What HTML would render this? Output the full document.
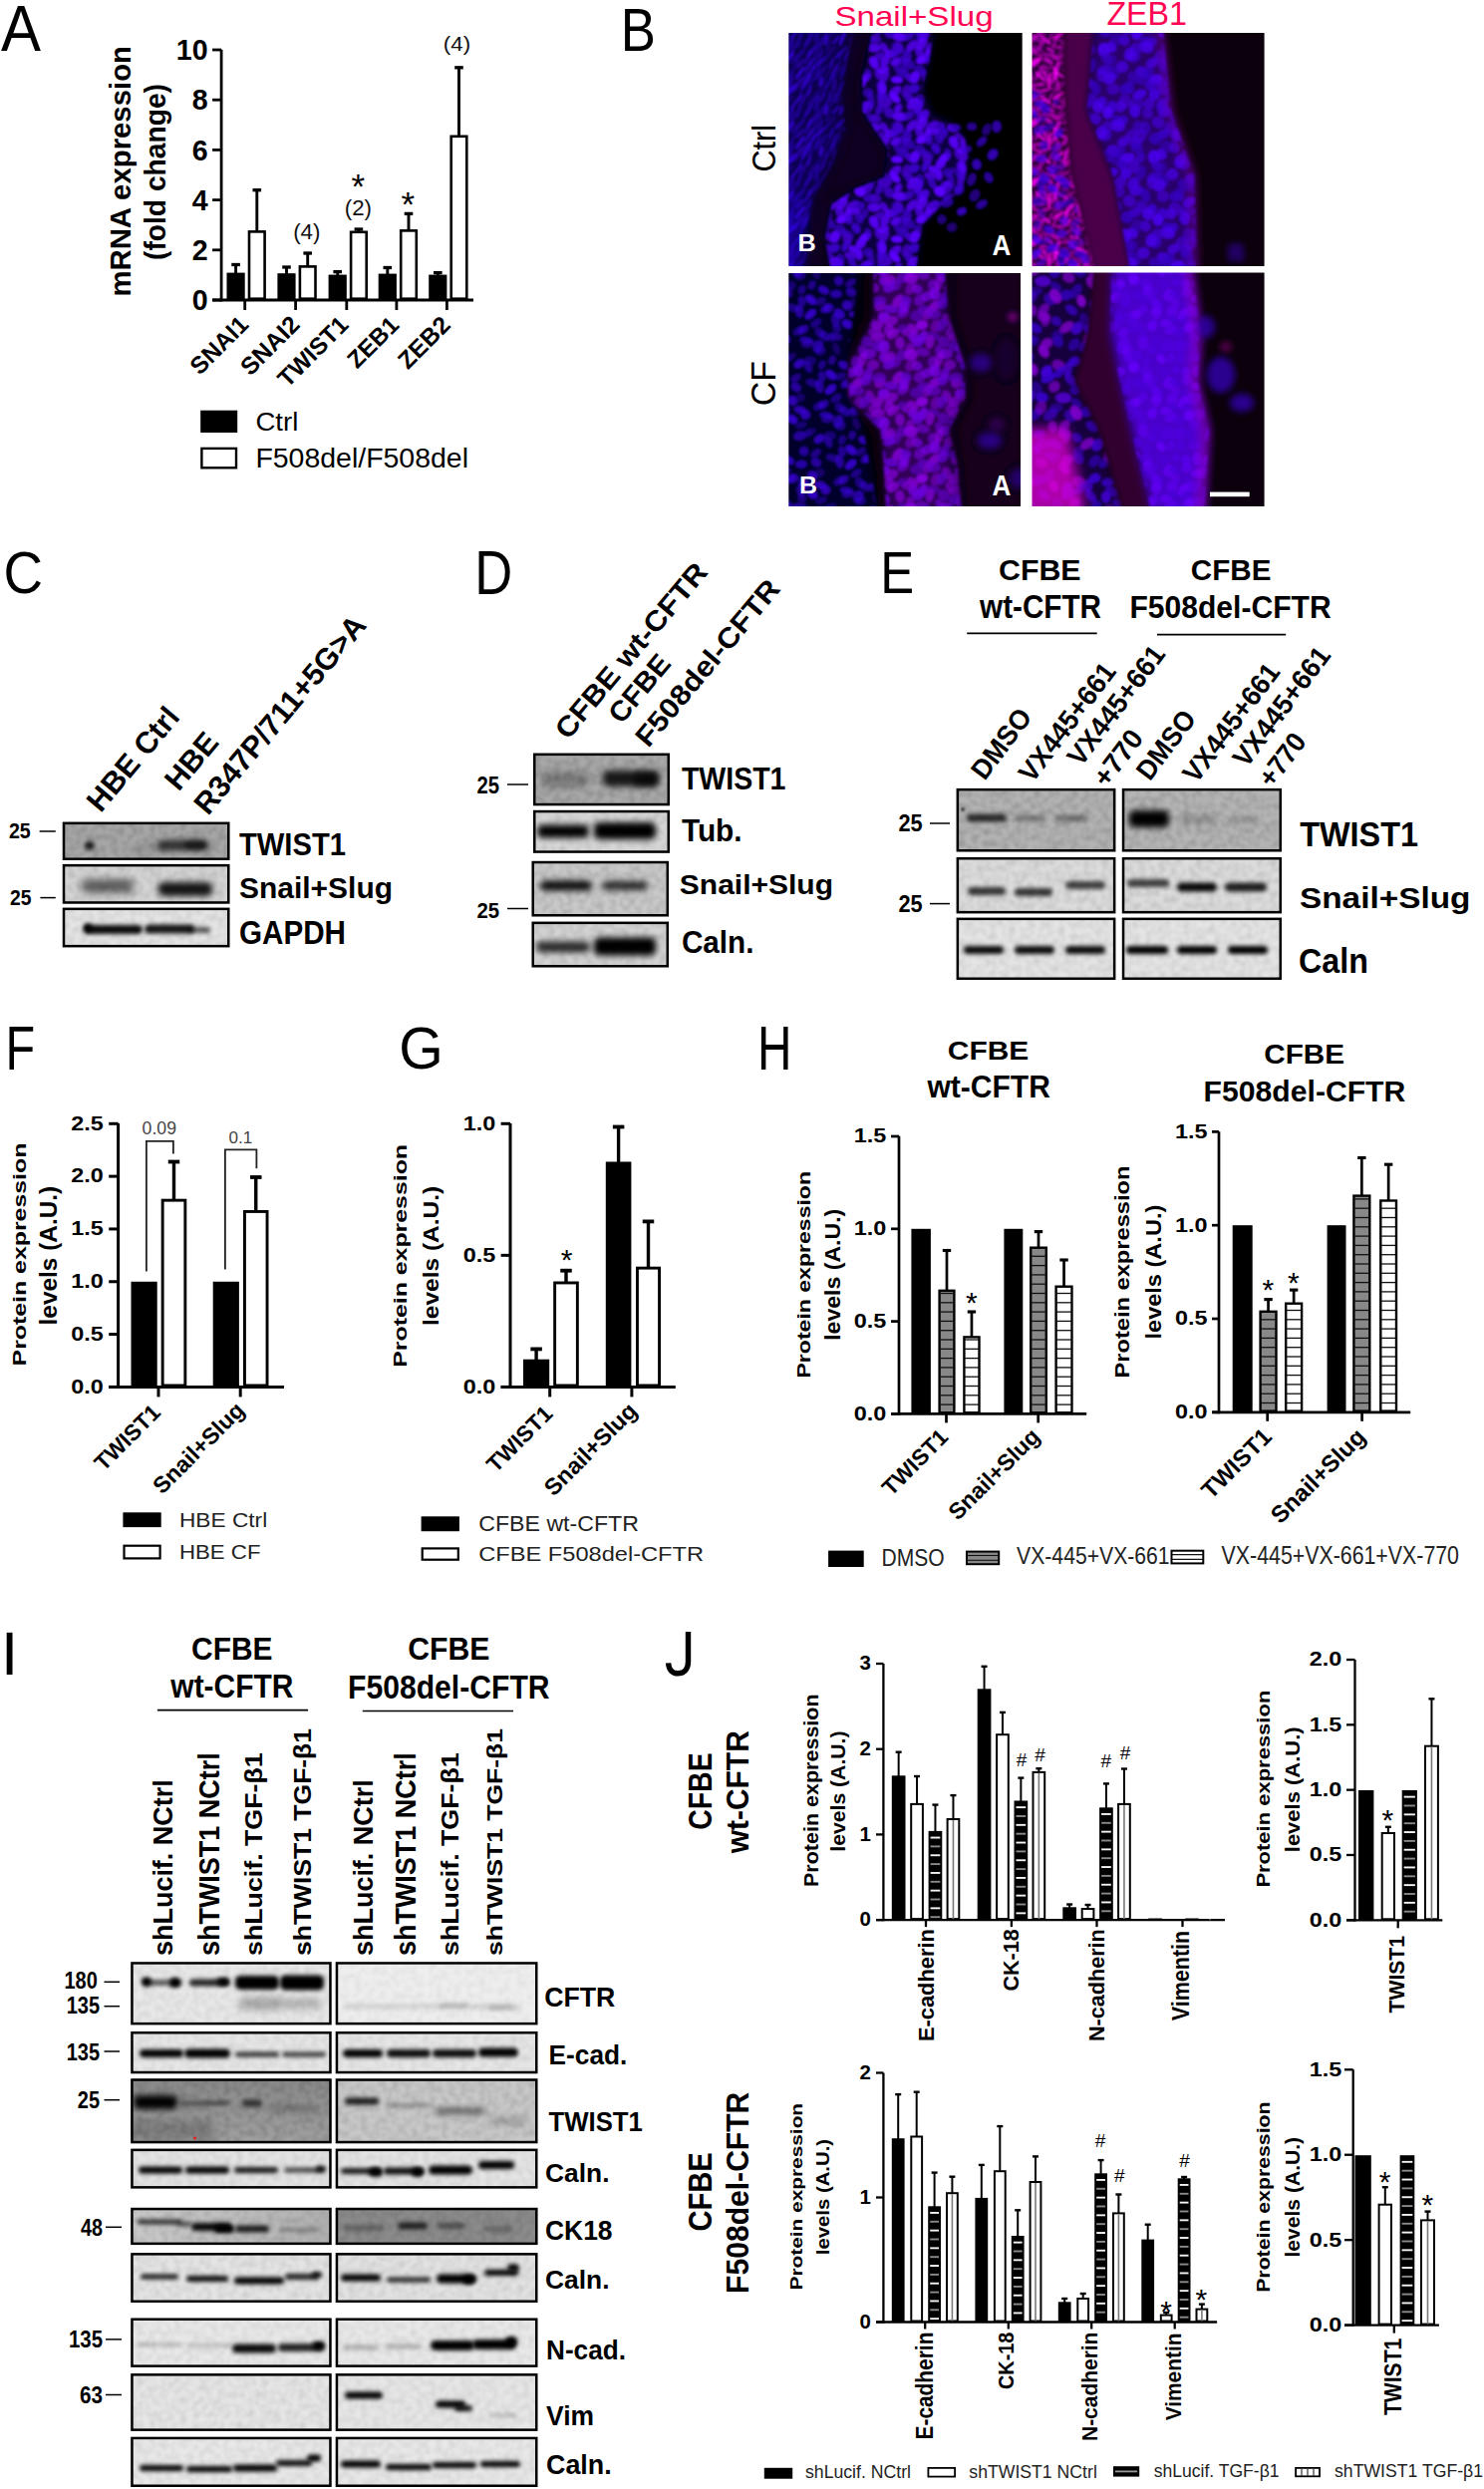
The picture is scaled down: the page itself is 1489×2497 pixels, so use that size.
<!DOCTYPE html>
<html><head><meta charset="utf-8"><style>
html,body{margin:0;padding:0;background:#fff;}
svg{display:block;}
text{font-family:'Liberation Sans', sans-serif;}
</style></head><body>
<svg width="1489" height="2497" viewBox="0 0 1489 2497">
<defs><filter id="soft" x="0" y="0" width="100%" height="100%"><feGaussianBlur stdDeviation="1.0"/></filter><filter id="mb2" x="-100%" y="-100%" width="300%" height="300%"><feGaussianBlur stdDeviation="2"/></filter><filter id="mb3" x="-100%" y="-100%" width="300%" height="300%"><feGaussianBlur stdDeviation="3"/></filter><filter id="mb4" x="-100%" y="-100%" width="300%" height="300%"><feGaussianBlur stdDeviation="4"/></filter><filter id="mb5" x="-100%" y="-100%" width="300%" height="300%"><feGaussianBlur stdDeviation="5"/></filter><filter id="mb6" x="-100%" y="-100%" width="300%" height="300%"><feGaussianBlur stdDeviation="6"/></filter><filter id="mb8" x="-100%" y="-100%" width="300%" height="300%"><feGaussianBlur stdDeviation="8"/></filter><filter id="mb12" x="-100%" y="-100%" width="300%" height="300%"><feGaussianBlur stdDeviation="12"/></filter><clipPath id="clipTL"><rect x="791.3" y="33" width="234.4000000000001" height="234"/></clipPath><clipPath id="clipTR"><rect x="1035.5" y="33" width="233.0999999999999" height="234"/></clipPath><clipPath id="clipBL"><rect x="791.3" y="274" width="232.70000000000005" height="234"/></clipPath><clipPath id="clipBR"><rect x="1035.5" y="273.5" width="233.0999999999999" height="234.5"/></clipPath><pattern id="pStreak" width="70" height="70" patternUnits="userSpaceOnUse"><ellipse cx="-3" cy="2" rx="8.8" ry="1.5" transform="rotate(-62 -3 2)" fill="#4004ff" fill-opacity="0.5"/><ellipse cx="-3" cy="72" rx="8.8" ry="1.5" transform="rotate(-62 -3 72)" fill="#4004ff" fill-opacity="0.5"/><ellipse cx="67" cy="2" rx="8.8" ry="1.5" transform="rotate(-62 67 2)" fill="#4004ff" fill-opacity="0.5"/><ellipse cx="67" cy="72" rx="8.8" ry="1.5" transform="rotate(-62 67 72)" fill="#4004ff" fill-opacity="0.5"/><ellipse cx="7" cy="-2" rx="7.4" ry="2.1" transform="rotate(-66 7 -2)" fill="#2a02c0" fill-opacity="0.6"/><ellipse cx="7" cy="68" rx="7.4" ry="2.1" transform="rotate(-66 7 68)" fill="#2a02c0" fill-opacity="0.6"/><ellipse cx="77" cy="-2" rx="7.4" ry="2.1" transform="rotate(-66 77 -2)" fill="#2a02c0" fill-opacity="0.6"/><ellipse cx="77" cy="68" rx="7.4" ry="2.1" transform="rotate(-66 77 68)" fill="#2a02c0" fill-opacity="0.6"/><ellipse cx="14" cy="2" rx="8.0" ry="1.3" transform="rotate(-69 14 2)" fill="#2a02c0" fill-opacity="0.3"/><ellipse cx="14" cy="72" rx="8.0" ry="1.3" transform="rotate(-69 14 72)" fill="#2a02c0" fill-opacity="0.3"/><ellipse cx="24" cy="3" rx="6.9" ry="1.4" transform="rotate(-65 24 3)" fill="#2a02c0" fill-opacity="0.5"/><ellipse cx="24" cy="73" rx="6.9" ry="1.4" transform="rotate(-65 24 73)" fill="#2a02c0" fill-opacity="0.5"/><ellipse cx="33" cy="3" rx="7.8" ry="1.5" transform="rotate(-55 33 3)" fill="#4004ff" fill-opacity="0.7"/><ellipse cx="33" cy="73" rx="7.8" ry="1.5" transform="rotate(-55 33 73)" fill="#4004ff" fill-opacity="0.7"/><ellipse cx="42" cy="-1" rx="9.6" ry="2.1" transform="rotate(-78 42 -1)" fill="#2001a0" fill-opacity="0.3"/><ellipse cx="42" cy="69" rx="9.6" ry="2.1" transform="rotate(-78 42 69)" fill="#2001a0" fill-opacity="0.3"/><ellipse cx="45" cy="1" rx="8.6" ry="2.1" transform="rotate(-65 45 1)" fill="#3503e0" fill-opacity="0.4"/><ellipse cx="45" cy="71" rx="8.6" ry="2.1" transform="rotate(-65 45 71)" fill="#3503e0" fill-opacity="0.4"/><ellipse cx="55" cy="2" rx="9.2" ry="1.7" transform="rotate(-58 55 2)" fill="#2a02c0" fill-opacity="0.5"/><ellipse cx="55" cy="72" rx="9.2" ry="1.7" transform="rotate(-58 55 72)" fill="#2a02c0" fill-opacity="0.5"/><ellipse cx="-6" cy="-1" rx="8.3" ry="1.6" transform="rotate(-47 -6 -1)" fill="#2001a0" fill-opacity="0.3"/><ellipse cx="-6" cy="69" rx="8.3" ry="1.6" transform="rotate(-47 -6 69)" fill="#2001a0" fill-opacity="0.3"/><ellipse cx="64" cy="-1" rx="8.3" ry="1.6" transform="rotate(-47 64 -1)" fill="#2001a0" fill-opacity="0.3"/><ellipse cx="64" cy="69" rx="8.3" ry="1.6" transform="rotate(-47 64 69)" fill="#2001a0" fill-opacity="0.3"/><ellipse cx="5" cy="5" rx="5.8" ry="2.0" transform="rotate(-67 5 5)" fill="#2a02c0" fill-opacity="0.5"/><ellipse cx="5" cy="75" rx="5.8" ry="2.0" transform="rotate(-67 5 75)" fill="#2a02c0" fill-opacity="0.5"/><ellipse cx="75" cy="5" rx="5.8" ry="2.0" transform="rotate(-67 75 5)" fill="#2a02c0" fill-opacity="0.5"/><ellipse cx="75" cy="75" rx="5.8" ry="2.0" transform="rotate(-67 75 75)" fill="#2a02c0" fill-opacity="0.5"/><ellipse cx="10" cy="9" rx="8.1" ry="1.8" transform="rotate(-56 10 9)" fill="#3503e0" fill-opacity="0.5"/><ellipse cx="23" cy="9" rx="7.7" ry="2.1" transform="rotate(-73 23 9)" fill="#2001a0" fill-opacity="0.7"/><ellipse cx="28" cy="7" rx="6.3" ry="1.7" transform="rotate(-44 28 7)" fill="#2a02c0" fill-opacity="0.4"/><ellipse cx="28" cy="77" rx="6.3" ry="1.7" transform="rotate(-44 28 77)" fill="#2a02c0" fill-opacity="0.4"/><ellipse cx="37" cy="10" rx="9.7" ry="1.7" transform="rotate(-77 37 10)" fill="#3503e0" fill-opacity="0.4"/><ellipse cx="37" cy="80" rx="9.7" ry="1.7" transform="rotate(-77 37 80)" fill="#3503e0" fill-opacity="0.4"/><ellipse cx="40" cy="9" rx="7.8" ry="1.4" transform="rotate(-62 40 9)" fill="#4004ff" fill-opacity="0.6"/><ellipse cx="50" cy="4" rx="7.7" ry="2.0" transform="rotate(-69 50 4)" fill="#2a02c0" fill-opacity="0.6"/><ellipse cx="50" cy="74" rx="7.7" ry="2.0" transform="rotate(-69 50 74)" fill="#2a02c0" fill-opacity="0.6"/><ellipse cx="59" cy="7" rx="5.9" ry="1.3" transform="rotate(-60 59 7)" fill="#2001a0" fill-opacity="0.3"/><ellipse cx="-1" cy="4" rx="9.3" ry="1.7" transform="rotate(-52 -1 4)" fill="#2001a0" fill-opacity="0.4"/><ellipse cx="-1" cy="74" rx="9.3" ry="1.7" transform="rotate(-52 -1 74)" fill="#2001a0" fill-opacity="0.4"/><ellipse cx="69" cy="4" rx="9.3" ry="1.7" transform="rotate(-52 69 4)" fill="#2001a0" fill-opacity="0.4"/><ellipse cx="69" cy="74" rx="9.3" ry="1.7" transform="rotate(-52 69 74)" fill="#2001a0" fill-opacity="0.4"/><ellipse cx="-3" cy="15" rx="6.7" ry="1.3" transform="rotate(-76 -3 15)" fill="#3503e0" fill-opacity="0.5"/><ellipse cx="67" cy="15" rx="6.7" ry="1.3" transform="rotate(-76 67 15)" fill="#3503e0" fill-opacity="0.5"/><ellipse cx="9" cy="13" rx="8.5" ry="1.7" transform="rotate(-77 9 13)" fill="#2001a0" fill-opacity="0.4"/><ellipse cx="79" cy="13" rx="8.5" ry="1.7" transform="rotate(-77 79 13)" fill="#2001a0" fill-opacity="0.4"/><ellipse cx="15" cy="12" rx="5.5" ry="2.1" transform="rotate(-62 15 12)" fill="#3503e0" fill-opacity="0.7"/><ellipse cx="23" cy="17" rx="6.1" ry="1.6" transform="rotate(-81 23 17)" fill="#3503e0" fill-opacity="0.5"/><ellipse cx="31" cy="14" rx="9.2" ry="2.2" transform="rotate(-57 31 14)" fill="#4004ff" fill-opacity="0.4"/><ellipse cx="40" cy="13" rx="7.9" ry="1.5" transform="rotate(-57 40 13)" fill="#2a02c0" fill-opacity="0.6"/><ellipse cx="44" cy="12" rx="5.2" ry="1.3" transform="rotate(-79 44 12)" fill="#2001a0" fill-opacity="0.6"/><ellipse cx="54" cy="12" rx="5.0" ry="2.1" transform="rotate(-80 54 12)" fill="#3503e0" fill-opacity="0.7"/><ellipse cx="-7" cy="12" rx="9.3" ry="2.2" transform="rotate(-54 -7 12)" fill="#2a02c0" fill-opacity="0.4"/><ellipse cx="63" cy="12" rx="9.3" ry="2.2" transform="rotate(-54 63 12)" fill="#2a02c0" fill-opacity="0.4"/><ellipse cx="3" cy="19" rx="8.4" ry="1.6" transform="rotate(-74 3 19)" fill="#2a02c0" fill-opacity="0.7"/><ellipse cx="73" cy="19" rx="8.4" ry="1.6" transform="rotate(-74 73 19)" fill="#2a02c0" fill-opacity="0.7"/><ellipse cx="11" cy="21" rx="5.1" ry="1.8" transform="rotate(-66 11 21)" fill="#2001a0" fill-opacity="0.3"/><ellipse cx="17" cy="20" rx="9.9" ry="2.0" transform="rotate(-68 17 20)" fill="#3503e0" fill-opacity="0.4"/><ellipse cx="24" cy="20" rx="7.7" ry="2.1" transform="rotate(-48 24 20)" fill="#4004ff" fill-opacity="0.6"/><ellipse cx="35" cy="18" rx="5.2" ry="1.3" transform="rotate(-75 35 18)" fill="#3503e0" fill-opacity="0.4"/><ellipse cx="42" cy="21" rx="6.3" ry="1.5" transform="rotate(-77 42 21)" fill="#3503e0" fill-opacity="0.6"/><ellipse cx="51" cy="24" rx="9.4" ry="1.3" transform="rotate(-60 51 24)" fill="#2a02c0" fill-opacity="0.4"/><ellipse cx="58" cy="20" rx="10.0" ry="1.3" transform="rotate(-77 58 20)" fill="#2a02c0" fill-opacity="0.5"/><ellipse cx="-2" cy="20" rx="7.9" ry="1.4" transform="rotate(-79 -2 20)" fill="#2001a0" fill-opacity="0.4"/><ellipse cx="68" cy="20" rx="7.9" ry="1.4" transform="rotate(-79 68 20)" fill="#2001a0" fill-opacity="0.4"/><ellipse cx="-1" cy="28" rx="5.6" ry="2.1" transform="rotate(-78 -1 28)" fill="#2a02c0" fill-opacity="0.6"/><ellipse cx="69" cy="28" rx="5.6" ry="2.1" transform="rotate(-78 69 28)" fill="#2a02c0" fill-opacity="0.6"/><ellipse cx="4" cy="29" rx="5.5" ry="1.3" transform="rotate(-47 4 29)" fill="#2a02c0" fill-opacity="0.3"/><ellipse cx="74" cy="29" rx="5.5" ry="1.3" transform="rotate(-47 74 29)" fill="#2a02c0" fill-opacity="0.3"/><ellipse cx="18" cy="29" rx="5.8" ry="1.7" transform="rotate(-55 18 29)" fill="#3503e0" fill-opacity="0.6"/><ellipse cx="21" cy="31" rx="6.9" ry="2.2" transform="rotate(-46 21 31)" fill="#2001a0" fill-opacity="0.5"/><ellipse cx="33" cy="27" rx="6.0" ry="1.5" transform="rotate(-81 33 27)" fill="#2001a0" fill-opacity="0.6"/><ellipse cx="38" cy="27" rx="7.0" ry="1.3" transform="rotate(-69 38 27)" fill="#4004ff" fill-opacity="0.3"/><ellipse cx="45" cy="29" rx="9.9" ry="1.7" transform="rotate(-54 45 29)" fill="#2001a0" fill-opacity="0.4"/><ellipse cx="55" cy="27" rx="6.2" ry="1.3" transform="rotate(-71 55 27)" fill="#4004ff" fill-opacity="0.3"/><ellipse cx="63" cy="27" rx="6.1" ry="2.2" transform="rotate(-80 63 27)" fill="#3503e0" fill-opacity="0.4"/><ellipse cx="6" cy="37" rx="6.5" ry="1.5" transform="rotate(-60 6 37)" fill="#2a02c0" fill-opacity="0.4"/><ellipse cx="76" cy="37" rx="6.5" ry="1.5" transform="rotate(-60 76 37)" fill="#2a02c0" fill-opacity="0.4"/><ellipse cx="8" cy="33" rx="5.4" ry="1.8" transform="rotate(-79 8 33)" fill="#2a02c0" fill-opacity="0.3"/><ellipse cx="16" cy="37" rx="6.8" ry="1.7" transform="rotate(-48 16 37)" fill="#2a02c0" fill-opacity="0.5"/><ellipse cx="29" cy="32" rx="9.7" ry="1.4" transform="rotate(-51 29 32)" fill="#3503e0" fill-opacity="0.6"/><ellipse cx="34" cy="33" rx="7.6" ry="2.1" transform="rotate(-70 34 33)" fill="#3503e0" fill-opacity="0.3"/><ellipse cx="46" cy="32" rx="6.6" ry="2.1" transform="rotate(-50 46 32)" fill="#3503e0" fill-opacity="0.3"/><ellipse cx="50" cy="33" rx="8.6" ry="1.9" transform="rotate(-72 50 33)" fill="#2a02c0" fill-opacity="0.6"/><ellipse cx="58" cy="35" rx="6.3" ry="1.6" transform="rotate(-60 58 35)" fill="#2a02c0" fill-opacity="0.4"/><ellipse cx="-5" cy="33" rx="5.1" ry="1.8" transform="rotate(-65 -5 33)" fill="#2a02c0" fill-opacity="0.3"/><ellipse cx="65" cy="33" rx="5.1" ry="1.8" transform="rotate(-65 65 33)" fill="#2a02c0" fill-opacity="0.3"/><ellipse cx="-1" cy="40" rx="5.6" ry="1.5" transform="rotate(-49 -1 40)" fill="#4004ff" fill-opacity="0.5"/><ellipse cx="69" cy="40" rx="5.6" ry="1.5" transform="rotate(-49 69 40)" fill="#4004ff" fill-opacity="0.5"/><ellipse cx="5" cy="39" rx="7.4" ry="1.4" transform="rotate(-69 5 39)" fill="#4004ff" fill-opacity="0.7"/><ellipse cx="75" cy="39" rx="7.4" ry="1.4" transform="rotate(-69 75 39)" fill="#4004ff" fill-opacity="0.7"/><ellipse cx="17" cy="40" rx="6.6" ry="1.9" transform="rotate(-44 17 40)" fill="#4004ff" fill-opacity="0.4"/><ellipse cx="24" cy="43" rx="8.3" ry="2.2" transform="rotate(-73 24 43)" fill="#2a02c0" fill-opacity="0.6"/><ellipse cx="32" cy="41" rx="7.6" ry="2.0" transform="rotate(-74 32 41)" fill="#2001a0" fill-opacity="0.6"/><ellipse cx="41" cy="41" rx="8.5" ry="1.9" transform="rotate(-58 41 41)" fill="#2a02c0" fill-opacity="0.7"/><ellipse cx="50" cy="42" rx="5.9" ry="1.5" transform="rotate(-73 50 42)" fill="#2a02c0" fill-opacity="0.5"/><ellipse cx="54" cy="43" rx="6.9" ry="2.0" transform="rotate(-60 54 43)" fill="#2a02c0" fill-opacity="0.5"/><ellipse cx="59" cy="40" rx="5.5" ry="1.9" transform="rotate(-79 59 40)" fill="#3503e0" fill-opacity="0.7"/><ellipse cx="5" cy="52" rx="8.4" ry="1.3" transform="rotate(-48 5 52)" fill="#3503e0" fill-opacity="0.7"/><ellipse cx="75" cy="52" rx="8.4" ry="1.3" transform="rotate(-48 75 52)" fill="#3503e0" fill-opacity="0.7"/><ellipse cx="11" cy="51" rx="7.2" ry="1.4" transform="rotate(-69 11 51)" fill="#3503e0" fill-opacity="0.5"/><ellipse cx="19" cy="47" rx="7.2" ry="1.7" transform="rotate(-46 19 47)" fill="#2001a0" fill-opacity="0.4"/><ellipse cx="26" cy="49" rx="9.8" ry="1.7" transform="rotate(-59 26 49)" fill="#2a02c0" fill-opacity="0.5"/><ellipse cx="36" cy="51" rx="6.0" ry="1.5" transform="rotate(-60 36 51)" fill="#2001a0" fill-opacity="0.4"/><ellipse cx="45" cy="51" rx="7.2" ry="2.1" transform="rotate(-48 45 51)" fill="#3503e0" fill-opacity="0.5"/><ellipse cx="50" cy="51" rx="8.8" ry="1.8" transform="rotate(-67 50 51)" fill="#2001a0" fill-opacity="0.6"/><ellipse cx="-9" cy="46" rx="7.8" ry="1.2" transform="rotate(-70 -9 46)" fill="#3503e0" fill-opacity="0.3"/><ellipse cx="61" cy="46" rx="7.8" ry="1.2" transform="rotate(-70 61 46)" fill="#3503e0" fill-opacity="0.3"/><ellipse cx="-5" cy="51" rx="7.2" ry="1.9" transform="rotate(-52 -5 51)" fill="#2001a0" fill-opacity="0.3"/><ellipse cx="65" cy="51" rx="7.2" ry="1.9" transform="rotate(-52 65 51)" fill="#2001a0" fill-opacity="0.3"/><ellipse cx="-0" cy="56" rx="6.5" ry="1.6" transform="rotate(-51 -0 56)" fill="#4004ff" fill-opacity="0.3"/><ellipse cx="70" cy="56" rx="6.5" ry="1.6" transform="rotate(-51 70 56)" fill="#4004ff" fill-opacity="0.3"/><ellipse cx="11" cy="55" rx="7.8" ry="2.2" transform="rotate(-57 11 55)" fill="#3503e0" fill-opacity="0.7"/><ellipse cx="15" cy="58" rx="7.0" ry="1.9" transform="rotate(-42 15 58)" fill="#2001a0" fill-opacity="0.6"/><ellipse cx="23" cy="57" rx="6.0" ry="1.7" transform="rotate(-55 23 57)" fill="#4004ff" fill-opacity="0.7"/><ellipse cx="30" cy="57" rx="9.9" ry="1.9" transform="rotate(-43 30 57)" fill="#2a02c0" fill-opacity="0.5"/><ellipse cx="41" cy="57" rx="8.2" ry="1.8" transform="rotate(-66 41 57)" fill="#3503e0" fill-opacity="0.5"/><ellipse cx="50" cy="58" rx="9.2" ry="2.0" transform="rotate(-49 50 58)" fill="#2a02c0" fill-opacity="0.4"/><ellipse cx="53" cy="57" rx="9.4" ry="1.7" transform="rotate(-76 53 57)" fill="#2001a0" fill-opacity="0.5"/><ellipse cx="-8" cy="53" rx="7.6" ry="1.9" transform="rotate(-65 -8 53)" fill="#2001a0" fill-opacity="0.3"/><ellipse cx="62" cy="53" rx="7.6" ry="1.9" transform="rotate(-65 62 53)" fill="#2001a0" fill-opacity="0.3"/><ellipse cx="3" cy="-9" rx="8.6" ry="1.4" transform="rotate(-78 3 -9)" fill="#2001a0" fill-opacity="0.5"/><ellipse cx="3" cy="61" rx="8.6" ry="1.4" transform="rotate(-78 3 61)" fill="#2001a0" fill-opacity="0.5"/><ellipse cx="73" cy="-9" rx="8.6" ry="1.4" transform="rotate(-78 73 -9)" fill="#2001a0" fill-opacity="0.5"/><ellipse cx="73" cy="61" rx="8.6" ry="1.4" transform="rotate(-78 73 61)" fill="#2001a0" fill-opacity="0.5"/><ellipse cx="10" cy="-9" rx="9.4" ry="1.5" transform="rotate(-79 10 -9)" fill="#2001a0" fill-opacity="0.5"/><ellipse cx="10" cy="61" rx="9.4" ry="1.5" transform="rotate(-79 10 61)" fill="#2001a0" fill-opacity="0.5"/><ellipse cx="80" cy="-9" rx="9.4" ry="1.5" transform="rotate(-79 80 -9)" fill="#2001a0" fill-opacity="0.5"/><ellipse cx="80" cy="61" rx="9.4" ry="1.5" transform="rotate(-79 80 61)" fill="#2001a0" fill-opacity="0.5"/><ellipse cx="20" cy="60" rx="6.5" ry="1.9" transform="rotate(-42 20 60)" fill="#2001a0" fill-opacity="0.4"/><ellipse cx="29" cy="-8" rx="7.0" ry="1.7" transform="rotate(-72 29 -8)" fill="#2001a0" fill-opacity="0.6"/><ellipse cx="29" cy="62" rx="7.0" ry="1.7" transform="rotate(-72 29 62)" fill="#2001a0" fill-opacity="0.6"/><ellipse cx="33" cy="-6" rx="6.2" ry="1.9" transform="rotate(-48 33 -6)" fill="#4004ff" fill-opacity="0.4"/><ellipse cx="33" cy="64" rx="6.2" ry="1.9" transform="rotate(-48 33 64)" fill="#4004ff" fill-opacity="0.4"/><ellipse cx="42" cy="-5" rx="8.9" ry="1.4" transform="rotate(-57 42 -5)" fill="#3503e0" fill-opacity="0.6"/><ellipse cx="42" cy="65" rx="8.9" ry="1.4" transform="rotate(-57 42 65)" fill="#3503e0" fill-opacity="0.6"/><ellipse cx="51" cy="-6" rx="9.7" ry="1.3" transform="rotate(-44 51 -6)" fill="#4004ff" fill-opacity="0.5"/><ellipse cx="51" cy="64" rx="9.7" ry="1.3" transform="rotate(-44 51 64)" fill="#4004ff" fill-opacity="0.5"/><ellipse cx="56" cy="-9" rx="8.6" ry="1.6" transform="rotate(-52 56 -9)" fill="#3503e0" fill-opacity="0.3"/><ellipse cx="56" cy="61" rx="8.6" ry="1.6" transform="rotate(-52 56 61)" fill="#3503e0" fill-opacity="0.3"/><ellipse cx="-6" cy="-6" rx="5.3" ry="1.4" transform="rotate(-69 -6 -6)" fill="#2a02c0" fill-opacity="0.7"/><ellipse cx="-6" cy="64" rx="5.3" ry="1.4" transform="rotate(-69 -6 64)" fill="#2a02c0" fill-opacity="0.7"/><ellipse cx="64" cy="-6" rx="5.3" ry="1.4" transform="rotate(-69 64 -6)" fill="#2a02c0" fill-opacity="0.7"/><ellipse cx="64" cy="64" rx="5.3" ry="1.4" transform="rotate(-69 64 64)" fill="#2a02c0" fill-opacity="0.7"/></pattern><pattern id="pEpiB" width="80" height="80" patternUnits="userSpaceOnUse"><ellipse cx="4" cy="4" rx="5.1" ry="3.3" transform="rotate(150 4 4)" fill="#3e03d0" fill-opacity="0.7"/><ellipse cx="4" cy="84" rx="5.1" ry="3.3" transform="rotate(150 4 84)" fill="#3e03d0" fill-opacity="0.7"/><ellipse cx="84" cy="4" rx="5.1" ry="3.3" transform="rotate(150 84 4)" fill="#3e03d0" fill-opacity="0.7"/><ellipse cx="84" cy="84" rx="5.1" ry="3.3" transform="rotate(150 84 84)" fill="#3e03d0" fill-opacity="0.7"/><ellipse cx="7" cy="-4" rx="6.7" ry="4.6" transform="rotate(115 7 -4)" fill="#4403c8" fill-opacity="1.0"/><ellipse cx="7" cy="76" rx="6.7" ry="4.6" transform="rotate(115 7 76)" fill="#4403c8" fill-opacity="1.0"/><ellipse cx="87" cy="-4" rx="6.7" ry="4.6" transform="rotate(115 87 -4)" fill="#4403c8" fill-opacity="1.0"/><ellipse cx="87" cy="76" rx="6.7" ry="4.6" transform="rotate(115 87 76)" fill="#4403c8" fill-opacity="1.0"/><ellipse cx="20" cy="-0" rx="5.7" ry="3.3" transform="rotate(5 20 -0)" fill="#5a05ff" fill-opacity="1.0"/><ellipse cx="20" cy="80" rx="5.7" ry="3.3" transform="rotate(5 20 80)" fill="#5a05ff" fill-opacity="1.0"/><ellipse cx="34" cy="-1" rx="7.2" ry="3.4" transform="rotate(32 34 -1)" fill="#5204f0" fill-opacity="0.7"/><ellipse cx="34" cy="79" rx="7.2" ry="3.4" transform="rotate(32 34 79)" fill="#5204f0" fill-opacity="0.7"/><ellipse cx="38" cy="-3" rx="6.3" ry="4.6" transform="rotate(121 38 -3)" fill="#5204f0" fill-opacity="1.0"/><ellipse cx="38" cy="77" rx="6.3" ry="4.6" transform="rotate(121 38 77)" fill="#5204f0" fill-opacity="1.0"/><ellipse cx="50" cy="-1" rx="6.3" ry="4.5" transform="rotate(66 50 -1)" fill="#4403c8" fill-opacity="0.8"/><ellipse cx="50" cy="79" rx="6.3" ry="4.5" transform="rotate(66 50 79)" fill="#4403c8" fill-opacity="0.8"/><ellipse cx="64" cy="4" rx="5.4" ry="4.3" transform="rotate(129 64 4)" fill="#5a05ff" fill-opacity="0.9"/><ellipse cx="64" cy="84" rx="5.4" ry="4.3" transform="rotate(129 64 84)" fill="#5a05ff" fill-opacity="0.9"/><ellipse cx="68" cy="-2" rx="6.2" ry="3.9" transform="rotate(143 68 -2)" fill="#5a05ff" fill-opacity="1.0"/><ellipse cx="68" cy="78" rx="6.2" ry="3.9" transform="rotate(143 68 78)" fill="#5a05ff" fill-opacity="1.0"/><ellipse cx="5" cy="9" rx="7.3" ry="4.2" transform="rotate(88 5 9)" fill="#5204f0" fill-opacity="1.0"/><ellipse cx="85" cy="9" rx="7.3" ry="4.2" transform="rotate(88 85 9)" fill="#5204f0" fill-opacity="1.0"/><ellipse cx="18" cy="12" rx="7.2" ry="4.1" transform="rotate(139 18 12)" fill="#5a05ff" fill-opacity="0.8"/><ellipse cx="29" cy="11" rx="6.3" ry="3.9" transform="rotate(117 29 11)" fill="#4403c8" fill-opacity="0.8"/><ellipse cx="37" cy="9" rx="5.9" ry="4.2" transform="rotate(159 37 9)" fill="#3e03d0" fill-opacity="0.9"/><ellipse cx="49" cy="6" rx="6.9" ry="3.3" transform="rotate(118 49 6)" fill="#3e03d0" fill-opacity="0.9"/><ellipse cx="49" cy="86" rx="6.9" ry="3.3" transform="rotate(118 49 86)" fill="#3e03d0" fill-opacity="0.9"/><ellipse cx="57" cy="12" rx="6.9" ry="3.4" transform="rotate(48 57 12)" fill="#5204f0" fill-opacity="1.0"/><ellipse cx="61" cy="12" rx="6.9" ry="3.3" transform="rotate(65 61 12)" fill="#5204f0" fill-opacity="0.9"/><ellipse cx="71" cy="13" rx="5.1" ry="4.2" transform="rotate(4 71 13)" fill="#3e03d0" fill-opacity="0.7"/><ellipse cx="4" cy="20" rx="6.3" ry="3.2" transform="rotate(106 4 20)" fill="#5204f0" fill-opacity="0.7"/><ellipse cx="84" cy="20" rx="6.3" ry="3.2" transform="rotate(106 84 20)" fill="#5204f0" fill-opacity="0.7"/><ellipse cx="6" cy="17" rx="6.5" ry="4.2" transform="rotate(20 6 17)" fill="#3e03d0" fill-opacity="0.8"/><ellipse cx="86" cy="17" rx="6.5" ry="4.2" transform="rotate(20 86 17)" fill="#3e03d0" fill-opacity="0.8"/><ellipse cx="18" cy="18" rx="6.5" ry="3.3" transform="rotate(48 18 18)" fill="#5a05ff" fill-opacity="1.0"/><ellipse cx="32" cy="18" rx="5.6" ry="4.1" transform="rotate(57 32 18)" fill="#4a03e8" fill-opacity="0.7"/><ellipse cx="43" cy="21" rx="6.3" ry="4.3" transform="rotate(88 43 21)" fill="#3e03d0" fill-opacity="0.7"/><ellipse cx="54" cy="16" rx="6.5" ry="3.8" transform="rotate(3 54 16)" fill="#4403c8" fill-opacity="1.0"/><ellipse cx="62" cy="16" rx="5.3" ry="3.4" transform="rotate(82 62 16)" fill="#5204f0" fill-opacity="0.8"/><ellipse cx="-6" cy="21" rx="7.5" ry="3.5" transform="rotate(80 -6 21)" fill="#3e03d0" fill-opacity="0.7"/><ellipse cx="74" cy="21" rx="7.5" ry="3.5" transform="rotate(80 74 21)" fill="#3e03d0" fill-opacity="0.7"/><ellipse cx="3" cy="29" rx="6.6" ry="3.7" transform="rotate(123 3 29)" fill="#3e03d0" fill-opacity="0.8"/><ellipse cx="83" cy="29" rx="6.6" ry="3.7" transform="rotate(123 83 29)" fill="#3e03d0" fill-opacity="0.8"/><ellipse cx="11" cy="23" rx="6.0" ry="3.4" transform="rotate(130 11 23)" fill="#5204f0" fill-opacity="0.7"/><ellipse cx="21" cy="29" rx="5.3" ry="3.2" transform="rotate(121 21 29)" fill="#5a05ff" fill-opacity="0.8"/><ellipse cx="36" cy="24" rx="7.3" ry="4.5" transform="rotate(131 36 24)" fill="#5a05ff" fill-opacity="0.8"/><ellipse cx="41" cy="27" rx="7.2" ry="4.5" transform="rotate(105 41 27)" fill="#4a03e8" fill-opacity="0.9"/><ellipse cx="55" cy="23" rx="7.4" ry="3.4" transform="rotate(66 55 23)" fill="#3e03d0" fill-opacity="0.8"/><ellipse cx="68" cy="26" rx="5.3" ry="3.5" transform="rotate(140 68 26)" fill="#4a03e8" fill-opacity="0.9"/><ellipse cx="71" cy="28" rx="6.2" ry="4.4" transform="rotate(110 71 28)" fill="#4a03e8" fill-opacity="0.7"/><ellipse cx="-1" cy="39" rx="5.2" ry="4.3" transform="rotate(35 -1 39)" fill="#4403c8" fill-opacity="0.8"/><ellipse cx="79" cy="39" rx="5.2" ry="4.3" transform="rotate(35 79 39)" fill="#4403c8" fill-opacity="0.8"/><ellipse cx="12" cy="33" rx="5.9" ry="4.4" transform="rotate(46 12 33)" fill="#4a03e8" fill-opacity="0.7"/><ellipse cx="23" cy="37" rx="7.4" ry="4.2" transform="rotate(4 23 37)" fill="#5a05ff" fill-opacity="0.9"/><ellipse cx="32" cy="36" rx="5.9" ry="3.8" transform="rotate(144 32 36)" fill="#3e03d0" fill-opacity="0.8"/><ellipse cx="43" cy="37" rx="6.8" ry="3.8" transform="rotate(89 43 37)" fill="#3e03d0" fill-opacity="0.8"/><ellipse cx="47" cy="36" rx="6.4" ry="4.2" transform="rotate(126 47 36)" fill="#4a03e8" fill-opacity="0.9"/><ellipse cx="63" cy="32" rx="5.9" ry="4.6" transform="rotate(26 63 32)" fill="#5a05ff" fill-opacity="1.0"/><ellipse cx="-7" cy="39" rx="6.7" ry="4.3" transform="rotate(7 -7 39)" fill="#3e03d0" fill-opacity="0.8"/><ellipse cx="73" cy="39" rx="6.7" ry="4.3" transform="rotate(7 73 39)" fill="#3e03d0" fill-opacity="0.8"/><ellipse cx="7" cy="48" rx="5.8" ry="3.4" transform="rotate(52 7 48)" fill="#5204f0" fill-opacity="0.8"/><ellipse cx="19" cy="46" rx="5.2" ry="3.9" transform="rotate(129 19 46)" fill="#3e03d0" fill-opacity="0.7"/><ellipse cx="22" cy="48" rx="5.6" ry="4.4" transform="rotate(65 22 48)" fill="#4403c8" fill-opacity="0.9"/><ellipse cx="35" cy="46" rx="7.0" ry="3.7" transform="rotate(133 35 46)" fill="#5a05ff" fill-opacity="0.8"/><ellipse cx="45" cy="44" rx="6.8" ry="4.5" transform="rotate(127 45 44)" fill="#5a05ff" fill-opacity="0.8"/><ellipse cx="55" cy="46" rx="7.3" ry="3.3" transform="rotate(148 55 46)" fill="#5204f0" fill-opacity="0.8"/><ellipse cx="62" cy="47" rx="6.0" ry="4.4" transform="rotate(165 62 47)" fill="#3e03d0" fill-opacity="0.8"/><ellipse cx="-3" cy="48" rx="6.6" ry="4.3" transform="rotate(3 -3 48)" fill="#5204f0" fill-opacity="0.9"/><ellipse cx="77" cy="48" rx="6.6" ry="4.3" transform="rotate(3 77 48)" fill="#5204f0" fill-opacity="0.9"/><ellipse cx="1" cy="57" rx="7.2" ry="3.3" transform="rotate(147 1 57)" fill="#5204f0" fill-opacity="0.7"/><ellipse cx="81" cy="57" rx="7.2" ry="3.3" transform="rotate(147 81 57)" fill="#5204f0" fill-opacity="0.7"/><ellipse cx="14" cy="54" rx="6.2" ry="4.1" transform="rotate(2 14 54)" fill="#5a05ff" fill-opacity="0.8"/><ellipse cx="20" cy="51" rx="6.8" ry="4.6" transform="rotate(137 20 51)" fill="#3e03d0" fill-opacity="0.7"/><ellipse cx="30" cy="56" rx="6.6" ry="4.3" transform="rotate(87 30 56)" fill="#3e03d0" fill-opacity="0.8"/><ellipse cx="43" cy="53" rx="7.5" ry="4.1" transform="rotate(63 43 53)" fill="#5a05ff" fill-opacity="0.7"/><ellipse cx="51" cy="56" rx="6.8" ry="3.3" transform="rotate(90 51 56)" fill="#5a05ff" fill-opacity="0.9"/><ellipse cx="57" cy="52" rx="6.2" ry="3.2" transform="rotate(6 57 52)" fill="#5a05ff" fill-opacity="0.8"/><ellipse cx="67" cy="55" rx="6.2" ry="3.4" transform="rotate(124 67 55)" fill="#3e03d0" fill-opacity="0.7"/><ellipse cx="8" cy="61" rx="6.6" ry="4.3" transform="rotate(118 8 61)" fill="#5a05ff" fill-opacity="0.8"/><ellipse cx="19" cy="62" rx="5.5" ry="4.0" transform="rotate(153 19 62)" fill="#5204f0" fill-opacity="0.9"/><ellipse cx="26" cy="61" rx="5.6" ry="3.8" transform="rotate(42 26 61)" fill="#3e03d0" fill-opacity="0.7"/><ellipse cx="32" cy="64" rx="7.0" ry="4.4" transform="rotate(38 32 64)" fill="#3e03d0" fill-opacity="0.7"/><ellipse cx="45" cy="60" rx="6.1" ry="3.6" transform="rotate(161 45 60)" fill="#5a05ff" fill-opacity="1.0"/><ellipse cx="52" cy="60" rx="5.4" ry="4.4" transform="rotate(84 52 60)" fill="#3e03d0" fill-opacity="0.7"/><ellipse cx="62" cy="59" rx="5.7" ry="4.0" transform="rotate(68 62 59)" fill="#3e03d0" fill-opacity="0.7"/><ellipse cx="-3" cy="63" rx="6.5" ry="4.2" transform="rotate(58 -3 63)" fill="#5a05ff" fill-opacity="0.9"/><ellipse cx="77" cy="63" rx="6.5" ry="4.2" transform="rotate(58 77 63)" fill="#5a05ff" fill-opacity="0.9"/><ellipse cx="3" cy="-5" rx="6.9" ry="4.6" transform="rotate(52 3 -5)" fill="#4403c8" fill-opacity="0.9"/><ellipse cx="3" cy="75" rx="6.9" ry="4.6" transform="rotate(52 3 75)" fill="#4403c8" fill-opacity="0.9"/><ellipse cx="83" cy="-5" rx="6.9" ry="4.6" transform="rotate(52 83 -5)" fill="#4403c8" fill-opacity="0.9"/><ellipse cx="83" cy="75" rx="6.9" ry="4.6" transform="rotate(52 83 75)" fill="#4403c8" fill-opacity="0.9"/><ellipse cx="6" cy="70" rx="6.2" ry="3.6" transform="rotate(162 6 70)" fill="#5a05ff" fill-opacity="0.8"/><ellipse cx="86" cy="70" rx="6.2" ry="3.6" transform="rotate(162 86 70)" fill="#5a05ff" fill-opacity="0.8"/><ellipse cx="24" cy="69" rx="7.4" ry="3.4" transform="rotate(5 24 69)" fill="#3e03d0" fill-opacity="0.7"/><ellipse cx="26" cy="-6" rx="6.8" ry="4.1" transform="rotate(2 26 -6)" fill="#3e03d0" fill-opacity="0.7"/><ellipse cx="26" cy="74" rx="6.8" ry="4.1" transform="rotate(2 26 74)" fill="#3e03d0" fill-opacity="0.7"/><ellipse cx="43" cy="70" rx="5.7" ry="4.1" transform="rotate(27 43 70)" fill="#3e03d0" fill-opacity="0.7"/><ellipse cx="50" cy="-5" rx="7.0" ry="3.7" transform="rotate(25 50 -5)" fill="#3e03d0" fill-opacity="0.7"/><ellipse cx="50" cy="75" rx="7.0" ry="3.7" transform="rotate(25 50 75)" fill="#3e03d0" fill-opacity="0.7"/><ellipse cx="59" cy="69" rx="5.6" ry="4.1" transform="rotate(61 59 69)" fill="#3e03d0" fill-opacity="0.9"/><ellipse cx="71" cy="-6" rx="5.4" ry="3.3" transform="rotate(80 71 -6)" fill="#3e03d0" fill-opacity="0.7"/><ellipse cx="71" cy="74" rx="5.4" ry="3.3" transform="rotate(80 71 74)" fill="#3e03d0" fill-opacity="0.7"/></pattern><pattern id="pEpiB2" width="84" height="84" patternUnits="userSpaceOnUse" patternTransform="rotate(20)"><ellipse cx="-3" cy="0" rx="6.2" ry="5.4" transform="rotate(113 -3 0)" fill="#3c03d0" fill-opacity="0.8"/><ellipse cx="-3" cy="84" rx="6.2" ry="5.4" transform="rotate(113 -3 84)" fill="#3c03d0" fill-opacity="0.8"/><ellipse cx="81" cy="0" rx="6.2" ry="5.4" transform="rotate(113 81 0)" fill="#3c03d0" fill-opacity="0.8"/><ellipse cx="81" cy="84" rx="6.2" ry="5.4" transform="rotate(113 81 84)" fill="#3c03d0" fill-opacity="0.8"/><ellipse cx="16" cy="-0" rx="6.6" ry="4.8" transform="rotate(129 16 -0)" fill="#4a04f0" fill-opacity="0.7"/><ellipse cx="16" cy="84" rx="6.6" ry="4.8" transform="rotate(129 16 84)" fill="#4a04f0" fill-opacity="0.7"/><ellipse cx="28" cy="-3" rx="5.8" ry="5.9" transform="rotate(70 28 -3)" fill="#3c03d0" fill-opacity="0.8"/><ellipse cx="28" cy="81" rx="5.8" ry="5.9" transform="rotate(70 28 81)" fill="#3c03d0" fill-opacity="0.8"/><ellipse cx="31" cy="2" rx="6.7" ry="5.0" transform="rotate(6 31 2)" fill="#3402c0" fill-opacity="0.7"/><ellipse cx="31" cy="86" rx="6.7" ry="5.0" transform="rotate(6 31 86)" fill="#3402c0" fill-opacity="0.7"/><ellipse cx="50" cy="4" rx="6.9" ry="5.9" transform="rotate(71 50 4)" fill="#4a04f0" fill-opacity="0.9"/><ellipse cx="50" cy="88" rx="6.9" ry="5.9" transform="rotate(71 50 88)" fill="#4a04f0" fill-opacity="0.9"/><ellipse cx="56" cy="-1" rx="5.6" ry="5.2" transform="rotate(46 56 -1)" fill="#4a04f0" fill-opacity="0.8"/><ellipse cx="56" cy="83" rx="5.6" ry="5.2" transform="rotate(46 56 83)" fill="#4a04f0" fill-opacity="0.8"/><ellipse cx="-8" cy="-1" rx="7.2" ry="5.4" transform="rotate(96 -8 -1)" fill="#4a04f0" fill-opacity="0.8"/><ellipse cx="-8" cy="83" rx="7.2" ry="5.4" transform="rotate(96 -8 83)" fill="#4a04f0" fill-opacity="0.8"/><ellipse cx="76" cy="-1" rx="7.2" ry="5.4" transform="rotate(96 76 -1)" fill="#4a04f0" fill-opacity="0.8"/><ellipse cx="76" cy="83" rx="7.2" ry="5.4" transform="rotate(96 76 83)" fill="#4a04f0" fill-opacity="0.8"/><ellipse cx="10" cy="12" rx="7.4" ry="5.8" transform="rotate(178 10 12)" fill="#4403e0" fill-opacity="0.8"/><ellipse cx="16" cy="11" rx="6.6" ry="4.7" transform="rotate(118 16 11)" fill="#3402c0" fill-opacity="0.7"/><ellipse cx="25" cy="14" rx="7.5" ry="4.6" transform="rotate(144 25 14)" fill="#4a04f0" fill-opacity="0.9"/><ellipse cx="37" cy="10" rx="6.3" ry="4.7" transform="rotate(109 37 10)" fill="#3c03d0" fill-opacity="0.7"/><ellipse cx="55" cy="11" rx="7.3" ry="4.9" transform="rotate(42 55 11)" fill="#3c03d0" fill-opacity="0.7"/><ellipse cx="61" cy="11" rx="5.6" ry="4.8" transform="rotate(73 61 11)" fill="#3402c0" fill-opacity="0.6"/><ellipse cx="73" cy="14" rx="6.1" ry="5.9" transform="rotate(161 73 14)" fill="#4a04f0" fill-opacity="0.7"/><ellipse cx="4" cy="20" rx="7.2" ry="5.5" transform="rotate(18 4 20)" fill="#3402c0" fill-opacity="0.7"/><ellipse cx="88" cy="20" rx="7.2" ry="5.5" transform="rotate(18 88 20)" fill="#3402c0" fill-opacity="0.7"/><ellipse cx="14" cy="19" rx="6.1" ry="6.0" transform="rotate(94 14 19)" fill="#3402c0" fill-opacity="0.6"/><ellipse cx="23" cy="22" rx="5.5" ry="5.4" transform="rotate(114 23 22)" fill="#3c03d0" fill-opacity="0.8"/><ellipse cx="34" cy="20" rx="7.3" ry="5.4" transform="rotate(50 34 20)" fill="#4a04f0" fill-opacity="0.6"/><ellipse cx="43" cy="23" rx="7.4" ry="4.9" transform="rotate(82 43 23)" fill="#3402c0" fill-opacity="0.7"/><ellipse cx="57" cy="23" rx="7.2" ry="4.9" transform="rotate(142 57 23)" fill="#3c03d0" fill-opacity="0.8"/><ellipse cx="67" cy="22" rx="7.0" ry="5.0" transform="rotate(40 67 22)" fill="#3402c0" fill-opacity="0.7"/><ellipse cx="3" cy="31" rx="6.9" ry="4.7" transform="rotate(58 3 31)" fill="#3402c0" fill-opacity="0.8"/><ellipse cx="87" cy="31" rx="6.9" ry="4.7" transform="rotate(58 87 31)" fill="#3402c0" fill-opacity="0.8"/><ellipse cx="15" cy="34" rx="7.4" ry="4.6" transform="rotate(134 15 34)" fill="#4403e0" fill-opacity="0.9"/><ellipse cx="29" cy="29" rx="5.7" ry="5.3" transform="rotate(34 29 29)" fill="#4403e0" fill-opacity="0.9"/><ellipse cx="40" cy="35" rx="5.7" ry="5.4" transform="rotate(106 40 35)" fill="#4a04f0" fill-opacity="0.7"/><ellipse cx="57" cy="29" rx="6.2" ry="5.1" transform="rotate(76 57 29)" fill="#4a04f0" fill-opacity="0.6"/><ellipse cx="65" cy="29" rx="6.5" ry="5.7" transform="rotate(112 65 29)" fill="#4a04f0" fill-opacity="0.8"/><ellipse cx="-1" cy="34" rx="5.6" ry="5.2" transform="rotate(136 -1 34)" fill="#3402c0" fill-opacity="0.8"/><ellipse cx="83" cy="34" rx="5.6" ry="5.2" transform="rotate(136 83 34)" fill="#3402c0" fill-opacity="0.8"/><ellipse cx="4" cy="45" rx="7.2" ry="6.0" transform="rotate(22 4 45)" fill="#4403e0" fill-opacity="0.6"/><ellipse cx="88" cy="45" rx="7.2" ry="6.0" transform="rotate(22 88 45)" fill="#4403e0" fill-opacity="0.6"/><ellipse cx="16" cy="44" rx="7.3" ry="5.8" transform="rotate(162 16 44)" fill="#3c03d0" fill-opacity="0.6"/><ellipse cx="27" cy="39" rx="6.1" ry="5.5" transform="rotate(94 27 39)" fill="#4a04f0" fill-opacity="0.6"/><ellipse cx="40" cy="38" rx="5.8" ry="6.0" transform="rotate(97 40 38)" fill="#3c03d0" fill-opacity="0.7"/><ellipse cx="45" cy="42" rx="7.1" ry="4.8" transform="rotate(143 45 42)" fill="#4403e0" fill-opacity="0.8"/><ellipse cx="55" cy="43" rx="7.2" ry="4.6" transform="rotate(49 55 43)" fill="#3402c0" fill-opacity="0.8"/><ellipse cx="72" cy="38" rx="6.1" ry="5.7" transform="rotate(154 72 38)" fill="#4403e0" fill-opacity="0.6"/><ellipse cx="1" cy="52" rx="5.6" ry="5.6" transform="rotate(93 1 52)" fill="#4a04f0" fill-opacity="0.7"/><ellipse cx="85" cy="52" rx="5.6" ry="5.6" transform="rotate(93 85 52)" fill="#4a04f0" fill-opacity="0.7"/><ellipse cx="16" cy="51" rx="6.8" ry="5.4" transform="rotate(65 16 51)" fill="#4403e0" fill-opacity="0.9"/><ellipse cx="29" cy="49" rx="5.5" ry="5.6" transform="rotate(143 29 49)" fill="#4403e0" fill-opacity="0.6"/><ellipse cx="42" cy="54" rx="6.6" ry="5.5" transform="rotate(8 42 54)" fill="#4a04f0" fill-opacity="0.6"/><ellipse cx="55" cy="55" rx="6.1" ry="5.9" transform="rotate(75 55 55)" fill="#3c03d0" fill-opacity="0.7"/><ellipse cx="66" cy="54" rx="5.6" ry="5.1" transform="rotate(77 66 54)" fill="#3c03d0" fill-opacity="0.9"/><ellipse cx="-7" cy="56" rx="7.1" ry="4.9" transform="rotate(84 -7 56)" fill="#3c03d0" fill-opacity="0.9"/><ellipse cx="77" cy="56" rx="7.1" ry="4.9" transform="rotate(84 77 56)" fill="#3c03d0" fill-opacity="0.9"/><ellipse cx="3" cy="66" rx="6.6" ry="5.1" transform="rotate(20 3 66)" fill="#3402c0" fill-opacity="0.8"/><ellipse cx="87" cy="66" rx="6.6" ry="5.1" transform="rotate(20 87 66)" fill="#3402c0" fill-opacity="0.8"/><ellipse cx="8" cy="64" rx="5.5" ry="4.7" transform="rotate(139 8 64)" fill="#3c03d0" fill-opacity="0.8"/><ellipse cx="25" cy="65" rx="6.3" ry="5.7" transform="rotate(61 25 65)" fill="#3c03d0" fill-opacity="0.6"/><ellipse cx="32" cy="63" rx="6.9" ry="4.9" transform="rotate(54 32 63)" fill="#3c03d0" fill-opacity="0.6"/><ellipse cx="51" cy="63" rx="6.9" ry="4.7" transform="rotate(135 51 63)" fill="#3c03d0" fill-opacity="0.8"/><ellipse cx="64" cy="60" rx="5.7" ry="6.0" transform="rotate(116 64 60)" fill="#4a04f0" fill-opacity="0.8"/><ellipse cx="75" cy="62" rx="6.2" ry="5.1" transform="rotate(63 75 62)" fill="#4a04f0" fill-opacity="0.9"/><ellipse cx="5" cy="71" rx="7.4" ry="5.8" transform="rotate(174 5 71)" fill="#4a04f0" fill-opacity="0.8"/><ellipse cx="89" cy="71" rx="7.4" ry="5.8" transform="rotate(174 89 71)" fill="#4a04f0" fill-opacity="0.8"/><ellipse cx="21" cy="75" rx="6.5" ry="5.2" transform="rotate(116 21 75)" fill="#4403e0" fill-opacity="0.6"/><ellipse cx="30" cy="73" rx="6.9" ry="5.9" transform="rotate(106 30 73)" fill="#4403e0" fill-opacity="0.6"/><ellipse cx="45" cy="70" rx="6.5" ry="5.9" transform="rotate(153 45 70)" fill="#3402c0" fill-opacity="0.8"/><ellipse cx="58" cy="74" rx="6.7" ry="6.0" transform="rotate(160 58 74)" fill="#3402c0" fill-opacity="0.6"/><ellipse cx="66" cy="72" rx="5.8" ry="5.0" transform="rotate(58 66 72)" fill="#4403e0" fill-opacity="0.7"/><ellipse cx="-4" cy="75" rx="5.9" ry="5.4" transform="rotate(162 -4 75)" fill="#3c03d0" fill-opacity="0.7"/><ellipse cx="80" cy="75" rx="5.9" ry="5.4" transform="rotate(162 80 75)" fill="#3c03d0" fill-opacity="0.7"/></pattern><pattern id="pMag" width="60" height="60" patternUnits="userSpaceOnUse"><ellipse cx="-2" cy="-2" rx="5.6" ry="1.4" transform="rotate(12 -2 -2)" fill="#ff07ff" fill-opacity="0.5"/><ellipse cx="-2" cy="58" rx="5.6" ry="1.4" transform="rotate(12 -2 58)" fill="#ff07ff" fill-opacity="0.5"/><ellipse cx="58" cy="-2" rx="5.6" ry="1.4" transform="rotate(12 58 -2)" fill="#ff07ff" fill-opacity="0.5"/><ellipse cx="58" cy="58" rx="5.6" ry="1.4" transform="rotate(12 58 58)" fill="#ff07ff" fill-opacity="0.5"/><ellipse cx="5" cy="3" rx="4.2" ry="1.7" transform="rotate(65 5 3)" fill="#e002e0" fill-opacity="0.7"/><ellipse cx="5" cy="63" rx="4.2" ry="1.7" transform="rotate(65 5 63)" fill="#e002e0" fill-opacity="0.7"/><ellipse cx="12" cy="2" rx="4.1" ry="1.8" transform="rotate(47 12 2)" fill="#c001c8" fill-opacity="0.4"/><ellipse cx="12" cy="62" rx="4.1" ry="1.8" transform="rotate(47 12 62)" fill="#c001c8" fill-opacity="0.4"/><ellipse cx="19" cy="1" rx="6.9" ry="2.1" transform="rotate(158 19 1)" fill="#ff03f0" fill-opacity="0.7"/><ellipse cx="19" cy="61" rx="6.9" ry="2.1" transform="rotate(158 19 61)" fill="#ff03f0" fill-opacity="0.7"/><ellipse cx="26" cy="-1" rx="5.0" ry="1.4" transform="rotate(50 26 -1)" fill="#c001c8" fill-opacity="0.3"/><ellipse cx="26" cy="59" rx="5.0" ry="1.4" transform="rotate(50 26 59)" fill="#c001c8" fill-opacity="0.3"/><ellipse cx="32" cy="1" rx="5.2" ry="2.0" transform="rotate(35 32 1)" fill="#ff07ff" fill-opacity="0.6"/><ellipse cx="32" cy="61" rx="5.2" ry="2.0" transform="rotate(35 32 61)" fill="#ff07ff" fill-opacity="0.6"/><ellipse cx="40" cy="-2" rx="5.2" ry="2.0" transform="rotate(8 40 -2)" fill="#ff03f0" fill-opacity="0.5"/><ellipse cx="40" cy="58" rx="5.2" ry="2.0" transform="rotate(8 40 58)" fill="#ff03f0" fill-opacity="0.5"/><ellipse cx="50" cy="0" rx="6.6" ry="1.9" transform="rotate(26 50 0)" fill="#e002e0" fill-opacity="0.3"/><ellipse cx="50" cy="60" rx="6.6" ry="1.9" transform="rotate(26 50 60)" fill="#e002e0" fill-opacity="0.3"/><ellipse cx="-4" cy="1" rx="5.8" ry="1.4" transform="rotate(78 -4 1)" fill="#c001c8" fill-opacity="0.6"/><ellipse cx="-4" cy="61" rx="5.8" ry="1.4" transform="rotate(78 -4 61)" fill="#c001c8" fill-opacity="0.6"/><ellipse cx="56" cy="1" rx="5.8" ry="1.4" transform="rotate(78 56 1)" fill="#c001c8" fill-opacity="0.6"/><ellipse cx="56" cy="61" rx="5.8" ry="1.4" transform="rotate(78 56 61)" fill="#c001c8" fill-opacity="0.6"/><ellipse cx="2" cy="5" rx="7.4" ry="1.9" transform="rotate(50 2 5)" fill="#e002e0" fill-opacity="0.4"/><ellipse cx="2" cy="65" rx="7.4" ry="1.9" transform="rotate(50 2 65)" fill="#e002e0" fill-opacity="0.4"/><ellipse cx="62" cy="5" rx="7.4" ry="1.9" transform="rotate(50 62 5)" fill="#e002e0" fill-opacity="0.4"/><ellipse cx="62" cy="65" rx="7.4" ry="1.9" transform="rotate(50 62 65)" fill="#e002e0" fill-opacity="0.4"/><ellipse cx="13" cy="5" rx="4.1" ry="1.6" transform="rotate(15 13 5)" fill="#c001c8" fill-opacity="0.6"/><ellipse cx="13" cy="65" rx="4.1" ry="1.6" transform="rotate(15 13 65)" fill="#c001c8" fill-opacity="0.6"/><ellipse cx="19" cy="3" rx="5.2" ry="2.2" transform="rotate(140 19 3)" fill="#ff07ff" fill-opacity="0.7"/><ellipse cx="19" cy="63" rx="5.2" ry="2.2" transform="rotate(140 19 63)" fill="#ff07ff" fill-opacity="0.7"/><ellipse cx="26" cy="7" rx="4.3" ry="1.8" transform="rotate(161 26 7)" fill="#c001c8" fill-opacity="0.4"/><ellipse cx="29" cy="8" rx="5.3" ry="1.2" transform="rotate(8 29 8)" fill="#e002e0" fill-opacity="0.5"/><ellipse cx="38" cy="9" rx="6.3" ry="1.6" transform="rotate(37 38 9)" fill="#e002e0" fill-opacity="0.4"/><ellipse cx="41" cy="7" rx="6.4" ry="2.2" transform="rotate(109 41 7)" fill="#ff07ff" fill-opacity="0.6"/><ellipse cx="41" cy="67" rx="6.4" ry="2.2" transform="rotate(109 41 67)" fill="#ff07ff" fill-opacity="0.6"/><ellipse cx="49" cy="3" rx="7.3" ry="1.5" transform="rotate(179 49 3)" fill="#e002e0" fill-opacity="0.5"/><ellipse cx="49" cy="63" rx="7.3" ry="1.5" transform="rotate(179 49 63)" fill="#e002e0" fill-opacity="0.5"/><ellipse cx="-5" cy="6" rx="4.1" ry="1.6" transform="rotate(45 -5 6)" fill="#ff07ff" fill-opacity="0.7"/><ellipse cx="55" cy="6" rx="4.1" ry="1.6" transform="rotate(45 55 6)" fill="#ff07ff" fill-opacity="0.7"/><ellipse cx="-0" cy="9" rx="5.0" ry="1.4" transform="rotate(37 -0 9)" fill="#e002e0" fill-opacity="0.5"/><ellipse cx="60" cy="9" rx="5.0" ry="1.4" transform="rotate(37 60 9)" fill="#e002e0" fill-opacity="0.5"/><ellipse cx="5" cy="11" rx="7.6" ry="1.5" transform="rotate(21 5 11)" fill="#ff07ff" fill-opacity="0.7"/><ellipse cx="65" cy="11" rx="7.6" ry="1.5" transform="rotate(21 65 11)" fill="#ff07ff" fill-opacity="0.7"/><ellipse cx="14" cy="14" rx="6.9" ry="1.2" transform="rotate(70 14 14)" fill="#ff07ff" fill-opacity="0.4"/><ellipse cx="22" cy="14" rx="7.7" ry="1.5" transform="rotate(118 22 14)" fill="#c001c8" fill-opacity="0.7"/><ellipse cx="27" cy="13" rx="6.7" ry="1.5" transform="rotate(166 27 13)" fill="#ff07ff" fill-opacity="0.3"/><ellipse cx="36" cy="14" rx="6.7" ry="1.2" transform="rotate(162 36 14)" fill="#e002e0" fill-opacity="0.6"/><ellipse cx="39" cy="14" rx="7.5" ry="1.9" transform="rotate(84 39 14)" fill="#ff07ff" fill-opacity="0.6"/><ellipse cx="49" cy="10" rx="4.0" ry="2.1" transform="rotate(2 49 10)" fill="#c001c8" fill-opacity="0.4"/><ellipse cx="-5" cy="14" rx="7.5" ry="1.8" transform="rotate(158 -5 14)" fill="#e002e0" fill-opacity="0.4"/><ellipse cx="55" cy="14" rx="7.5" ry="1.8" transform="rotate(158 55 14)" fill="#e002e0" fill-opacity="0.4"/><ellipse cx="4" cy="20" rx="6.2" ry="2.0" transform="rotate(165 4 20)" fill="#ff07ff" fill-opacity="0.3"/><ellipse cx="64" cy="20" rx="6.2" ry="2.0" transform="rotate(165 64 20)" fill="#ff07ff" fill-opacity="0.3"/><ellipse cx="7" cy="19" rx="6.0" ry="2.1" transform="rotate(109 7 19)" fill="#e002e0" fill-opacity="0.3"/><ellipse cx="14" cy="20" rx="7.6" ry="1.5" transform="rotate(62 14 20)" fill="#ff03f0" fill-opacity="0.3"/><ellipse cx="24" cy="17" rx="7.1" ry="1.5" transform="rotate(42 24 17)" fill="#ff07ff" fill-opacity="0.7"/><ellipse cx="29" cy="16" rx="7.7" ry="2.0" transform="rotate(66 29 16)" fill="#ff07ff" fill-opacity="0.5"/><ellipse cx="38" cy="18" rx="6.5" ry="2.1" transform="rotate(115 38 18)" fill="#ff07ff" fill-opacity="0.5"/><ellipse cx="45" cy="16" rx="7.5" ry="1.4" transform="rotate(27 45 16)" fill="#ff07ff" fill-opacity="0.7"/><ellipse cx="49" cy="21" rx="4.0" ry="1.4" transform="rotate(117 49 21)" fill="#ff03f0" fill-opacity="0.5"/><ellipse cx="-3" cy="19" rx="5.9" ry="1.3" transform="rotate(44 -3 19)" fill="#c001c8" fill-opacity="0.5"/><ellipse cx="57" cy="19" rx="5.9" ry="1.3" transform="rotate(44 57 19)" fill="#c001c8" fill-opacity="0.5"/><ellipse cx="2" cy="27" rx="6.5" ry="1.9" transform="rotate(110 2 27)" fill="#c001c8" fill-opacity="0.5"/><ellipse cx="62" cy="27" rx="6.5" ry="1.9" transform="rotate(110 62 27)" fill="#c001c8" fill-opacity="0.5"/><ellipse cx="9" cy="26" rx="6.3" ry="2.1" transform="rotate(91 9 26)" fill="#ff07ff" fill-opacity="0.6"/><ellipse cx="13" cy="22" rx="7.1" ry="1.6" transform="rotate(119 13 22)" fill="#e002e0" fill-opacity="0.5"/><ellipse cx="21" cy="25" rx="6.5" ry="1.5" transform="rotate(169 21 25)" fill="#e002e0" fill-opacity="0.6"/><ellipse cx="26" cy="25" rx="4.4" ry="1.6" transform="rotate(169 26 25)" fill="#e002e0" fill-opacity="0.4"/><ellipse cx="33" cy="22" rx="7.5" ry="1.8" transform="rotate(94 33 22)" fill="#ff03f0" fill-opacity="0.7"/><ellipse cx="42" cy="26" rx="4.6" ry="1.8" transform="rotate(89 42 26)" fill="#ff03f0" fill-opacity="0.6"/><ellipse cx="49" cy="22" rx="6.6" ry="1.9" transform="rotate(134 49 22)" fill="#c001c8" fill-opacity="0.7"/><ellipse cx="-6" cy="26" rx="4.9" ry="1.7" transform="rotate(40 -6 26)" fill="#c001c8" fill-opacity="0.4"/><ellipse cx="54" cy="26" rx="4.9" ry="1.7" transform="rotate(40 54 26)" fill="#c001c8" fill-opacity="0.4"/><ellipse cx="2" cy="31" rx="8.0" ry="2.1" transform="rotate(72 2 31)" fill="#ff07ff" fill-opacity="0.7"/><ellipse cx="62" cy="31" rx="8.0" ry="2.1" transform="rotate(72 62 31)" fill="#ff07ff" fill-opacity="0.7"/><ellipse cx="9" cy="30" rx="6.4" ry="1.5" transform="rotate(162 9 30)" fill="#ff07ff" fill-opacity="0.6"/><ellipse cx="17" cy="29" rx="7.8" ry="1.8" transform="rotate(28 17 29)" fill="#ff03f0" fill-opacity="0.5"/><ellipse cx="26" cy="31" rx="5.4" ry="2.0" transform="rotate(164 26 31)" fill="#c001c8" fill-opacity="0.5"/><ellipse cx="31" cy="30" rx="6.4" ry="1.3" transform="rotate(166 31 30)" fill="#ff03f0" fill-opacity="0.4"/><ellipse cx="39" cy="28" rx="7.2" ry="1.9" transform="rotate(98 39 28)" fill="#c001c8" fill-opacity="0.3"/><ellipse cx="42" cy="31" rx="4.8" ry="2.1" transform="rotate(15 42 31)" fill="#c001c8" fill-opacity="0.3"/><ellipse cx="-7" cy="29" rx="7.6" ry="1.9" transform="rotate(132 -7 29)" fill="#ff07ff" fill-opacity="0.7"/><ellipse cx="53" cy="29" rx="7.6" ry="1.9" transform="rotate(132 53 29)" fill="#ff07ff" fill-opacity="0.7"/><ellipse cx="-1" cy="31" rx="6.2" ry="1.9" transform="rotate(130 -1 31)" fill="#e002e0" fill-opacity="0.5"/><ellipse cx="59" cy="31" rx="6.2" ry="1.9" transform="rotate(130 59 31)" fill="#e002e0" fill-opacity="0.5"/><ellipse cx="-2" cy="38" rx="5.9" ry="1.3" transform="rotate(30 -2 38)" fill="#c001c8" fill-opacity="0.5"/><ellipse cx="58" cy="38" rx="5.9" ry="1.3" transform="rotate(30 58 38)" fill="#c001c8" fill-opacity="0.5"/><ellipse cx="7" cy="35" rx="5.6" ry="1.4" transform="rotate(11 7 35)" fill="#ff03f0" fill-opacity="0.4"/><ellipse cx="14" cy="35" rx="7.2" ry="1.3" transform="rotate(21 14 35)" fill="#ff03f0" fill-opacity="0.4"/><ellipse cx="20" cy="36" rx="6.9" ry="1.4" transform="rotate(149 20 36)" fill="#ff07ff" fill-opacity="0.5"/><ellipse cx="25" cy="36" rx="4.8" ry="1.7" transform="rotate(163 25 36)" fill="#c001c8" fill-opacity="0.4"/><ellipse cx="34" cy="38" rx="6.4" ry="1.2" transform="rotate(114 34 38)" fill="#c001c8" fill-opacity="0.6"/><ellipse cx="42" cy="36" rx="7.1" ry="1.7" transform="rotate(150 42 36)" fill="#ff03f0" fill-opacity="0.7"/><ellipse cx="49" cy="38" rx="6.6" ry="1.9" transform="rotate(109 49 38)" fill="#ff07ff" fill-opacity="0.7"/><ellipse cx="-8" cy="34" rx="6.9" ry="1.7" transform="rotate(98 -8 34)" fill="#e002e0" fill-opacity="0.3"/><ellipse cx="52" cy="34" rx="6.9" ry="1.7" transform="rotate(98 52 34)" fill="#e002e0" fill-opacity="0.3"/><ellipse cx="4" cy="41" rx="6.4" ry="1.3" transform="rotate(56 4 41)" fill="#ff03f0" fill-opacity="0.3"/><ellipse cx="64" cy="41" rx="6.4" ry="1.3" transform="rotate(56 64 41)" fill="#ff03f0" fill-opacity="0.3"/><ellipse cx="8" cy="41" rx="7.8" ry="2.1" transform="rotate(175 8 41)" fill="#ff03f0" fill-opacity="0.5"/><ellipse cx="68" cy="41" rx="7.8" ry="2.1" transform="rotate(175 68 41)" fill="#ff03f0" fill-opacity="0.5"/><ellipse cx="15" cy="41" rx="7.6" ry="1.9" transform="rotate(147 15 41)" fill="#c001c8" fill-opacity="0.7"/><ellipse cx="24" cy="41" rx="4.7" ry="1.7" transform="rotate(12 24 41)" fill="#c001c8" fill-opacity="0.6"/><ellipse cx="29" cy="40" rx="6.8" ry="1.5" transform="rotate(39 29 40)" fill="#ff07ff" fill-opacity="0.7"/><ellipse cx="39" cy="41" rx="7.0" ry="1.6" transform="rotate(113 39 41)" fill="#ff07ff" fill-opacity="0.4"/><ellipse cx="44" cy="41" rx="6.0" ry="1.2" transform="rotate(47 44 41)" fill="#c001c8" fill-opacity="0.6"/><ellipse cx="51" cy="43" rx="5.3" ry="2.1" transform="rotate(141 51 43)" fill="#ff03f0" fill-opacity="0.6"/><ellipse cx="-1" cy="41" rx="4.9" ry="1.8" transform="rotate(138 -1 41)" fill="#c001c8" fill-opacity="0.3"/><ellipse cx="59" cy="41" rx="4.9" ry="1.8" transform="rotate(138 59 41)" fill="#c001c8" fill-opacity="0.3"/><ellipse cx="0" cy="46" rx="4.4" ry="1.7" transform="rotate(17 0 46)" fill="#c001c8" fill-opacity="0.4"/><ellipse cx="60" cy="46" rx="4.4" ry="1.7" transform="rotate(17 60 46)" fill="#c001c8" fill-opacity="0.4"/><ellipse cx="7" cy="49" rx="7.6" ry="1.3" transform="rotate(152 7 49)" fill="#e002e0" fill-opacity="0.7"/><ellipse cx="67" cy="49" rx="7.6" ry="1.3" transform="rotate(152 67 49)" fill="#e002e0" fill-opacity="0.7"/><ellipse cx="15" cy="49" rx="7.2" ry="1.9" transform="rotate(47 15 49)" fill="#c001c8" fill-opacity="0.6"/><ellipse cx="21" cy="49" rx="7.4" ry="2.2" transform="rotate(29 21 49)" fill="#e002e0" fill-opacity="0.3"/><ellipse cx="24" cy="46" rx="7.8" ry="2.1" transform="rotate(121 24 46)" fill="#c001c8" fill-opacity="0.6"/><ellipse cx="34" cy="50" rx="4.4" ry="1.4" transform="rotate(25 34 50)" fill="#ff07ff" fill-opacity="0.6"/><ellipse cx="40" cy="47" rx="5.7" ry="1.6" transform="rotate(7 40 47)" fill="#ff03f0" fill-opacity="0.4"/><ellipse cx="46" cy="47" rx="5.5" ry="2.1" transform="rotate(169 46 47)" fill="#c001c8" fill-opacity="0.5"/><ellipse cx="54" cy="46" rx="4.9" ry="2.2" transform="rotate(33 54 46)" fill="#e002e0" fill-opacity="0.3"/><ellipse cx="1" cy="-7" rx="6.8" ry="1.5" transform="rotate(97 1 -7)" fill="#ff03f0" fill-opacity="0.7"/><ellipse cx="1" cy="53" rx="6.8" ry="1.5" transform="rotate(97 1 53)" fill="#ff03f0" fill-opacity="0.7"/><ellipse cx="61" cy="-7" rx="6.8" ry="1.5" transform="rotate(97 61 -7)" fill="#ff03f0" fill-opacity="0.7"/><ellipse cx="61" cy="53" rx="6.8" ry="1.5" transform="rotate(97 61 53)" fill="#ff03f0" fill-opacity="0.7"/><ellipse cx="12" cy="-4" rx="4.7" ry="2.2" transform="rotate(111 12 -4)" fill="#c001c8" fill-opacity="0.5"/><ellipse cx="12" cy="56" rx="4.7" ry="2.2" transform="rotate(111 12 56)" fill="#c001c8" fill-opacity="0.5"/><ellipse cx="16" cy="52" rx="4.1" ry="2.0" transform="rotate(132 16 52)" fill="#ff07ff" fill-opacity="0.4"/><ellipse cx="22" cy="55" rx="4.2" ry="1.3" transform="rotate(29 22 55)" fill="#ff03f0" fill-opacity="0.4"/><ellipse cx="31" cy="-5" rx="6.4" ry="1.9" transform="rotate(4 31 -5)" fill="#ff07ff" fill-opacity="0.4"/><ellipse cx="31" cy="55" rx="6.4" ry="1.9" transform="rotate(4 31 55)" fill="#ff07ff" fill-opacity="0.4"/><ellipse cx="37" cy="-5" rx="4.5" ry="1.8" transform="rotate(42 37 -5)" fill="#c001c8" fill-opacity="0.5"/><ellipse cx="37" cy="55" rx="4.5" ry="1.8" transform="rotate(42 37 55)" fill="#c001c8" fill-opacity="0.5"/><ellipse cx="43" cy="-5" rx="7.7" ry="2.0" transform="rotate(119 43 -5)" fill="#c001c8" fill-opacity="0.4"/><ellipse cx="43" cy="55" rx="7.7" ry="2.0" transform="rotate(119 43 55)" fill="#c001c8" fill-opacity="0.4"/><ellipse cx="49" cy="-6" rx="6.2" ry="1.6" transform="rotate(155 49 -6)" fill="#e002e0" fill-opacity="0.5"/><ellipse cx="49" cy="54" rx="6.2" ry="1.6" transform="rotate(155 49 54)" fill="#e002e0" fill-opacity="0.5"/><ellipse cx="-1" cy="52" rx="6.5" ry="1.4" transform="rotate(29 -1 52)" fill="#e002e0" fill-opacity="0.6"/><ellipse cx="59" cy="52" rx="6.5" ry="1.4" transform="rotate(29 59 52)" fill="#e002e0" fill-opacity="0.6"/></pattern><pattern id="pNucB" width="78" height="78" patternUnits="userSpaceOnUse" patternTransform="rotate(-15)"><ellipse cx="1" cy="2" rx="6.5" ry="4.7" transform="rotate(133 1 2)" fill="#3002c0" fill-opacity="0.8"/><ellipse cx="1" cy="80" rx="6.5" ry="4.7" transform="rotate(133 1 80)" fill="#3002c0" fill-opacity="0.8"/><ellipse cx="79" cy="2" rx="6.5" ry="4.7" transform="rotate(133 79 2)" fill="#3002c0" fill-opacity="0.8"/><ellipse cx="79" cy="80" rx="6.5" ry="4.7" transform="rotate(133 79 80)" fill="#3002c0" fill-opacity="0.8"/><ellipse cx="16" cy="-3" rx="4.6" ry="3.5" transform="rotate(67 16 -3)" fill="#2801a8" fill-opacity="0.6"/><ellipse cx="16" cy="75" rx="4.6" ry="3.5" transform="rotate(67 16 75)" fill="#2801a8" fill-opacity="0.6"/><ellipse cx="21" cy="-3" rx="6.3" ry="3.9" transform="rotate(33 21 -3)" fill="#4003e8" fill-opacity="0.5"/><ellipse cx="21" cy="75" rx="6.3" ry="3.9" transform="rotate(33 21 75)" fill="#4003e8" fill-opacity="0.5"/><ellipse cx="42" cy="-4" rx="6.0" ry="3.4" transform="rotate(0 42 -4)" fill="#3002c0" fill-opacity="0.5"/><ellipse cx="42" cy="74" rx="6.0" ry="3.4" transform="rotate(0 42 74)" fill="#3002c0" fill-opacity="0.5"/><ellipse cx="49" cy="5" rx="6.7" ry="3.7" transform="rotate(173 49 5)" fill="#2801a8" fill-opacity="0.5"/><ellipse cx="49" cy="83" rx="6.7" ry="3.7" transform="rotate(173 49 83)" fill="#2801a8" fill-opacity="0.5"/><ellipse cx="-8" cy="-3" rx="6.9" ry="3.8" transform="rotate(4 -8 -3)" fill="#4003e8" fill-opacity="0.5"/><ellipse cx="-8" cy="75" rx="6.9" ry="3.8" transform="rotate(4 -8 75)" fill="#4003e8" fill-opacity="0.5"/><ellipse cx="70" cy="-3" rx="6.9" ry="3.8" transform="rotate(4 70 -3)" fill="#4003e8" fill-opacity="0.5"/><ellipse cx="70" cy="75" rx="6.9" ry="3.8" transform="rotate(4 70 75)" fill="#4003e8" fill-opacity="0.5"/><ellipse cx="2" cy="7" rx="5.3" ry="4.2" transform="rotate(1 2 7)" fill="#3803d8" fill-opacity="0.5"/><ellipse cx="80" cy="7" rx="5.3" ry="4.2" transform="rotate(1 80 7)" fill="#3803d8" fill-opacity="0.5"/><ellipse cx="18" cy="9" rx="6.2" ry="3.5" transform="rotate(85 18 9)" fill="#2801a8" fill-opacity="0.5"/><ellipse cx="38" cy="6" rx="6.4" ry="4.6" transform="rotate(3 38 6)" fill="#4003e8" fill-opacity="0.6"/><ellipse cx="38" cy="84" rx="6.4" ry="4.6" transform="rotate(3 38 84)" fill="#4003e8" fill-opacity="0.6"/><ellipse cx="46" cy="6" rx="4.6" ry="3.5" transform="rotate(172 46 6)" fill="#2801a8" fill-opacity="0.5"/><ellipse cx="56" cy="14" rx="5.7" ry="4.0" transform="rotate(161 56 14)" fill="#3803d8" fill-opacity="0.8"/><ellipse cx="67" cy="14" rx="6.5" ry="4.6" transform="rotate(7 67 14)" fill="#3002c0" fill-opacity="0.5"/><ellipse cx="0" cy="21" rx="4.9" ry="3.6" transform="rotate(126 0 21)" fill="#3002c0" fill-opacity="0.6"/><ellipse cx="78" cy="21" rx="4.9" ry="3.6" transform="rotate(126 78 21)" fill="#3002c0" fill-opacity="0.6"/><ellipse cx="11" cy="19" rx="4.7" ry="3.4" transform="rotate(124 11 19)" fill="#4003e8" fill-opacity="0.5"/><ellipse cx="21" cy="27" rx="5.8" ry="3.8" transform="rotate(43 21 27)" fill="#3803d8" fill-opacity="0.8"/><ellipse cx="38" cy="22" rx="4.6" ry="4.7" transform="rotate(6 38 22)" fill="#4003e8" fill-opacity="0.6"/><ellipse cx="49" cy="27" rx="5.9" ry="3.4" transform="rotate(161 49 27)" fill="#4003e8" fill-opacity="0.5"/><ellipse cx="64" cy="19" rx="6.6" ry="3.7" transform="rotate(82 64 19)" fill="#2801a8" fill-opacity="0.8"/><ellipse cx="6" cy="33" rx="6.3" ry="4.0" transform="rotate(52 6 33)" fill="#4003e8" fill-opacity="0.8"/><ellipse cx="84" cy="33" rx="6.3" ry="4.0" transform="rotate(52 84 33)" fill="#4003e8" fill-opacity="0.8"/><ellipse cx="15" cy="37" rx="5.8" ry="3.5" transform="rotate(169 15 37)" fill="#3803d8" fill-opacity="0.5"/><ellipse cx="32" cy="34" rx="5.9" ry="4.0" transform="rotate(11 32 34)" fill="#3803d8" fill-opacity="0.7"/><ellipse cx="47" cy="36" rx="5.4" ry="4.3" transform="rotate(51 47 36)" fill="#4003e8" fill-opacity="0.6"/><ellipse cx="64" cy="36" rx="6.9" ry="3.7" transform="rotate(32 64 36)" fill="#3002c0" fill-opacity="0.6"/><ellipse cx="-3" cy="32" rx="5.2" ry="3.7" transform="rotate(90 -3 32)" fill="#3803d8" fill-opacity="0.6"/><ellipse cx="75" cy="32" rx="5.2" ry="3.7" transform="rotate(90 75 32)" fill="#3803d8" fill-opacity="0.6"/><ellipse cx="2" cy="47" rx="6.6" ry="3.8" transform="rotate(152 2 47)" fill="#4003e8" fill-opacity="0.8"/><ellipse cx="80" cy="47" rx="6.6" ry="3.8" transform="rotate(152 80 47)" fill="#4003e8" fill-opacity="0.8"/><ellipse cx="18" cy="45" rx="5.8" ry="3.5" transform="rotate(151 18 45)" fill="#4003e8" fill-opacity="0.6"/><ellipse cx="21" cy="46" rx="5.5" ry="4.2" transform="rotate(169 21 46)" fill="#4003e8" fill-opacity="0.6"/><ellipse cx="40" cy="48" rx="5.2" ry="4.8" transform="rotate(35 40 48)" fill="#4003e8" fill-opacity="0.7"/><ellipse cx="48" cy="47" rx="5.0" ry="4.3" transform="rotate(178 48 47)" fill="#2801a8" fill-opacity="0.5"/><ellipse cx="70" cy="41" rx="6.9" ry="4.0" transform="rotate(99 70 41)" fill="#4003e8" fill-opacity="0.6"/><ellipse cx="5" cy="57" rx="6.0" ry="3.6" transform="rotate(163 5 57)" fill="#3002c0" fill-opacity="0.6"/><ellipse cx="83" cy="57" rx="6.0" ry="3.6" transform="rotate(163 83 57)" fill="#3002c0" fill-opacity="0.6"/><ellipse cx="25" cy="59" rx="6.7" ry="4.3" transform="rotate(99 25 59)" fill="#3002c0" fill-opacity="0.7"/><ellipse cx="30" cy="54" rx="5.8" ry="4.7" transform="rotate(53 30 54)" fill="#3803d8" fill-opacity="0.8"/><ellipse cx="45" cy="59" rx="6.1" ry="3.8" transform="rotate(26 45 59)" fill="#4003e8" fill-opacity="0.7"/><ellipse cx="64" cy="60" rx="6.0" ry="3.8" transform="rotate(161 64 60)" fill="#3002c0" fill-opacity="0.6"/><ellipse cx="69" cy="60" rx="5.8" ry="3.7" transform="rotate(158 69 60)" fill="#4003e8" fill-opacity="0.6"/><ellipse cx="6" cy="67" rx="5.7" ry="4.3" transform="rotate(69 6 67)" fill="#2801a8" fill-opacity="0.7"/><ellipse cx="84" cy="67" rx="5.7" ry="4.3" transform="rotate(69 84 67)" fill="#2801a8" fill-opacity="0.7"/><ellipse cx="10" cy="-6" rx="5.7" ry="3.9" transform="rotate(57 10 -6)" fill="#3803d8" fill-opacity="0.6"/><ellipse cx="10" cy="72" rx="5.7" ry="3.9" transform="rotate(57 10 72)" fill="#3803d8" fill-opacity="0.6"/><ellipse cx="24" cy="67" rx="4.8" ry="4.2" transform="rotate(80 24 67)" fill="#3803d8" fill-opacity="0.5"/><ellipse cx="35" cy="66" rx="5.7" ry="4.1" transform="rotate(44 35 66)" fill="#4003e8" fill-opacity="0.8"/><ellipse cx="49" cy="65" rx="4.9" ry="4.8" transform="rotate(53 49 65)" fill="#4003e8" fill-opacity="0.7"/><ellipse cx="69" cy="-7" rx="6.7" ry="3.2" transform="rotate(23 69 -7)" fill="#3803d8" fill-opacity="0.7"/><ellipse cx="69" cy="71" rx="6.7" ry="3.2" transform="rotate(23 69 71)" fill="#3803d8" fill-opacity="0.7"/></pattern><pattern id="pEpiP" width="77" height="77" patternUnits="userSpaceOnUse"><ellipse cx="3" cy="3" rx="6.5" ry="4.4" transform="rotate(0 3 3)" fill="#5003d0" fill-opacity="0.7"/><ellipse cx="3" cy="80" rx="6.5" ry="4.4" transform="rotate(0 3 80)" fill="#5003d0" fill-opacity="0.7"/><ellipse cx="80" cy="3" rx="6.5" ry="4.4" transform="rotate(0 80 3)" fill="#5003d0" fill-opacity="0.7"/><ellipse cx="80" cy="80" rx="6.5" ry="4.4" transform="rotate(0 80 80)" fill="#5003d0" fill-opacity="0.7"/><ellipse cx="14" cy="-1" rx="7.0" ry="4.4" transform="rotate(144 14 -1)" fill="#7003d0" fill-opacity="0.9"/><ellipse cx="14" cy="76" rx="7.0" ry="4.4" transform="rotate(144 14 76)" fill="#7003d0" fill-opacity="0.9"/><ellipse cx="22" cy="-4" rx="6.6" ry="5.0" transform="rotate(131 22 -4)" fill="#5003d0" fill-opacity="0.8"/><ellipse cx="22" cy="73" rx="6.6" ry="5.0" transform="rotate(131 22 73)" fill="#5003d0" fill-opacity="0.8"/><ellipse cx="36" cy="-1" rx="5.7" ry="5.2" transform="rotate(145 36 -1)" fill="#7003d0" fill-opacity="0.8"/><ellipse cx="36" cy="76" rx="5.7" ry="5.2" transform="rotate(145 36 76)" fill="#7003d0" fill-opacity="0.8"/><ellipse cx="47" cy="2" rx="7.1" ry="4.1" transform="rotate(8 47 2)" fill="#5a04e0" fill-opacity="0.8"/><ellipse cx="47" cy="79" rx="7.1" ry="4.1" transform="rotate(8 47 79)" fill="#5a04e0" fill-opacity="0.8"/><ellipse cx="59" cy="-0" rx="7.2" ry="4.3" transform="rotate(104 59 -0)" fill="#5003d0" fill-opacity="0.9"/><ellipse cx="59" cy="77" rx="7.2" ry="4.3" transform="rotate(104 59 77)" fill="#5003d0" fill-opacity="0.9"/><ellipse cx="61" cy="-1" rx="6.7" ry="4.5" transform="rotate(106 61 -1)" fill="#6a05e8" fill-opacity="0.7"/><ellipse cx="61" cy="76" rx="6.7" ry="4.5" transform="rotate(106 61 76)" fill="#6a05e8" fill-opacity="0.7"/><ellipse cx="7" cy="7" rx="6.7" ry="4.4" transform="rotate(129 7 7)" fill="#7003d0" fill-opacity="0.7"/><ellipse cx="7" cy="84" rx="6.7" ry="4.4" transform="rotate(129 7 84)" fill="#7003d0" fill-opacity="0.7"/><ellipse cx="84" cy="7" rx="6.7" ry="4.4" transform="rotate(129 84 7)" fill="#7003d0" fill-opacity="0.7"/><ellipse cx="84" cy="84" rx="6.7" ry="4.4" transform="rotate(129 84 84)" fill="#7003d0" fill-opacity="0.7"/><ellipse cx="13" cy="7" rx="7.2" ry="5.0" transform="rotate(2 13 7)" fill="#5a04e0" fill-opacity="0.6"/><ellipse cx="13" cy="84" rx="7.2" ry="5.0" transform="rotate(2 13 84)" fill="#5a04e0" fill-opacity="0.6"/><ellipse cx="26" cy="13" rx="6.7" ry="4.5" transform="rotate(68 26 13)" fill="#7003d0" fill-opacity="0.7"/><ellipse cx="40" cy="10" rx="5.9" ry="4.9" transform="rotate(180 40 10)" fill="#6a05e8" fill-opacity="0.9"/><ellipse cx="47" cy="14" rx="7.3" ry="5.0" transform="rotate(160 47 14)" fill="#7003d0" fill-opacity="0.8"/><ellipse cx="59" cy="6" rx="6.4" ry="4.5" transform="rotate(147 59 6)" fill="#6a05e8" fill-opacity="0.6"/><ellipse cx="59" cy="83" rx="6.4" ry="4.5" transform="rotate(147 59 83)" fill="#6a05e8" fill-opacity="0.6"/><ellipse cx="-4" cy="9" rx="6.9" ry="5.4" transform="rotate(3 -4 9)" fill="#5003d0" fill-opacity="0.6"/><ellipse cx="73" cy="9" rx="6.9" ry="5.4" transform="rotate(3 73 9)" fill="#5003d0" fill-opacity="0.6"/><ellipse cx="1" cy="18" rx="6.0" ry="4.7" transform="rotate(167 1 18)" fill="#8005e8" fill-opacity="0.9"/><ellipse cx="78" cy="18" rx="6.0" ry="4.7" transform="rotate(167 78 18)" fill="#8005e8" fill-opacity="0.9"/><ellipse cx="15" cy="19" rx="6.5" ry="4.9" transform="rotate(118 15 19)" fill="#7003d0" fill-opacity="0.6"/><ellipse cx="21" cy="18" rx="7.1" ry="4.5" transform="rotate(119 21 18)" fill="#5003d0" fill-opacity="0.7"/><ellipse cx="34" cy="18" rx="6.3" ry="4.7" transform="rotate(143 34 18)" fill="#8005e8" fill-opacity="0.7"/><ellipse cx="45" cy="23" rx="5.9" ry="4.9" transform="rotate(103 45 23)" fill="#8005e8" fill-opacity="0.7"/><ellipse cx="59" cy="22" rx="5.6" ry="4.3" transform="rotate(171 59 22)" fill="#5003d0" fill-opacity="0.6"/><ellipse cx="69" cy="22" rx="6.5" ry="4.1" transform="rotate(42 69 22)" fill="#8005e8" fill-opacity="0.7"/><ellipse cx="2" cy="30" rx="6.7" ry="4.2" transform="rotate(113 2 30)" fill="#6a05e8" fill-opacity="0.8"/><ellipse cx="79" cy="30" rx="6.7" ry="4.2" transform="rotate(113 79 30)" fill="#6a05e8" fill-opacity="0.8"/><ellipse cx="12" cy="29" rx="6.9" ry="4.1" transform="rotate(6 12 29)" fill="#5003d0" fill-opacity="0.6"/><ellipse cx="31" cy="25" rx="6.7" ry="5.4" transform="rotate(163 31 25)" fill="#7003d0" fill-opacity="0.7"/><ellipse cx="34" cy="30" rx="7.1" ry="4.3" transform="rotate(168 34 30)" fill="#7003d0" fill-opacity="0.8"/><ellipse cx="49" cy="27" rx="6.9" ry="4.1" transform="rotate(144 49 27)" fill="#8005e8" fill-opacity="0.7"/><ellipse cx="65" cy="25" rx="7.2" ry="4.4" transform="rotate(174 65 25)" fill="#7003d0" fill-opacity="0.7"/><ellipse cx="-7" cy="31" rx="6.0" ry="4.9" transform="rotate(43 -7 31)" fill="#6a05e8" fill-opacity="0.8"/><ellipse cx="70" cy="31" rx="6.0" ry="4.9" transform="rotate(43 70 31)" fill="#6a05e8" fill-opacity="0.8"/><ellipse cx="-2" cy="34" rx="7.4" ry="5.1" transform="rotate(135 -2 34)" fill="#5a04e0" fill-opacity="0.8"/><ellipse cx="75" cy="34" rx="7.4" ry="5.1" transform="rotate(135 75 34)" fill="#5a04e0" fill-opacity="0.8"/><ellipse cx="9" cy="35" rx="7.0" ry="4.2" transform="rotate(98 9 35)" fill="#7003d0" fill-opacity="0.8"/><ellipse cx="23" cy="35" rx="6.2" ry="5.5" transform="rotate(33 23 35)" fill="#5a04e0" fill-opacity="0.6"/><ellipse cx="35" cy="39" rx="7.2" ry="5.2" transform="rotate(170 35 39)" fill="#5003d0" fill-opacity="0.8"/><ellipse cx="40" cy="40" rx="7.0" ry="5.5" transform="rotate(101 40 40)" fill="#6a05e8" fill-opacity="0.8"/><ellipse cx="56" cy="36" rx="6.2" ry="4.6" transform="rotate(79 56 36)" fill="#7003d0" fill-opacity="0.8"/><ellipse cx="66" cy="42" rx="5.8" ry="4.4" transform="rotate(98 66 42)" fill="#8005e8" fill-opacity="0.6"/><ellipse cx="2" cy="45" rx="6.9" ry="4.2" transform="rotate(13 2 45)" fill="#6a05e8" fill-opacity="0.6"/><ellipse cx="79" cy="45" rx="6.9" ry="4.2" transform="rotate(13 79 45)" fill="#6a05e8" fill-opacity="0.6"/><ellipse cx="19" cy="45" rx="6.9" ry="4.2" transform="rotate(66 19 45)" fill="#6a05e8" fill-opacity="0.6"/><ellipse cx="25" cy="47" rx="7.0" ry="5.0" transform="rotate(171 25 47)" fill="#6a05e8" fill-opacity="0.7"/><ellipse cx="41" cy="51" rx="5.8" ry="5.0" transform="rotate(22 41 51)" fill="#6a05e8" fill-opacity="0.8"/><ellipse cx="46" cy="50" rx="5.6" ry="5.3" transform="rotate(179 46 50)" fill="#7003d0" fill-opacity="0.8"/><ellipse cx="58" cy="48" rx="5.9" ry="5.3" transform="rotate(140 58 48)" fill="#5a04e0" fill-opacity="0.6"/><ellipse cx="67" cy="48" rx="7.0" ry="5.5" transform="rotate(174 67 48)" fill="#8005e8" fill-opacity="0.8"/><ellipse cx="-4" cy="59" rx="5.6" ry="4.6" transform="rotate(21 -4 59)" fill="#6a05e8" fill-opacity="0.7"/><ellipse cx="73" cy="59" rx="5.6" ry="4.6" transform="rotate(21 73 59)" fill="#6a05e8" fill-opacity="0.7"/><ellipse cx="13" cy="56" rx="6.9" ry="5.5" transform="rotate(62 13 56)" fill="#6a05e8" fill-opacity="0.6"/><ellipse cx="18" cy="53" rx="7.2" ry="4.1" transform="rotate(106 18 53)" fill="#8005e8" fill-opacity="0.6"/><ellipse cx="29" cy="58" rx="6.0" ry="5.0" transform="rotate(177 29 58)" fill="#7003d0" fill-opacity="0.7"/><ellipse cx="45" cy="58" rx="6.0" ry="4.2" transform="rotate(160 45 58)" fill="#5a04e0" fill-opacity="0.8"/><ellipse cx="51" cy="55" rx="5.7" ry="5.4" transform="rotate(0 51 55)" fill="#5a04e0" fill-opacity="0.6"/><ellipse cx="67" cy="58" rx="7.2" ry="4.8" transform="rotate(125 67 58)" fill="#7003d0" fill-opacity="0.6"/><ellipse cx="7" cy="66" rx="7.0" ry="4.7" transform="rotate(164 7 66)" fill="#6a05e8" fill-opacity="0.7"/><ellipse cx="84" cy="66" rx="7.0" ry="4.7" transform="rotate(164 84 66)" fill="#6a05e8" fill-opacity="0.7"/><ellipse cx="14" cy="64" rx="6.2" ry="5.3" transform="rotate(65 14 64)" fill="#6a05e8" fill-opacity="0.8"/><ellipse cx="24" cy="67" rx="6.7" ry="4.3" transform="rotate(116 24 67)" fill="#5a04e0" fill-opacity="0.7"/><ellipse cx="35" cy="-6" rx="7.2" ry="4.8" transform="rotate(172 35 -6)" fill="#5003d0" fill-opacity="0.7"/><ellipse cx="35" cy="71" rx="7.2" ry="4.8" transform="rotate(172 35 71)" fill="#5003d0" fill-opacity="0.7"/><ellipse cx="54" cy="-6" rx="7.3" ry="4.5" transform="rotate(128 54 -6)" fill="#7003d0" fill-opacity="0.9"/><ellipse cx="54" cy="71" rx="7.3" ry="4.5" transform="rotate(128 54 71)" fill="#7003d0" fill-opacity="0.9"/><ellipse cx="62" cy="70" rx="5.6" ry="4.2" transform="rotate(20 62 70)" fill="#5003d0" fill-opacity="0.8"/><ellipse cx="-1" cy="-7" rx="6.5" ry="5.2" transform="rotate(138 -1 -7)" fill="#6a05e8" fill-opacity="0.6"/><ellipse cx="-1" cy="70" rx="6.5" ry="5.2" transform="rotate(138 -1 70)" fill="#6a05e8" fill-opacity="0.6"/><ellipse cx="76" cy="-7" rx="6.5" ry="5.2" transform="rotate(138 76 -7)" fill="#6a05e8" fill-opacity="0.6"/><ellipse cx="76" cy="70" rx="6.5" ry="5.2" transform="rotate(138 76 70)" fill="#6a05e8" fill-opacity="0.6"/></pattern><pattern id="pNucBR" width="84" height="84" patternUnits="userSpaceOnUse" patternTransform="rotate(35)"><ellipse cx="-2" cy="-4" rx="7.1" ry="4.1" transform="rotate(96 -2 -4)" fill="#3002b8" fill-opacity="0.8"/><ellipse cx="-2" cy="80" rx="7.1" ry="4.1" transform="rotate(96 -2 80)" fill="#3002b8" fill-opacity="0.8"/><ellipse cx="82" cy="-4" rx="7.1" ry="4.1" transform="rotate(96 82 -4)" fill="#3002b8" fill-opacity="0.8"/><ellipse cx="82" cy="80" rx="7.1" ry="4.1" transform="rotate(96 82 80)" fill="#3002b8" fill-opacity="0.8"/><ellipse cx="19" cy="-3" rx="5.7" ry="4.6" transform="rotate(43 19 -3)" fill="#8003d0" fill-opacity="0.7"/><ellipse cx="19" cy="81" rx="5.7" ry="4.6" transform="rotate(43 19 81)" fill="#8003d0" fill-opacity="0.7"/><ellipse cx="32" cy="-4" rx="6.1" ry="4.9" transform="rotate(171 32 -4)" fill="#8003d0" fill-opacity="0.8"/><ellipse cx="32" cy="80" rx="6.1" ry="4.9" transform="rotate(171 32 80)" fill="#8003d0" fill-opacity="0.8"/><ellipse cx="36" cy="-3" rx="6.9" ry="4.2" transform="rotate(75 36 -3)" fill="#8003d0" fill-opacity="0.6"/><ellipse cx="36" cy="81" rx="6.9" ry="4.2" transform="rotate(75 36 81)" fill="#8003d0" fill-opacity="0.6"/><ellipse cx="54" cy="3" rx="6.0" ry="4.9" transform="rotate(115 54 3)" fill="#3002b8" fill-opacity="0.6"/><ellipse cx="54" cy="87" rx="6.0" ry="4.9" transform="rotate(115 54 87)" fill="#3002b8" fill-opacity="0.6"/><ellipse cx="73" cy="1" rx="7.0" ry="4.7" transform="rotate(96 73 1)" fill="#3002b8" fill-opacity="0.7"/><ellipse cx="73" cy="85" rx="7.0" ry="4.7" transform="rotate(96 73 85)" fill="#3002b8" fill-opacity="0.7"/><ellipse cx="12" cy="11" rx="6.1" ry="4.3" transform="rotate(140 12 11)" fill="#3a03d0" fill-opacity="0.8"/><ellipse cx="21" cy="16" rx="7.3" ry="4.4" transform="rotate(176 21 16)" fill="#3a03d0" fill-opacity="0.7"/><ellipse cx="31" cy="10" rx="7.8" ry="4.6" transform="rotate(173 31 10)" fill="#3a03d0" fill-opacity="0.8"/><ellipse cx="50" cy="16" rx="6.3" ry="5.0" transform="rotate(107 50 16)" fill="#8003d0" fill-opacity="0.8"/><ellipse cx="58" cy="8" rx="6.2" ry="5.0" transform="rotate(12 58 8)" fill="#3002b8" fill-opacity="0.8"/><ellipse cx="-1" cy="15" rx="6.2" ry="4.6" transform="rotate(120 -1 15)" fill="#3a03d0" fill-opacity="0.9"/><ellipse cx="83" cy="15" rx="6.2" ry="4.6" transform="rotate(120 83 15)" fill="#3a03d0" fill-opacity="0.9"/><ellipse cx="-2" cy="25" rx="6.7" ry="4.3" transform="rotate(52 -2 25)" fill="#4403e0" fill-opacity="0.7"/><ellipse cx="82" cy="25" rx="6.7" ry="4.3" transform="rotate(52 82 25)" fill="#4403e0" fill-opacity="0.7"/><ellipse cx="19" cy="24" rx="5.9" ry="4.6" transform="rotate(50 19 24)" fill="#4403e0" fill-opacity="0.8"/><ellipse cx="33" cy="22" rx="6.5" ry="4.5" transform="rotate(159 33 22)" fill="#4403e0" fill-opacity="0.6"/><ellipse cx="38" cy="21" rx="6.1" ry="4.7" transform="rotate(106 38 21)" fill="#3002b8" fill-opacity="0.6"/><ellipse cx="52" cy="24" rx="7.0" ry="4.5" transform="rotate(23 52 24)" fill="#8003d0" fill-opacity="0.9"/><ellipse cx="72" cy="27" rx="6.6" ry="5.3" transform="rotate(171 72 27)" fill="#8003d0" fill-opacity="0.7"/><ellipse cx="6" cy="32" rx="7.1" ry="4.1" transform="rotate(12 6 32)" fill="#4403e0" fill-opacity="0.7"/><ellipse cx="90" cy="32" rx="7.1" ry="4.1" transform="rotate(12 90 32)" fill="#4403e0" fill-opacity="0.7"/><ellipse cx="16" cy="37" rx="5.8" ry="4.9" transform="rotate(97 16 37)" fill="#3002b8" fill-opacity="0.8"/><ellipse cx="30" cy="33" rx="6.4" ry="5.0" transform="rotate(172 30 33)" fill="#8003d0" fill-opacity="0.7"/><ellipse cx="44" cy="40" rx="8.0" ry="4.7" transform="rotate(87 44 40)" fill="#3a03d0" fill-opacity="0.6"/><ellipse cx="66" cy="39" rx="6.7" ry="5.0" transform="rotate(93 66 39)" fill="#4403e0" fill-opacity="0.9"/><ellipse cx="-7" cy="32" rx="6.9" ry="4.0" transform="rotate(95 -7 32)" fill="#3a03d0" fill-opacity="0.8"/><ellipse cx="77" cy="32" rx="6.9" ry="4.0" transform="rotate(95 77 32)" fill="#3a03d0" fill-opacity="0.8"/><ellipse cx="-3" cy="47" rx="5.9" ry="5.2" transform="rotate(96 -3 47)" fill="#8003d0" fill-opacity="0.7"/><ellipse cx="81" cy="47" rx="5.9" ry="5.2" transform="rotate(96 81 47)" fill="#8003d0" fill-opacity="0.7"/><ellipse cx="11" cy="51" rx="8.0" ry="5.3" transform="rotate(145 11 51)" fill="#5a03e0" fill-opacity="0.8"/><ellipse cx="25" cy="48" rx="6.4" ry="4.0" transform="rotate(5 25 48)" fill="#3002b8" fill-opacity="0.7"/><ellipse cx="38" cy="49" rx="6.4" ry="5.2" transform="rotate(130 38 49)" fill="#3002b8" fill-opacity="0.9"/><ellipse cx="54" cy="45" rx="6.1" ry="4.3" transform="rotate(37 54 45)" fill="#8003d0" fill-opacity="0.9"/><ellipse cx="71" cy="43" rx="7.8" ry="4.5" transform="rotate(116 71 43)" fill="#3a03d0" fill-opacity="0.9"/><ellipse cx="11" cy="63" rx="6.7" ry="4.3" transform="rotate(142 11 63)" fill="#3002b8" fill-opacity="0.6"/><ellipse cx="27" cy="62" rx="6.7" ry="5.1" transform="rotate(15 27 62)" fill="#4403e0" fill-opacity="0.6"/><ellipse cx="30" cy="56" rx="7.8" ry="5.2" transform="rotate(26 30 56)" fill="#8003d0" fill-opacity="0.9"/><ellipse cx="51" cy="58" rx="6.9" ry="4.2" transform="rotate(3 51 58)" fill="#3a03d0" fill-opacity="0.7"/><ellipse cx="68" cy="59" rx="7.7" ry="5.2" transform="rotate(38 68 59)" fill="#3002b8" fill-opacity="0.6"/><ellipse cx="-7" cy="63" rx="6.3" ry="4.8" transform="rotate(150 -7 63)" fill="#3a03d0" fill-opacity="0.9"/><ellipse cx="77" cy="63" rx="6.3" ry="4.8" transform="rotate(150 77 63)" fill="#3a03d0" fill-opacity="0.9"/><ellipse cx="-2" cy="72" rx="7.0" ry="5.4" transform="rotate(76 -2 72)" fill="#8003d0" fill-opacity="0.6"/><ellipse cx="82" cy="72" rx="7.0" ry="5.4" transform="rotate(76 82 72)" fill="#8003d0" fill-opacity="0.6"/><ellipse cx="10" cy="72" rx="7.7" ry="5.2" transform="rotate(110 10 72)" fill="#4403e0" fill-opacity="0.6"/><ellipse cx="28" cy="74" rx="6.9" ry="4.5" transform="rotate(93 28 74)" fill="#8003d0" fill-opacity="0.7"/><ellipse cx="45" cy="76" rx="5.6" ry="4.3" transform="rotate(8 45 76)" fill="#3a03d0" fill-opacity="0.7"/><ellipse cx="57" cy="75" rx="7.8" ry="4.7" transform="rotate(110 57 75)" fill="#8003d0" fill-opacity="0.8"/><ellipse cx="66" cy="70" rx="6.8" ry="5.2" transform="rotate(91 66 70)" fill="#4403e0" fill-opacity="0.8"/></pattern><pattern id="pEpiV" width="88" height="88" patternUnits="userSpaceOnUse"><ellipse cx="-3" cy="4" rx="5.3" ry="5.1" transform="rotate(15 -3 4)" fill="#5004e0" fill-opacity="0.7"/><ellipse cx="-3" cy="92" rx="5.3" ry="5.1" transform="rotate(15 -3 92)" fill="#5004e0" fill-opacity="0.7"/><ellipse cx="85" cy="4" rx="5.3" ry="5.1" transform="rotate(15 85 4)" fill="#5004e0" fill-opacity="0.7"/><ellipse cx="85" cy="92" rx="5.3" ry="5.1" transform="rotate(15 85 92)" fill="#5004e0" fill-opacity="0.7"/><ellipse cx="11" cy="-1" rx="5.1" ry="4.7" transform="rotate(70 11 -1)" fill="#5004e0" fill-opacity="0.7"/><ellipse cx="11" cy="87" rx="5.1" ry="4.7" transform="rotate(70 11 87)" fill="#5004e0" fill-opacity="0.7"/><ellipse cx="21" cy="-0" rx="6.5" ry="5.1" transform="rotate(94 21 -0)" fill="#4a03d8" fill-opacity="0.7"/><ellipse cx="21" cy="88" rx="6.5" ry="5.1" transform="rotate(94 21 88)" fill="#4a03d8" fill-opacity="0.7"/><ellipse cx="32" cy="-3" rx="5.5" ry="5.5" transform="rotate(11 32 -3)" fill="#4a03d8" fill-opacity="0.4"/><ellipse cx="32" cy="85" rx="5.5" ry="5.5" transform="rotate(11 32 85)" fill="#4a03d8" fill-opacity="0.4"/><ellipse cx="40" cy="-2" rx="5.2" ry="5.4" transform="rotate(93 40 -2)" fill="#5004e0" fill-opacity="0.6"/><ellipse cx="40" cy="86" rx="5.2" ry="5.4" transform="rotate(93 40 86)" fill="#5004e0" fill-opacity="0.6"/><ellipse cx="51" cy="-4" rx="6.9" ry="4.7" transform="rotate(35 51 -4)" fill="#4a03d8" fill-opacity="0.7"/><ellipse cx="51" cy="84" rx="6.9" ry="4.7" transform="rotate(35 51 84)" fill="#4a03d8" fill-opacity="0.7"/><ellipse cx="70" cy="-2" rx="5.7" ry="5.3" transform="rotate(24 70 -2)" fill="#5a05f0" fill-opacity="0.6"/><ellipse cx="70" cy="86" rx="5.7" ry="5.3" transform="rotate(24 70 86)" fill="#5a05f0" fill-opacity="0.6"/><ellipse cx="75" cy="-1" rx="6.3" ry="4.7" transform="rotate(112 75 -1)" fill="#6805ff" fill-opacity="0.5"/><ellipse cx="75" cy="87" rx="6.3" ry="4.7" transform="rotate(112 75 87)" fill="#6805ff" fill-opacity="0.5"/><ellipse cx="6" cy="10" rx="5.1" ry="5.4" transform="rotate(91 6 10)" fill="#5004e0" fill-opacity="0.5"/><ellipse cx="94" cy="10" rx="5.1" ry="5.4" transform="rotate(91 94 10)" fill="#5004e0" fill-opacity="0.5"/><ellipse cx="21" cy="8" rx="5.4" ry="4.1" transform="rotate(46 21 8)" fill="#6805ff" fill-opacity="0.7"/><ellipse cx="31" cy="7" rx="5.8" ry="4.2" transform="rotate(119 31 7)" fill="#5a05f0" fill-opacity="0.5"/><ellipse cx="41" cy="8" rx="5.0" ry="5.1" transform="rotate(62 41 8)" fill="#5004e0" fill-opacity="0.6"/><ellipse cx="54" cy="7" rx="6.1" ry="4.6" transform="rotate(14 54 7)" fill="#5a05f0" fill-opacity="0.5"/><ellipse cx="54" cy="95" rx="6.1" ry="4.6" transform="rotate(14 54 95)" fill="#5a05f0" fill-opacity="0.5"/><ellipse cx="56" cy="6" rx="5.2" ry="4.8" transform="rotate(65 56 6)" fill="#4a03d8" fill-opacity="0.6"/><ellipse cx="56" cy="94" rx="5.2" ry="4.8" transform="rotate(65 56 94)" fill="#4a03d8" fill-opacity="0.6"/><ellipse cx="76" cy="6" rx="5.0" ry="4.2" transform="rotate(70 76 6)" fill="#5a05f0" fill-opacity="0.7"/><ellipse cx="76" cy="94" rx="5.0" ry="4.2" transform="rotate(70 76 94)" fill="#5a05f0" fill-opacity="0.7"/><ellipse cx="81" cy="14" rx="5.0" ry="5.3" transform="rotate(38 81 14)" fill="#5a05f0" fill-opacity="0.7"/><ellipse cx="4" cy="22" rx="6.6" ry="4.3" transform="rotate(61 4 22)" fill="#4a03d8" fill-opacity="0.6"/><ellipse cx="92" cy="22" rx="6.6" ry="4.3" transform="rotate(61 92 22)" fill="#4a03d8" fill-opacity="0.6"/><ellipse cx="7" cy="20" rx="6.0" ry="4.7" transform="rotate(28 7 20)" fill="#5a05f0" fill-opacity="0.4"/><ellipse cx="95" cy="20" rx="6.0" ry="4.7" transform="rotate(28 95 20)" fill="#5a05f0" fill-opacity="0.4"/><ellipse cx="24" cy="21" rx="6.4" ry="4.8" transform="rotate(16 24 21)" fill="#4a03d8" fill-opacity="0.6"/><ellipse cx="36" cy="19" rx="5.1" ry="4.1" transform="rotate(20 36 19)" fill="#5004e0" fill-opacity="0.7"/><ellipse cx="46" cy="21" rx="5.0" ry="4.5" transform="rotate(78 46 21)" fill="#5a05f0" fill-opacity="0.7"/><ellipse cx="57" cy="20" rx="6.6" ry="4.9" transform="rotate(90 57 20)" fill="#6805ff" fill-opacity="0.6"/><ellipse cx="68" cy="21" rx="5.0" ry="4.9" transform="rotate(164 68 21)" fill="#6805ff" fill-opacity="0.7"/><ellipse cx="-6" cy="17" rx="5.6" ry="4.8" transform="rotate(176 -6 17)" fill="#6805ff" fill-opacity="0.7"/><ellipse cx="82" cy="17" rx="5.6" ry="4.8" transform="rotate(176 82 17)" fill="#6805ff" fill-opacity="0.7"/><ellipse cx="8" cy="28" rx="5.6" ry="5.2" transform="rotate(64 8 28)" fill="#6805ff" fill-opacity="0.6"/><ellipse cx="13" cy="29" rx="5.8" ry="4.9" transform="rotate(165 13 29)" fill="#5004e0" fill-opacity="0.5"/><ellipse cx="29" cy="32" rx="6.4" ry="5.4" transform="rotate(131 29 32)" fill="#6805ff" fill-opacity="0.6"/><ellipse cx="35" cy="32" rx="6.0" ry="4.1" transform="rotate(29 35 32)" fill="#4a03d8" fill-opacity="0.7"/><ellipse cx="47" cy="29" rx="5.2" ry="5.2" transform="rotate(49 47 29)" fill="#6805ff" fill-opacity="0.5"/><ellipse cx="64" cy="27" rx="7.0" ry="4.9" transform="rotate(44 64 27)" fill="#5004e0" fill-opacity="0.7"/><ellipse cx="74" cy="32" rx="5.5" ry="5.2" transform="rotate(107 74 32)" fill="#5004e0" fill-opacity="0.5"/><ellipse cx="-3" cy="32" rx="5.8" ry="5.0" transform="rotate(140 -3 32)" fill="#4a03d8" fill-opacity="0.7"/><ellipse cx="85" cy="32" rx="5.8" ry="5.0" transform="rotate(140 85 32)" fill="#4a03d8" fill-opacity="0.7"/><ellipse cx="3" cy="36" rx="6.2" ry="5.0" transform="rotate(16 3 36)" fill="#4a03d8" fill-opacity="0.6"/><ellipse cx="91" cy="36" rx="6.2" ry="5.0" transform="rotate(16 91 36)" fill="#4a03d8" fill-opacity="0.6"/><ellipse cx="13" cy="37" rx="6.1" ry="4.2" transform="rotate(64 13 37)" fill="#5a05f0" fill-opacity="0.5"/><ellipse cx="17" cy="43" rx="6.7" ry="5.0" transform="rotate(66 17 43)" fill="#5a05f0" fill-opacity="0.7"/><ellipse cx="35" cy="40" rx="5.6" ry="4.4" transform="rotate(64 35 40)" fill="#6805ff" fill-opacity="0.4"/><ellipse cx="48" cy="43" rx="6.2" ry="4.7" transform="rotate(28 48 43)" fill="#4a03d8" fill-opacity="0.5"/><ellipse cx="57" cy="35" rx="6.1" ry="4.1" transform="rotate(167 57 35)" fill="#6805ff" fill-opacity="0.7"/><ellipse cx="62" cy="35" rx="6.1" ry="5.1" transform="rotate(149 62 35)" fill="#6805ff" fill-opacity="0.5"/><ellipse cx="74" cy="39" rx="5.2" ry="5.1" transform="rotate(15 74 39)" fill="#5004e0" fill-opacity="0.7"/><ellipse cx="2" cy="47" rx="5.8" ry="4.3" transform="rotate(137 2 47)" fill="#5a05f0" fill-opacity="0.6"/><ellipse cx="90" cy="47" rx="5.8" ry="4.3" transform="rotate(137 90 47)" fill="#5a05f0" fill-opacity="0.6"/><ellipse cx="16" cy="50" rx="5.6" ry="5.2" transform="rotate(79 16 50)" fill="#6805ff" fill-opacity="0.6"/><ellipse cx="32" cy="49" rx="5.7" ry="5.3" transform="rotate(95 32 49)" fill="#6805ff" fill-opacity="0.5"/><ellipse cx="43" cy="52" rx="6.7" ry="4.4" transform="rotate(114 43 52)" fill="#6805ff" fill-opacity="0.7"/><ellipse cx="50" cy="48" rx="5.3" ry="4.7" transform="rotate(86 50 48)" fill="#6805ff" fill-opacity="0.5"/><ellipse cx="56" cy="48" rx="6.9" ry="4.5" transform="rotate(126 56 48)" fill="#5004e0" fill-opacity="0.7"/><ellipse cx="67" cy="52" rx="5.9" ry="5.4" transform="rotate(138 67 52)" fill="#4a03d8" fill-opacity="0.6"/><ellipse cx="-5" cy="52" rx="5.7" ry="4.8" transform="rotate(178 -5 52)" fill="#6805ff" fill-opacity="0.7"/><ellipse cx="83" cy="52" rx="5.7" ry="4.8" transform="rotate(178 83 52)" fill="#6805ff" fill-opacity="0.7"/><ellipse cx="-1" cy="63" rx="6.3" ry="4.7" transform="rotate(31 -1 63)" fill="#5004e0" fill-opacity="0.6"/><ellipse cx="87" cy="63" rx="6.3" ry="4.7" transform="rotate(31 87 63)" fill="#5004e0" fill-opacity="0.6"/><ellipse cx="12" cy="62" rx="6.5" ry="4.6" transform="rotate(134 12 62)" fill="#5a05f0" fill-opacity="0.7"/><ellipse cx="26" cy="60" rx="6.3" ry="4.1" transform="rotate(173 26 60)" fill="#6805ff" fill-opacity="0.6"/><ellipse cx="33" cy="56" rx="5.3" ry="4.4" transform="rotate(4 33 56)" fill="#4a03d8" fill-opacity="0.7"/><ellipse cx="45" cy="57" rx="6.7" ry="4.4" transform="rotate(155 45 57)" fill="#4a03d8" fill-opacity="0.6"/><ellipse cx="51" cy="62" rx="5.9" ry="4.2" transform="rotate(175 51 62)" fill="#5a05f0" fill-opacity="0.5"/><ellipse cx="67" cy="58" rx="5.9" ry="4.6" transform="rotate(98 67 58)" fill="#5004e0" fill-opacity="0.7"/><ellipse cx="77" cy="55" rx="6.1" ry="5.0" transform="rotate(56 77 55)" fill="#5004e0" fill-opacity="0.6"/><ellipse cx="3" cy="72" rx="5.4" ry="4.2" transform="rotate(7 3 72)" fill="#5004e0" fill-opacity="0.5"/><ellipse cx="91" cy="72" rx="5.4" ry="4.2" transform="rotate(7 91 72)" fill="#5004e0" fill-opacity="0.5"/><ellipse cx="12" cy="64" rx="5.0" ry="4.2" transform="rotate(54 12 64)" fill="#6805ff" fill-opacity="0.4"/><ellipse cx="31" cy="67" rx="6.7" ry="4.6" transform="rotate(164 31 67)" fill="#5a05f0" fill-opacity="0.7"/><ellipse cx="40" cy="69" rx="5.4" ry="5.4" transform="rotate(136 40 69)" fill="#4a03d8" fill-opacity="0.7"/><ellipse cx="49" cy="65" rx="5.3" ry="5.1" transform="rotate(171 49 65)" fill="#6805ff" fill-opacity="0.7"/><ellipse cx="60" cy="64" rx="5.8" ry="5.0" transform="rotate(178 60 64)" fill="#6805ff" fill-opacity="0.4"/><ellipse cx="71" cy="70" rx="5.5" ry="4.6" transform="rotate(125 71 70)" fill="#6805ff" fill-opacity="0.5"/><ellipse cx="80" cy="64" rx="6.6" ry="5.1" transform="rotate(125 80 64)" fill="#5004e0" fill-opacity="0.5"/><ellipse cx="3" cy="80" rx="6.7" ry="5.2" transform="rotate(89 3 80)" fill="#6805ff" fill-opacity="0.5"/><ellipse cx="91" cy="80" rx="6.7" ry="5.2" transform="rotate(89 91 80)" fill="#6805ff" fill-opacity="0.5"/><ellipse cx="15" cy="78" rx="6.8" ry="5.2" transform="rotate(99 15 78)" fill="#4a03d8" fill-opacity="0.7"/><ellipse cx="26" cy="-6" rx="6.2" ry="4.9" transform="rotate(84 26 -6)" fill="#5004e0" fill-opacity="0.6"/><ellipse cx="26" cy="82" rx="6.2" ry="4.9" transform="rotate(84 26 82)" fill="#5004e0" fill-opacity="0.6"/><ellipse cx="31" cy="-6" rx="6.1" ry="5.4" transform="rotate(77 31 -6)" fill="#5004e0" fill-opacity="0.5"/><ellipse cx="31" cy="82" rx="6.1" ry="5.4" transform="rotate(77 31 82)" fill="#5004e0" fill-opacity="0.5"/><ellipse cx="40" cy="81" rx="5.1" ry="4.5" transform="rotate(103 40 81)" fill="#5004e0" fill-opacity="0.7"/><ellipse cx="54" cy="74" rx="5.6" ry="4.5" transform="rotate(56 54 74)" fill="#5a05f0" fill-opacity="0.5"/><ellipse cx="70" cy="80" rx="5.9" ry="4.9" transform="rotate(88 70 80)" fill="#5004e0" fill-opacity="0.4"/><ellipse cx="72" cy="80" rx="6.4" ry="4.5" transform="rotate(127 72 80)" fill="#5a05f0" fill-opacity="0.6"/></pattern><pattern id="pLoose2" width="60" height="60" patternUnits="userSpaceOnUse"><ellipse cx="1" cy="-1" rx="5.7" ry="3.8" transform="rotate(146 1 -1)" fill="#3002b0" fill-opacity="0.7"/><ellipse cx="1" cy="59" rx="5.7" ry="3.8" transform="rotate(146 1 59)" fill="#3002b0" fill-opacity="0.7"/><ellipse cx="61" cy="-1" rx="5.7" ry="3.8" transform="rotate(146 61 -1)" fill="#3002b0" fill-opacity="0.7"/><ellipse cx="61" cy="59" rx="5.7" ry="3.8" transform="rotate(146 61 59)" fill="#3002b0" fill-opacity="0.7"/><ellipse cx="11" cy="0" rx="5.2" ry="3.9" transform="rotate(172 11 0)" fill="#3002b0" fill-opacity="0.5"/><ellipse cx="11" cy="60" rx="5.2" ry="3.9" transform="rotate(172 11 60)" fill="#3002b0" fill-opacity="0.5"/><ellipse cx="34" cy="1" rx="5.3" ry="3.9" transform="rotate(121 34 1)" fill="#3002b0" fill-opacity="0.6"/><ellipse cx="34" cy="61" rx="5.3" ry="3.9" transform="rotate(121 34 61)" fill="#3002b0" fill-opacity="0.6"/><ellipse cx="43" cy="-1" rx="5.4" ry="4.8" transform="rotate(43 43 -1)" fill="#3002b0" fill-opacity="0.7"/><ellipse cx="43" cy="59" rx="5.4" ry="4.8" transform="rotate(43 43 59)" fill="#3002b0" fill-opacity="0.7"/><ellipse cx="3" cy="8" rx="4.8" ry="4.9" transform="rotate(55 3 8)" fill="#3002b0" fill-opacity="0.8"/><ellipse cx="63" cy="8" rx="4.8" ry="4.9" transform="rotate(55 63 8)" fill="#3002b0" fill-opacity="0.8"/><ellipse cx="20" cy="13" rx="5.4" ry="4.2" transform="rotate(118 20 13)" fill="#3002b0" fill-opacity="0.8"/><ellipse cx="34" cy="10" rx="5.3" ry="3.6" transform="rotate(89 34 10)" fill="#4003d0" fill-opacity="0.7"/><ellipse cx="53" cy="15" rx="4.8" ry="4.4" transform="rotate(67 53 15)" fill="#4003d0" fill-opacity="0.6"/><ellipse cx="5" cy="26" rx="5.4" ry="5.0" transform="rotate(34 5 26)" fill="#3002b0" fill-opacity="0.7"/><ellipse cx="65" cy="26" rx="5.4" ry="5.0" transform="rotate(34 65 26)" fill="#3002b0" fill-opacity="0.7"/><ellipse cx="14" cy="22" rx="5.0" ry="4.4" transform="rotate(32 14 22)" fill="#3a03c0" fill-opacity="0.6"/><ellipse cx="28" cy="25" rx="6.4" ry="3.8" transform="rotate(32 28 25)" fill="#3002b0" fill-opacity="0.6"/><ellipse cx="42" cy="24" rx="4.6" ry="4.8" transform="rotate(44 42 24)" fill="#3002b0" fill-opacity="0.7"/><ellipse cx="8" cy="35" rx="6.2" ry="4.5" transform="rotate(43 8 35)" fill="#4003d0" fill-opacity="0.8"/><ellipse cx="20" cy="36" rx="5.5" ry="3.7" transform="rotate(121 20 36)" fill="#3002b0" fill-opacity="0.5"/><ellipse cx="38" cy="35" rx="5.3" ry="4.6" transform="rotate(101 38 35)" fill="#3a03c0" fill-opacity="0.8"/><ellipse cx="52" cy="32" rx="4.5" ry="4.3" transform="rotate(9 52 32)" fill="#3a03c0" fill-opacity="0.6"/><ellipse cx="1" cy="51" rx="6.1" ry="3.7" transform="rotate(155 1 51)" fill="#4003d0" fill-opacity="0.8"/><ellipse cx="61" cy="51" rx="6.1" ry="3.7" transform="rotate(155 61 51)" fill="#4003d0" fill-opacity="0.8"/><ellipse cx="13" cy="46" rx="6.1" ry="4.2" transform="rotate(59 13 46)" fill="#4003d0" fill-opacity="0.8"/><ellipse cx="26" cy="46" rx="5.7" ry="4.5" transform="rotate(116 26 46)" fill="#4003d0" fill-opacity="0.7"/><ellipse cx="46" cy="44" rx="4.7" ry="3.9" transform="rotate(153 46 44)" fill="#3a03c0" fill-opacity="0.8"/></pattern><pattern id="pLoose" width="90" height="90" patternUnits="userSpaceOnUse"><ellipse cx="-1" cy="-2" rx="3.8" ry="4.3" transform="rotate(1 -1 -2)" fill="#3002a8" fill-opacity="0.8"/><ellipse cx="-1" cy="88" rx="3.8" ry="4.3" transform="rotate(1 -1 88)" fill="#3002a8" fill-opacity="0.8"/><ellipse cx="89" cy="-2" rx="3.8" ry="4.3" transform="rotate(1 89 -2)" fill="#3002a8" fill-opacity="0.8"/><ellipse cx="89" cy="88" rx="3.8" ry="4.3" transform="rotate(1 89 88)" fill="#3002a8" fill-opacity="0.8"/><ellipse cx="9" cy="1" rx="4.7" ry="3.1" transform="rotate(68 9 1)" fill="#3002a8" fill-opacity="0.8"/><ellipse cx="9" cy="91" rx="4.7" ry="3.1" transform="rotate(68 9 91)" fill="#3002a8" fill-opacity="0.8"/><ellipse cx="29" cy="-4" rx="3.6" ry="3.2" transform="rotate(157 29 -4)" fill="#3a03c0" fill-opacity="0.7"/><ellipse cx="29" cy="86" rx="3.6" ry="3.2" transform="rotate(157 29 86)" fill="#3a03c0" fill-opacity="0.7"/><ellipse cx="43" cy="3" rx="3.7" ry="3.4" transform="rotate(121 43 3)" fill="#3002a8" fill-opacity="0.8"/><ellipse cx="43" cy="93" rx="3.7" ry="3.4" transform="rotate(121 43 93)" fill="#3002a8" fill-opacity="0.8"/><ellipse cx="64" cy="5" rx="4.3" ry="3.5" transform="rotate(8 64 5)" fill="#3a03c0" fill-opacity="0.8"/><ellipse cx="64" cy="95" rx="4.3" ry="3.5" transform="rotate(8 64 95)" fill="#3a03c0" fill-opacity="0.8"/><ellipse cx="68" cy="-2" rx="4.5" ry="3.0" transform="rotate(76 68 -2)" fill="#3a03c0" fill-opacity="0.8"/><ellipse cx="68" cy="88" rx="4.5" ry="3.0" transform="rotate(76 68 88)" fill="#3a03c0" fill-opacity="0.8"/><ellipse cx="0" cy="16" rx="3.9" ry="4.3" transform="rotate(59 0 16)" fill="#3a03c0" fill-opacity="0.5"/><ellipse cx="90" cy="16" rx="3.9" ry="4.3" transform="rotate(59 90 16)" fill="#3a03c0" fill-opacity="0.5"/><ellipse cx="29" cy="13" rx="4.6" ry="3.8" transform="rotate(36 29 13)" fill="#3a03c0" fill-opacity="0.6"/><ellipse cx="40" cy="8" rx="4.7" ry="3.3" transform="rotate(110 40 8)" fill="#3a03c0" fill-opacity="0.4"/><ellipse cx="53" cy="14" rx="3.8" ry="3.4" transform="rotate(179 53 14)" fill="#3a03c0" fill-opacity="0.4"/><ellipse cx="71" cy="19" rx="4.0" ry="3.9" transform="rotate(8 71 19)" fill="#3002a8" fill-opacity="0.7"/><ellipse cx="83" cy="14" rx="4.9" ry="4.3" transform="rotate(20 83 14)" fill="#3002a8" fill-opacity="0.6"/><ellipse cx="-1" cy="32" rx="4.6" ry="3.0" transform="rotate(144 -1 32)" fill="#3002a8" fill-opacity="0.4"/><ellipse cx="89" cy="32" rx="4.6" ry="3.0" transform="rotate(144 89 32)" fill="#3002a8" fill-opacity="0.4"/><ellipse cx="9" cy="22" rx="4.0" ry="4.2" transform="rotate(55 9 22)" fill="#3002a8" fill-opacity="0.4"/><ellipse cx="34" cy="20" rx="5.1" ry="4.2" transform="rotate(90 34 20)" fill="#3a03c0" fill-opacity="0.6"/><ellipse cx="38" cy="28" rx="3.7" ry="4.1" transform="rotate(92 38 28)" fill="#3002a8" fill-opacity="0.5"/><ellipse cx="57" cy="28" rx="5.3" ry="3.0" transform="rotate(169 57 28)" fill="#3a03c0" fill-opacity="0.5"/><ellipse cx="70" cy="21" rx="3.8" ry="3.1" transform="rotate(81 70 21)" fill="#3002a8" fill-opacity="0.5"/><ellipse cx="0" cy="42" rx="4.1" ry="3.7" transform="rotate(50 0 42)" fill="#3a03c0" fill-opacity="0.7"/><ellipse cx="90" cy="42" rx="4.1" ry="3.7" transform="rotate(50 90 42)" fill="#3a03c0" fill-opacity="0.7"/><ellipse cx="19" cy="34" rx="4.3" ry="3.2" transform="rotate(101 19 34)" fill="#3002a8" fill-opacity="0.6"/><ellipse cx="42" cy="41" rx="4.0" ry="3.9" transform="rotate(110 42 41)" fill="#3002a8" fill-opacity="0.4"/><ellipse cx="46" cy="39" rx="3.8" ry="3.9" transform="rotate(15 46 39)" fill="#3a03c0" fill-opacity="0.7"/><ellipse cx="63" cy="38" rx="4.7" ry="3.8" transform="rotate(15 63 38)" fill="#3002a8" fill-opacity="0.6"/><ellipse cx="79" cy="33" rx="4.8" ry="3.9" transform="rotate(105 79 33)" fill="#3002a8" fill-opacity="0.6"/><ellipse cx="0" cy="52" rx="5.3" ry="3.1" transform="rotate(116 0 52)" fill="#3002a8" fill-opacity="0.4"/><ellipse cx="90" cy="52" rx="5.3" ry="3.1" transform="rotate(116 90 52)" fill="#3002a8" fill-opacity="0.4"/><ellipse cx="11" cy="47" rx="3.7" ry="3.7" transform="rotate(11 11 47)" fill="#3a03c0" fill-opacity="0.7"/><ellipse cx="23" cy="48" rx="4.4" ry="3.6" transform="rotate(173 23 48)" fill="#3002a8" fill-opacity="0.8"/><ellipse cx="38" cy="53" rx="4.7" ry="4.0" transform="rotate(73 38 53)" fill="#3a03c0" fill-opacity="0.4"/><ellipse cx="53" cy="55" rx="3.7" ry="3.0" transform="rotate(112 53 55)" fill="#3002a8" fill-opacity="0.4"/><ellipse cx="79" cy="49" rx="5.1" ry="3.0" transform="rotate(172 79 49)" fill="#3a03c0" fill-opacity="0.8"/><ellipse cx="15" cy="69" rx="3.7" ry="3.5" transform="rotate(42 15 69)" fill="#3a03c0" fill-opacity="0.5"/><ellipse cx="18" cy="59" rx="3.7" ry="4.4" transform="rotate(176 18 59)" fill="#3002a8" fill-opacity="0.4"/><ellipse cx="30" cy="66" rx="3.9" ry="4.3" transform="rotate(15 30 66)" fill="#3a03c0" fill-opacity="0.5"/><ellipse cx="53" cy="60" rx="4.4" ry="4.4" transform="rotate(4 53 60)" fill="#3a03c0" fill-opacity="0.6"/><ellipse cx="66" cy="69" rx="4.5" ry="3.5" transform="rotate(157 66 69)" fill="#3a03c0" fill-opacity="0.7"/><ellipse cx="77" cy="58" rx="3.9" ry="3.5" transform="rotate(177 77 58)" fill="#3002a8" fill-opacity="0.8"/><ellipse cx="6" cy="83" rx="5.4" ry="3.1" transform="rotate(57 6 83)" fill="#3a03c0" fill-opacity="0.6"/><ellipse cx="96" cy="83" rx="5.4" ry="3.1" transform="rotate(57 96 83)" fill="#3a03c0" fill-opacity="0.6"/><ellipse cx="12" cy="78" rx="5.3" ry="4.3" transform="rotate(77 12 78)" fill="#3a03c0" fill-opacity="0.5"/><ellipse cx="29" cy="79" rx="4.6" ry="3.7" transform="rotate(34 29 79)" fill="#3002a8" fill-opacity="0.4"/><ellipse cx="39" cy="75" rx="3.6" ry="3.3" transform="rotate(66 39 75)" fill="#3a03c0" fill-opacity="0.8"/><ellipse cx="54" cy="83" rx="5.4" ry="3.9" transform="rotate(169 54 83)" fill="#3002a8" fill-opacity="0.5"/><ellipse cx="76" cy="75" rx="3.5" ry="3.8" transform="rotate(85 76 75)" fill="#3002a8" fill-opacity="0.7"/></pattern><linearGradient id="gDarkR" x1="0" y1="0" x2="1" y2="0"><stop offset="0" stop-color="#000" stop-opacity="0"/><stop offset="1" stop-color="#000" stop-opacity="0.25"/></linearGradient><linearGradient id="gDarkT" x1="0" y1="0" x2="0" y2="1"><stop offset="0" stop-color="#000" stop-opacity="0.25"/><stop offset="1" stop-color="#000" stop-opacity="0"/></linearGradient><filter id="bl1" x="-50%" y="-100%" width="200%" height="300%"><feGaussianBlur stdDeviation="1"/></filter><filter id="bl2" x="-50%" y="-100%" width="200%" height="300%"><feGaussianBlur stdDeviation="2"/></filter><filter id="bl3" x="-50%" y="-100%" width="200%" height="300%"><feGaussianBlur stdDeviation="3"/></filter><filter id="bl4" x="-50%" y="-100%" width="200%" height="300%"><feGaussianBlur stdDeviation="4"/></filter><filter id="bl6" x="-50%" y="-100%" width="200%" height="300%"><feGaussianBlur stdDeviation="6"/></filter><filter id="grain" x="0" y="0" width="100%" height="100%">
<feTurbulence type="fractalNoise" baseFrequency="0.16" numOctaves="3" seed="7" result="n"/>
<feColorMatrix in="n" type="matrix" values="0 0 0 0 0  0 0 0 0 0  0 0 0 0 0  0 0 0 1.3 -0.45"/>
<feGaussianBlur stdDeviation="0.9"/>
</filter><clipPath id="bc1"><rect x="62.75" y="824.6" width="167.75" height="38.39999999999998"/></clipPath><clipPath id="bc2"><rect x="62.75" y="866.9" width="167.75" height="39.80000000000007"/></clipPath><clipPath id="bc3"><rect x="62.75" y="910.6" width="167.75" height="39.799999999999955"/></clipPath><clipPath id="bc4"><rect x="535" y="755.6" width="137" height="52.69999999999993"/></clipPath><clipPath id="bc5"><rect x="535" y="812.8" width="137" height="43.0"/></clipPath><clipPath id="bc6"><rect x="533.5" y="863.8" width="137.5" height="55.700000000000045"/></clipPath><clipPath id="bc7"><rect x="533.5" y="924.6" width="137.5" height="45.89999999999998"/></clipPath><clipPath id="bc8"><rect x="959.6" y="790.9" width="159.80000000000007" height="63.60000000000002"/></clipPath><clipPath id="bc9"><rect x="1125.8" y="790.9" width="160.20000000000005" height="63.60000000000002"/></clipPath><clipPath id="bc10"><rect x="959.6" y="860" width="159.80000000000007" height="56.39999999999998"/></clipPath><clipPath id="bc11"><rect x="1125.8" y="860" width="160.20000000000005" height="56.39999999999998"/></clipPath><clipPath id="bc12"><rect x="959.6" y="920.6" width="159.80000000000007" height="62.39999999999998"/></clipPath><clipPath id="bc13"><rect x="1125.8" y="920.6" width="160.20000000000005" height="62.39999999999998"/></clipPath><clipPath id="bc14"><rect x="131.2" y="1968.2" width="201.5" height="63.200000000000045"/></clipPath><clipPath id="bc15"><rect x="336.7" y="1968.2" width="202.8" height="63.200000000000045"/></clipPath><clipPath id="bc16"><rect x="131.2" y="2038" width="201.5" height="42.30000000000018"/></clipPath><clipPath id="bc17"><rect x="336.7" y="2038" width="202.8" height="42.30000000000018"/></clipPath><clipPath id="bc18"><rect x="131.2" y="2085.3" width="201.5" height="65.0"/></clipPath><clipPath id="bc19"><rect x="336.7" y="2085.3" width="202.8" height="65.0"/></clipPath><clipPath id="bc20"><rect x="131.2" y="2155.6" width="201.5" height="40.0"/></clipPath><clipPath id="bc21"><rect x="336.7" y="2155.6" width="202.8" height="40.0"/></clipPath><clipPath id="bc22"><rect x="131.2" y="2214.8" width="201.5" height="37.29999999999973"/></clipPath><clipPath id="bc23"><rect x="336.7" y="2214.8" width="202.8" height="37.29999999999973"/></clipPath><clipPath id="bc24"><rect x="131.2" y="2260.1" width="201.5" height="49.90000000000009"/></clipPath><clipPath id="bc25"><rect x="336.7" y="2260.1" width="202.8" height="49.90000000000009"/></clipPath><clipPath id="bc26"><rect x="131.2" y="2325.5" width="201.5" height="49.40000000000009"/></clipPath><clipPath id="bc27"><rect x="336.7" y="2325.5" width="202.8" height="49.40000000000009"/></clipPath><clipPath id="bc28"><rect x="131.2" y="2381.1" width="201.5" height="57.80000000000018"/></clipPath><clipPath id="bc29"><rect x="336.7" y="2381.1" width="202.8" height="57.80000000000018"/></clipPath><clipPath id="bc30"><rect x="131.2" y="2444.7" width="201.5" height="50.30000000000018"/></clipPath><clipPath id="bc31"><rect x="336.7" y="2444.7" width="202.8" height="50.30000000000018"/></clipPath></defs>
<rect width="1489" height="2497" fill="#fff"/>
<text x="1.00" y="51.00" font-size="64.00" textLength="39.97" lengthAdjust="spacingAndGlyphs">A</text>
<line x1="222.10" y1="49.80" x2="222.10" y2="302.40" stroke="#000" stroke-width="2.8" stroke-linecap="butt"/>
<line x1="213.00" y1="301.00" x2="475.00" y2="301.00" stroke="#000" stroke-width="2.8"/>
<line x1="213.10" y1="50.00" x2="222.10" y2="50.00" stroke="#000" stroke-width="2.8"/>
<line x1="213.10" y1="100.20" x2="222.10" y2="100.20" stroke="#000" stroke-width="2.8"/>
<line x1="213.10" y1="150.40" x2="222.10" y2="150.40" stroke="#000" stroke-width="2.8"/>
<line x1="213.10" y1="200.60" x2="222.10" y2="200.60" stroke="#000" stroke-width="2.8"/>
<line x1="213.10" y1="250.80" x2="222.10" y2="250.80" stroke="#000" stroke-width="2.8"/>
<line x1="213.10" y1="301.00" x2="222.10" y2="301.00" stroke="#000" stroke-width="2.8"/>
<line x1="245.70" y1="301.00" x2="245.70" y2="311.00" stroke="#000" stroke-width="2.8"/>
<line x1="296.60" y1="301.00" x2="296.60" y2="311.00" stroke="#000" stroke-width="2.8"/>
<line x1="347.80" y1="301.00" x2="347.80" y2="311.00" stroke="#000" stroke-width="2.8"/>
<line x1="397.90" y1="301.00" x2="397.90" y2="311.00" stroke="#000" stroke-width="2.8"/>
<line x1="448.40" y1="301.00" x2="448.40" y2="311.00" stroke="#000" stroke-width="2.8"/>
<line x1="236.60" y1="274.60" x2="236.60" y2="265.50" stroke="#000" stroke-width="2.9"/>
<line x1="232.30" y1="265.50" x2="240.90" y2="265.50" stroke="#000" stroke-width="3.3"/>
<rect x="227.50" y="273.60" width="18.20" height="27.40" fill="#000"/>
<line x1="257.80" y1="232.10" x2="257.80" y2="190.70" stroke="#000" stroke-width="2.9"/>
<line x1="253.50" y1="190.70" x2="262.10" y2="190.70" stroke="#000" stroke-width="3.3"/>
<rect x="250.00" y="232.40" width="15.60" height="67.30" fill="#fff" stroke="#000" stroke-width="2.6"/>
<line x1="287.50" y1="275.20" x2="287.50" y2="268.00" stroke="#000" stroke-width="2.9"/>
<line x1="283.20" y1="268.00" x2="291.80" y2="268.00" stroke="#000" stroke-width="3.3"/>
<rect x="278.40" y="274.20" width="18.20" height="26.80" fill="#000"/>
<line x1="308.70" y1="267.10" x2="308.70" y2="254.00" stroke="#000" stroke-width="2.9"/>
<line x1="304.40" y1="254.00" x2="313.00" y2="254.00" stroke="#000" stroke-width="3.3"/>
<rect x="300.90" y="267.40" width="15.60" height="32.30" fill="#fff" stroke="#000" stroke-width="2.6"/>
<line x1="338.70" y1="276.60" x2="338.70" y2="272.60" stroke="#000" stroke-width="2.9"/>
<line x1="334.40" y1="272.60" x2="343.00" y2="272.60" stroke="#000" stroke-width="3.3"/>
<rect x="329.60" y="275.60" width="18.20" height="25.40" fill="#000"/>
<line x1="359.90" y1="232.50" x2="359.90" y2="230.00" stroke="#000" stroke-width="2.9"/>
<line x1="355.60" y1="230.00" x2="364.20" y2="230.00" stroke="#000" stroke-width="3.3"/>
<rect x="352.10" y="232.80" width="15.60" height="66.90" fill="#fff" stroke="#000" stroke-width="2.6"/>
<line x1="388.80" y1="275.60" x2="388.80" y2="268.50" stroke="#000" stroke-width="2.9"/>
<line x1="384.50" y1="268.50" x2="393.10" y2="268.50" stroke="#000" stroke-width="3.3"/>
<rect x="379.70" y="274.60" width="18.20" height="26.40" fill="#000"/>
<line x1="410.00" y1="231.10" x2="410.00" y2="214.40" stroke="#000" stroke-width="2.9"/>
<line x1="405.70" y1="214.40" x2="414.30" y2="214.40" stroke="#000" stroke-width="3.3"/>
<rect x="402.20" y="231.40" width="15.60" height="68.30" fill="#fff" stroke="#000" stroke-width="2.6"/>
<line x1="439.30" y1="276.60" x2="439.30" y2="273.60" stroke="#000" stroke-width="2.9"/>
<line x1="435.00" y1="273.60" x2="443.60" y2="273.60" stroke="#000" stroke-width="3.3"/>
<rect x="430.20" y="275.60" width="18.20" height="25.40" fill="#000"/>
<line x1="460.50" y1="136.50" x2="460.50" y2="67.80" stroke="#000" stroke-width="2.9"/>
<line x1="456.20" y1="67.80" x2="464.80" y2="67.80" stroke="#000" stroke-width="3.3"/>
<rect x="452.70" y="136.80" width="15.60" height="162.90" fill="#fff" stroke="#000" stroke-width="2.6"/>
<text x="176.78" y="60.10" font-size="28.60" font-weight="bold">10</text>
<text x="192.73" y="110.30" font-size="28.60" font-weight="bold">8</text>
<text x="192.73" y="160.50" font-size="28.60" font-weight="bold">6</text>
<text x="192.73" y="210.70" font-size="28.60" font-weight="bold">4</text>
<text x="192.73" y="260.90" font-size="28.60" font-weight="bold">2</text>
<text x="192.73" y="311.10" font-size="28.60" font-weight="bold">0</text>
<text x="0.00" y="0.00" font-size="28.63" font-weight="bold" textLength="251.58" lengthAdjust="spacingAndGlyphs" transform="translate(130.76,297.60) rotate(-90)">mRNA expression</text>
<text x="0.00" y="0.00" font-size="29.12" font-weight="bold" textLength="177.00" lengthAdjust="spacingAndGlyphs" transform="translate(165.81,261.00) rotate(-90)">(fold change)</text>
<text x="444.80" y="50.83" font-size="20.59" fill="#111" textLength="27.29" lengthAdjust="spacingAndGlyphs">(4)</text>
<text x="294.20" y="239.78" font-size="21.77" fill="#111" textLength="27.29" lengthAdjust="spacingAndGlyphs">(4)</text>
<text x="345.80" y="215.51" font-size="21.66" fill="#111" textLength="27.19" lengthAdjust="spacingAndGlyphs">(2)</text>
<text x="352.48" y="199.07" font-size="35.00">*</text>
<text x="402.57" y="216.88" font-size="35.00">*</text>
<text x="0.00" y="0.00" font-size="24.15" font-weight="bold" transform="translate(200.54,377.19) rotate(-45)">SNAI1</text>
<text x="0.00" y="0.00" font-size="24.46" font-weight="bold" transform="translate(251.31,377.99) rotate(-45)">SNAI2</text>
<text x="0.00" y="0.00" font-size="24.09" font-weight="bold" transform="translate(288.49,389.74) rotate(-45)">TWIST1</text>
<text x="0.00" y="0.00" font-size="24.03" font-weight="bold" transform="translate(358.35,370.85) rotate(-45)">ZEB1</text>
<text x="0.00" y="0.00" font-size="24.37" font-weight="bold" transform="translate(409.30,371.47) rotate(-45)">ZEB2</text>
<rect x="201.20" y="411.70" width="37.00" height="22.30" fill="#000"/>
<rect x="202.40" y="449.90" width="34.60" height="19.40" fill="#fff" stroke="#000" stroke-width="2.4"/>
<text x="256.40" y="431.53" font-size="26.53" textLength="42.91" lengthAdjust="spacingAndGlyphs">Ctrl</text>
<text x="256.40" y="468.92" font-size="27.89" textLength="213.62" lengthAdjust="spacingAndGlyphs">F508del/F508del</text>
<text x="622.80" y="51.00" font-size="61.09" textLength="35.17" lengthAdjust="spacingAndGlyphs">B</text>
<text x="837.50" y="26.08" font-size="28.53" fill="#ff0452" textLength="159.07" lengthAdjust="spacingAndGlyphs">Snail+Slug</text>
<text x="1110.40" y="24.70" font-size="33.60" fill="#ff0452" textLength="80.63" lengthAdjust="spacingAndGlyphs">ZEB1</text>
<text x="0.00" y="0.00" font-size="33.74" textLength="47.51" lengthAdjust="spacingAndGlyphs" transform="translate(778.46,172.50) rotate(-90)">Ctrl</text>
<text x="0.00" y="0.00" font-size="34.63" textLength="45.02" lengthAdjust="spacingAndGlyphs" transform="translate(778.25,407.20) rotate(-90)">CF</text>
<g clip-path="url(#clipTL)"><g filter="url(#soft)">
<rect x="789.30" y="31.00" width="238.40" height="238.00" fill="#030006"/>
<path d="M780.0,25.0 L858.0,25.0 L850.0,60.0 L845.0,100.0 L848.0,130.0 L835.0,165.0 L815.0,200.0 L808.0,235.0 L810.0,275.0 L780.0,275.0 Z" fill="#0e0050" filter="url(#mb5)"/>
<path d="M780.0,25.0 L858.0,25.0 L850.0,60.0 L845.0,100.0 L848.0,130.0 L835.0,165.0 L815.0,200.0 L808.0,235.0 L810.0,275.0 L780.0,275.0 Z" fill="url(#pStreak)"/>
<path d="M780.0,195.0 L812.0,200.0 L806.0,275.0 L780.0,275.0 Z" fill="#2804e0" filter="url(#mb8)" opacity="0.35"/>
<path d="M852.0,25.0 L880.0,25.0 L868.0,80.0 L870.0,115.0 L893.0,150.0 L888.0,180.0 L840.0,200.0 L828.0,240.0 L832.0,275.0 L808.0,275.0 L815.0,200.0 L835.0,165.0 L848.0,130.0 L845.0,100.0 Z" fill="#0a0030" filter="url(#mb5)" opacity="0.6"/>
<path d="M877.0,25.0 L937.0,25.0 L932.0,60.0 L925.0,90.0 L935.0,115.0 L955.0,125.0 L968.0,140.0 L972.0,165.0 L965.0,190.0 L945.0,205.0 L925.0,225.0 L919.0,267.0 L919.0,275.0 L835.0,275.0 L828.0,240.0 L835.0,205.0 L858.0,190.0 L888.0,178.0 L892.0,150.0 L878.0,130.0 L866.0,111.0 L866.0,78.0 L872.0,50.0 Z" fill="#0e0040" filter="url(#mb3)"/>
<path d="M877.0,25.0 L937.0,25.0 L932.0,60.0 L925.0,90.0 L935.0,115.0 L955.0,125.0 L968.0,140.0 L972.0,165.0 L965.0,190.0 L945.0,205.0 L925.0,225.0 L919.0,267.0 L919.0,275.0 L835.0,275.0 L828.0,240.0 L835.0,205.0 L858.0,190.0 L888.0,178.0 L892.0,150.0 L878.0,130.0 L866.0,111.0 L866.0,78.0 L872.0,50.0 Z" fill="url(#pEpiB)"/>
<ellipse cx="946" cy="131" rx="4.6" ry="3.9" transform="rotate(67 946 131)" fill="#3a03c8" fill-opacity="0.76"/><ellipse cx="958" cy="128" rx="5.6" ry="3.3" transform="rotate(2 958 128)" fill="#3a03c8" fill-opacity="0.84"/><ellipse cx="975" cy="127" rx="4.6" ry="3.5" transform="rotate(179 975 127)" fill="#3a03c8" fill-opacity="0.71"/><ellipse cx="990" cy="130" rx="6.1" ry="3.8" transform="rotate(115 990 130)" fill="#3a03c8" fill-opacity="0.60"/><ellipse cx="1000" cy="127" rx="5.6" ry="4.3" transform="rotate(94 1000 127)" fill="#3a03c8" fill-opacity="0.81"/><ellipse cx="985" cy="142" rx="5.7" ry="3.3" transform="rotate(136 985 142)" fill="#3a03c8" fill-opacity="0.76"/><ellipse cx="970" cy="150" rx="4.8" ry="3.2" transform="rotate(156 970 150)" fill="#3a03c8" fill-opacity="0.72"/><ellipse cx="996" cy="155" rx="5.8" ry="4.3" transform="rotate(129 996 155)" fill="#3a03c8" fill-opacity="0.87"/><ellipse cx="980" cy="165" rx="5.0" ry="4.2" transform="rotate(80 980 165)" fill="#3a03c8" fill-opacity="0.88"/><ellipse cx="960" cy="172" rx="6.2" ry="3.3" transform="rotate(24 960 172)" fill="#3a03c8" fill-opacity="0.63"/><ellipse cx="975" cy="180" rx="6.4" ry="3.8" transform="rotate(113 975 180)" fill="#3a03c8" fill-opacity="0.66"/><ellipse cx="992" cy="178" rx="5.3" ry="3.7" transform="rotate(63 992 178)" fill="#3a03c8" fill-opacity="0.75"/><ellipse cx="962" cy="190" rx="5.5" ry="4.4" transform="rotate(123 962 190)" fill="#3a03c8" fill-opacity="0.88"/><ellipse cx="978" cy="196" rx="6.1" ry="4.5" transform="rotate(121 978 196)" fill="#3a03c8" fill-opacity="0.61"/><ellipse cx="950" cy="203" rx="6.2" ry="4.5" transform="rotate(163 950 203)" fill="#3a03c8" fill-opacity="0.75"/><ellipse cx="985" cy="205" rx="5.8" ry="3.5" transform="rotate(150 985 205)" fill="#3a03c8" fill-opacity="0.75"/><ellipse cx="965" cy="212" rx="4.7" ry="3.3" transform="rotate(154 965 212)" fill="#3a03c8" fill-opacity="0.90"/><ellipse cx="945" cy="220" rx="4.2" ry="4.2" transform="rotate(74 945 220)" fill="#3a03c8" fill-opacity="0.60"/><ellipse cx="955" cy="228" rx="4.7" ry="4.2" transform="rotate(157 955 228)" fill="#3a03c8" fill-opacity="0.57"/>
</g></g>
<g clip-path="url(#clipTR)"><g filter="url(#soft)">
<rect x="1033.50" y="31.00" width="237.10" height="238.00" fill="#0c000c"/>
<path d="M1025.0,25.0 L1067.0,25.0 L1068.0,100.0 L1075.0,175.0 L1098.0,266.0 L1098.0,275.0 L1025.0,275.0 Z" fill="#300040" filter="url(#mb4)"/>
<path d="M1025.0,25.0 L1067.0,25.0 L1068.0,100.0 L1075.0,175.0 L1098.0,266.0 L1098.0,275.0 L1025.0,275.0 Z" fill="url(#pMag)"/>
<path d="M1036.0,90.0 L1062.0,100.0 L1072.0,175.0 L1095.0,265.0 L1040.0,275.0 L1036.0,275.0 Z" fill="url(#pNucB)"/>
<path d="M1067.0,25.0 L1098.0,25.0 L1091.0,111.0 L1107.0,150.0 L1117.0,176.0 L1135.0,266.0 L1135.0,275.0 L1098.0,275.0 L1075.0,175.0 L1068.0,100.0 Z" fill="#48014a" filter="url(#mb3)"/>
<path d="M1098.0,25.0 L1166.0,25.0 L1175.0,111.0 L1198.0,176.0 L1201.0,266.0 L1201.0,275.0 L1135.0,275.0 L1117.0,176.0 L1091.0,111.0 Z" fill="#2a006a" filter="url(#mb3)"/>
<path d="M1098.0,25.0 L1166.0,25.0 L1175.0,111.0 L1198.0,176.0 L1201.0,266.0 L1201.0,275.0 L1135.0,275.0 L1117.0,176.0 L1091.0,111.0 Z" fill="url(#pEpiB2)"/>
<path d="M1160.0,25.0 L1168.0,25.0 L1178.0,111.0 L1200.0,176.0 L1203.0,275.0 L1195.0,275.0 L1192.0,176.0 L1170.0,111.0 Z" fill="#a002a0" filter="url(#mb5)" opacity="0.35"/>
<path d="M1232.0,245.0 L1247.0,244.0 L1249.0,262.0 L1232.0,262.0 Z" fill="#3002a0" filter="url(#mb3)" opacity="0.6"/>
</g></g>
<g clip-path="url(#clipBL)"><g filter="url(#soft)">
<rect x="789.30" y="272.00" width="236.70" height="238.00" fill="#06000a"/>
<path d="M780.0,266.0 L863.0,266.0 L851.0,351.0 L850.0,383.0 L866.0,432.0 L880.6,515.0 L780.0,515.0 Z" fill="#06002c" filter="url(#mb5)"/>
<path d="M780.0,266.0 L863.0,266.0 L851.0,351.0 L850.0,383.0 L866.0,432.0 L880.6,515.0 L780.0,515.0 Z" fill="url(#pNucB)"/>
<path d="M877.0,266.0 L947.0,266.0 L951.7,318.5 L968.0,367.0 L968.0,399.0 L951.7,431.7 L960.0,464.0 L964.7,515.0 L890.0,515.0 L887.0,464.0 L884.0,431.7 L852.0,399.0 L851.5,367.0 L877.0,318.5 Z" fill="#1c0048" filter="url(#mb3)"/>
<path d="M877.0,266.0 L947.0,266.0 L951.7,318.5 L968.0,367.0 L968.0,399.0 L951.7,431.7 L960.0,464.0 L964.7,515.0 L890.0,515.0 L887.0,464.0 L884.0,431.7 L852.0,399.0 L851.5,367.0 L877.0,318.5 Z" fill="url(#pEpiP)"/>
<path d="M877.0,266.0 L947.0,266.0 L951.7,318.5 L968.0,367.0 L968.0,399.0 L951.7,431.7 L960.0,464.0 L964.7,515.0 L890.0,515.0 L887.0,464.0 L884.0,431.7 L852.0,399.0 L851.5,367.0 L877.0,318.5 Z" fill="#d002c0" filter="url(#mb6)" opacity="0.12"/>
<path d="M955.0,266.0 L1030.0,266.0 L1030.0,515.0 L966.0,515.0 L962.0,464.0 L955.0,431.7 L972.0,399.0 L972.0,367.0 L955.0,318.5 Z" fill="#120020" filter="url(#mb8)" opacity="0.8"/>
<ellipse cx="984" cy="364" rx="11" ry="9" fill="#3a03c0" filter="url(#mb3)" opacity="0.6"/>
<ellipse cx="993" cy="442" rx="12" ry="8" fill="#3a03c8" filter="url(#mb3)" opacity="0.6"/>
<ellipse cx="1000" cy="426" rx="8" ry="7" fill="#40016a" filter="url(#mb3)" opacity="0.6"/>
<ellipse cx="1010" cy="360" rx="10" ry="20" fill="#14003a" filter="url(#mb3)" opacity="0.6"/>
<ellipse cx="1016" cy="318" rx="4" ry="4" fill="#ff05ff" filter="url(#mb3)" opacity="0.6"/>
<ellipse cx="1022" cy="480" rx="9" ry="10" fill="#3002a0" filter="url(#mb3)" opacity="0.6"/>
</g></g>
<g clip-path="url(#clipBR)"><g filter="url(#soft)">
<rect x="1033.50" y="271.50" width="237.10" height="238.50" fill="#0c000d"/>
<path d="M1025.0,266.0 L1098.0,266.0 L1091.5,334.7 L1078.5,383.0 L1102.8,431.7 L1127.0,515.0 L1025.0,515.0 Z" fill="#12003c" filter="url(#mb5)"/>
<path d="M1025.0,266.0 L1098.0,266.0 L1091.5,334.7 L1078.5,383.0 L1102.8,431.7 L1127.0,515.0 L1025.0,515.0 Z" fill="url(#pNucBR)"/>
<path d="M1025.0,430.0 L1070.0,430.0 L1080.0,470.0 L1090.0,515.0 L1025.0,515.0 Z" fill="#e003d0" filter="url(#mb6)" opacity="0.75"/>
<path d="M1098.0,266.0 L1115.7,266.0 L1114.0,334.7 L1124.0,383.0 L1135.0,431.7 L1156.0,515.0 L1127.0,515.0 L1102.8,431.7 L1078.5,383.0 L1091.5,334.7 Z" fill="#32002f" filter="url(#mb3)"/>
<path d="M1115.7,266.0 L1195.0,266.0 L1204.7,334.7 L1201.4,383.0 L1212.8,431.7 L1208.0,515.0 L1156.0,515.0 L1135.0,431.7 L1124.0,383.0 L1114.0,334.7 Z" fill="#4a03c8" filter="url(#mb4)"/>
<path d="M1115.7,266.0 L1195.0,266.0 L1204.7,334.7 L1201.4,383.0 L1212.8,431.7 L1208.0,515.0 L1156.0,515.0 L1135.0,431.7 L1124.0,383.0 L1114.0,334.7 Z" fill="url(#pEpiV)"/>
<path d="M1188.0,266.0 L1197.0,266.0 L1206.0,334.7 L1203.0,383.0 L1214.0,431.7 L1210.0,515.0 L1200.0,515.0 L1204.0,431.7 L1193.0,383.0 L1196.0,334.7 Z" fill="#c003b8" filter="url(#mb5)" opacity="0.4"/>
<ellipse cx="1210" cy="328" rx="9" ry="11" fill="#3002b0" filter="url(#mb3)" opacity="0.8"/>
<ellipse cx="1225" cy="376" rx="14" ry="18" fill="#3002b0" filter="url(#mb3)" opacity="0.8"/>
<ellipse cx="1246" cy="404" rx="12" ry="9" fill="#3002b0" filter="url(#mb3)" opacity="0.8"/>
<ellipse cx="1230" cy="348" rx="6" ry="5" fill="#6a0160" filter="url(#mb3)" opacity="0.8"/>
</g></g>
<text x="800.40" y="252.30" font-size="24.44" font-weight="bold" fill="#fff" textLength="18.29" lengthAdjust="spacingAndGlyphs">B</text>
<text x="995.50" y="256.20" font-size="29.38" font-weight="bold" fill="#fff" textLength="18.79" lengthAdjust="spacingAndGlyphs">A</text>
<text x="802.00" y="495.00" font-size="24.73" font-weight="bold" fill="#fff" textLength="17.99" lengthAdjust="spacingAndGlyphs">B</text>
<text x="995.50" y="497.00" font-size="29.09" font-weight="bold" fill="#fff" textLength="18.79" lengthAdjust="spacingAndGlyphs">A</text>
<rect x="1214.00" y="493.60" width="39.70" height="4.60" fill="#fff"/>
<text x="3.40" y="595.00" font-size="59.51" textLength="39.58" lengthAdjust="spacingAndGlyphs">C</text>
<text x="0.00" y="0.00" font-size="30.50" font-weight="bold" textLength="125.40" lengthAdjust="spacingAndGlyphs" transform="translate(101.06,816.18) rotate(-50)">HBE Ctrl</text>
<text x="0.00" y="0.00" font-size="30.50" font-weight="bold" textLength="64.40" lengthAdjust="spacingAndGlyphs" transform="translate(179.35,794.79) rotate(-50)">HBE</text>
<text x="0.00" y="0.00" font-size="30.50" font-weight="bold" textLength="249.28" lengthAdjust="spacingAndGlyphs" transform="translate(208.66,818.96) rotate(-50)">R347P/711+5G&gt;A</text>
<g clip-path="url(#bc1)">
<rect x="62.75" y="824.60" width="167.75" height="38.40" fill="#a8a8a8"/>
<rect x="62.75" y="824.6" width="167.75" height="38.39999999999998" filter="url(#grain)" opacity="0.25"/>
<rect x="84.8" y="844.3" width="10.0" height="8.0" rx="4.0" fill="#000" fill-opacity="0.85" filter="url(#bl2)"/>
<rect x="158.0" y="843.0" width="52.0" height="10.0" rx="5.0" fill="#000" fill-opacity="0.75" filter="url(#bl3)"/>
<rect x="186.0" y="843.5" width="20.0" height="9.0" rx="4.5" fill="#000" fill-opacity="0.5" filter="url(#bl2)"/>
<rect x="135.0" y="847.0" width="30.0" height="6.0" rx="3.0" fill="#000" fill-opacity="0.15" filter="url(#bl3)"/>
</g>
<rect x="64.00" y="825.85" width="165.25" height="35.90" fill="none" stroke="#000" stroke-width="2.5"/>
<g clip-path="url(#bc2)">
<rect x="62.75" y="866.90" width="167.75" height="39.80" fill="#d4d4d4"/>
<rect x="62.75" y="866.9" width="167.75" height="39.80000000000007" filter="url(#grain)" opacity="0.17"/>
<rect x="82.0" y="882.5" width="52.0" height="13.0" rx="5.0" fill="#000" fill-opacity="0.6" filter="url(#bl4)"/>
<rect x="159.0" y="885.0" width="54.0" height="14.0" rx="5.0" fill="#000" fill-opacity="0.9" filter="url(#bl3)"/>
</g>
<rect x="64.00" y="868.15" width="165.25" height="37.30" fill="none" stroke="#000" stroke-width="2.5"/>
<g clip-path="url(#bc3)">
<rect x="62.75" y="910.60" width="167.75" height="39.80" fill="#e4e4e4"/>
<rect x="62.75" y="910.6" width="167.75" height="39.799999999999955" filter="url(#grain)" opacity="0.14"/>
<rect x="85.0" y="928.0" width="58.0" height="9.0" rx="4.5" fill="#000" fill-opacity="0.95" filter="url(#bl2)"/>
<rect x="83.5" y="926.5" width="9.0" height="9.0" rx="4.5" fill="#000" fill-opacity="1.0" filter="url(#bl2)"/>
<rect x="145.0" y="927.5" width="50.0" height="9.0" rx="4.5" fill="#000" fill-opacity="0.9" filter="url(#bl2)"/>
<rect x="189.0" y="930.0" width="22.0" height="6.0" rx="3.0" fill="#000" fill-opacity="0.6" filter="url(#bl2)"/>
</g>
<rect x="64.00" y="911.85" width="165.25" height="37.30" fill="none" stroke="#000" stroke-width="2.5"/>
<text x="8.90" y="841.27" font-size="22.76" font-weight="bold" textLength="21.80" lengthAdjust="spacingAndGlyphs">25</text>
<line x1="39.60" y1="834.00" x2="55.80" y2="834.00" stroke="#000" stroke-width="1.5"/>
<text x="10.00" y="907.57" font-size="22.76" font-weight="bold" textLength="21.50" lengthAdjust="spacingAndGlyphs">25</text>
<line x1="40.40" y1="900.60" x2="55.80" y2="900.60" stroke="#000" stroke-width="1.5"/>
<text x="240.00" y="858.08" font-size="31.94" font-weight="bold" textLength="106.97" lengthAdjust="spacingAndGlyphs">TWIST1</text>
<text x="240.00" y="900.56" font-size="30.29" font-weight="bold" textLength="154.01" lengthAdjust="spacingAndGlyphs">Snail+Slug</text>
<text x="240.00" y="946.67" font-size="32.51" font-weight="bold" textLength="106.97" lengthAdjust="spacingAndGlyphs">GAPDH</text>
<text x="476.30" y="596.30" font-size="62.55" textLength="37.98" lengthAdjust="spacingAndGlyphs">D</text>
<text x="0.00" y="0.00" font-size="28.40" font-weight="bold" textLength="220.10" lengthAdjust="spacingAndGlyphs" transform="translate(569.93,743.19) rotate(-50)">CFBE wt-CFTR</text>
<text x="0.00" y="0.00" font-size="28.40" font-weight="bold" textLength="79.63" lengthAdjust="spacingAndGlyphs" transform="translate(623.47,727.42) rotate(-50)">CFBE</text>
<text x="0.00" y="0.00" font-size="28.40" font-weight="bold" textLength="208.13" lengthAdjust="spacingAndGlyphs" transform="translate(650.40,750.90) rotate(-50)">F508del-CFTR</text>
<g clip-path="url(#bc4)">
<rect x="535.00" y="755.60" width="137.00" height="52.70" fill="#aaaaaa"/>
<rect x="535" y="755.6" width="137" height="52.69999999999993" filter="url(#grain)" opacity="0.25"/>
<rect x="543.0" y="775.0" width="48.0" height="14.0" rx="5.0" fill="#000" fill-opacity="0.3" filter="url(#bl4)"/>
<rect x="605.0" y="773.0" width="56.0" height="16.0" rx="5.0" fill="#000" fill-opacity="0.85" filter="url(#bl3)"/>
<rect x="636.0" y="775.0" width="24.0" height="14.0" rx="5.0" fill="#000" fill-opacity="0.6" filter="url(#bl3)"/>
</g>
<rect x="536.25" y="756.85" width="134.50" height="50.20" fill="none" stroke="#000" stroke-width="2.5"/>
<g clip-path="url(#bc5)">
<rect x="535.00" y="812.80" width="137.00" height="43.00" fill="#d8d8d8"/>
<rect x="535" y="812.8" width="137" height="43.0" filter="url(#grain)" opacity="0.17"/>
<rect x="539.0" y="827.5" width="52.0" height="13.0" rx="5.0" fill="#000" fill-opacity="1.0" filter="url(#bl3)"/>
<rect x="596.0" y="825.0" width="62.0" height="17.0" rx="5.0" fill="#000" fill-opacity="1.0" filter="url(#bl3)"/>
</g>
<rect x="536.25" y="814.05" width="134.50" height="40.50" fill="none" stroke="#000" stroke-width="2.5"/>
<g clip-path="url(#bc6)">
<rect x="533.50" y="863.80" width="137.50" height="55.70" fill="#cacaca"/>
<rect x="533.5" y="863.8" width="137.5" height="55.700000000000045" filter="url(#grain)" opacity="0.22"/>
<rect x="542.0" y="883.5" width="52.0" height="10.0" rx="5.0" fill="#000" fill-opacity="0.95" filter="url(#bl3)"/>
<rect x="604.0" y="884.0" width="46.0" height="9.0" rx="4.5" fill="#000" fill-opacity="0.8" filter="url(#bl3)"/>
</g>
<rect x="534.75" y="865.05" width="135.00" height="53.20" fill="none" stroke="#000" stroke-width="2.5"/>
<g clip-path="url(#bc7)">
<rect x="533.50" y="924.60" width="137.50" height="45.90" fill="#d4d4d4"/>
<rect x="533.5" y="924.6" width="137.5" height="45.89999999999998" filter="url(#grain)" opacity="0.19"/>
<rect x="538.0" y="944.5" width="54.0" height="11.0" rx="5.0" fill="#000" fill-opacity="0.8" filter="url(#bl3)"/>
<rect x="596.0" y="940.5" width="62.0" height="18.0" rx="5.0" fill="#000" fill-opacity="1.0" filter="url(#bl3)"/>
</g>
<rect x="534.75" y="925.85" width="135.00" height="43.40" fill="none" stroke="#000" stroke-width="2.5"/>
<text x="478.40" y="796.27" font-size="23.32" font-weight="bold" textLength="22.60" lengthAdjust="spacingAndGlyphs">25</text>
<line x1="509.00" y1="787.00" x2="530.00" y2="787.00" stroke="#000" stroke-width="1.5"/>
<text x="478.40" y="920.78" font-size="22.19" font-weight="bold" textLength="22.60" lengthAdjust="spacingAndGlyphs">25</text>
<line x1="509.00" y1="911.50" x2="530.00" y2="911.50" stroke="#000" stroke-width="1.5"/>
<text x="683.90" y="791.69" font-size="31.38" font-weight="bold" textLength="104.57" lengthAdjust="spacingAndGlyphs">TWIST1</text>
<text x="683.90" y="844.49" font-size="31.43" font-weight="bold" textLength="60.74" lengthAdjust="spacingAndGlyphs">Tub.</text>
<text x="681.80" y="896.99" font-size="28.27" font-weight="bold" textLength="154.21" lengthAdjust="spacingAndGlyphs">Snail+Slug</text>
<text x="683.90" y="956.29" font-size="30.75" font-weight="bold" textLength="72.60" lengthAdjust="spacingAndGlyphs">Caln.</text>
<text x="883.30" y="595.10" font-size="58.62" textLength="33.87" lengthAdjust="spacingAndGlyphs">E</text>
<text x="1002.00" y="582.10" font-size="29.96" font-weight="bold" textLength="82.59" lengthAdjust="spacingAndGlyphs">CFBE</text>
<text x="983.05" y="620.17" font-size="32.93" font-weight="bold" textLength="121.95" lengthAdjust="spacingAndGlyphs">wt-CFTR</text>
<line x1="970.20" y1="635.40" x2="1100.70" y2="635.40" stroke="#000" stroke-width="1.6"/>
<text x="1194.80" y="582.10" font-size="29.96" font-weight="bold" textLength="80.59" lengthAdjust="spacingAndGlyphs">CFBE</text>
<text x="1133.40" y="620.18" font-size="31.70" font-weight="bold" textLength="202.23" lengthAdjust="spacingAndGlyphs">F508del-CFTR</text>
<line x1="1161.00" y1="636.60" x2="1290.20" y2="636.60" stroke="#000" stroke-width="1.6"/>
<text x="0.00" y="0.00" font-size="28.00" font-weight="bold" textLength="80.64" lengthAdjust="spacingAndGlyphs" transform="translate(987.95,783.89) rotate(-53)">DMSO</text>
<text x="0.00" y="0.00" font-size="28.00" font-weight="bold" textLength="141.25" lengthAdjust="spacingAndGlyphs" transform="translate(1035.87,786.50) rotate(-53)">VX445+661</text>
<text x="0.00" y="0.00" font-size="28.00" font-weight="bold" textLength="142.73" lengthAdjust="spacingAndGlyphs" transform="translate(1084.56,770.30) rotate(-53)">VX445+661</text>
<text x="0.00" y="0.00" font-size="28.00" font-weight="bold" textLength="63.07" lengthAdjust="spacingAndGlyphs" transform="translate(1110.53,791.16) rotate(-53)">+770</text>
<text x="0.00" y="0.00" font-size="28.00" font-weight="bold" textLength="78.96" lengthAdjust="spacingAndGlyphs" transform="translate(1153.68,784.48) rotate(-53)">DMSO</text>
<text x="0.00" y="0.00" font-size="28.00" font-weight="bold" textLength="141.25" lengthAdjust="spacingAndGlyphs" transform="translate(1200.37,787.10) rotate(-53)">VX445+661</text>
<text x="0.00" y="0.00" font-size="28.00" font-weight="bold" textLength="142.73" lengthAdjust="spacingAndGlyphs" transform="translate(1250.41,771.60) rotate(-53)">VX445+661</text>
<text x="0.00" y="0.00" font-size="28.00" font-weight="bold" textLength="59.29" lengthAdjust="spacingAndGlyphs" transform="translate(1276.22,791.60) rotate(-53)">+770</text>
<g clip-path="url(#bc8)">
<rect x="959.60" y="790.90" width="159.80" height="63.60" fill="#b4b4b4"/>
<rect x="959.6" y="790.9" width="159.80000000000007" height="63.60000000000002" filter="url(#grain)" opacity="0.25"/>
<rect x="970.0" y="816.5" width="40.0" height="8.0" rx="4.0" fill="#000" fill-opacity="0.75" filter="url(#bl2)"/>
<rect x="964.0" y="810.0" width="4.0" height="4.0" rx="2.0" fill="#000" fill-opacity="0.7" filter="url(#bl1)"/>
<rect x="1018.0" y="818.0" width="30.0" height="6.0" rx="3.0" fill="#000" fill-opacity="0.35" filter="url(#bl2)"/>
<rect x="1059.0" y="817.5" width="32.0" height="7.0" rx="3.5" fill="#000" fill-opacity="0.35" filter="url(#bl2)"/>
</g>
<rect x="960.85" y="792.15" width="157.30" height="61.10" fill="none" stroke="#000" stroke-width="2.5"/>
<g clip-path="url(#bc9)">
<rect x="1125.80" y="790.90" width="160.20" height="63.60" fill="#b6b6b6"/>
<rect x="1125.8" y="790.9" width="160.20000000000005" height="63.60000000000002" filter="url(#grain)" opacity="0.25"/>
<rect x="1133.0" y="813.0" width="40.0" height="17.0" rx="5.0" fill="#000" fill-opacity="1.0" filter="url(#bl3)"/>
<rect x="1185.0" y="818.5" width="36.0" height="7.0" rx="3.5" fill="#000" fill-opacity="0.25" filter="url(#bl3)"/>
<rect x="1232.0" y="820.0" width="30.0" height="6.0" rx="3.0" fill="#000" fill-opacity="0.2" filter="url(#bl3)"/>
</g>
<rect x="1127.05" y="792.15" width="157.70" height="61.10" fill="none" stroke="#000" stroke-width="2.5"/>
<g clip-path="url(#bc10)">
<rect x="959.60" y="860.00" width="159.80" height="56.40" fill="#dcdcdc"/>
<rect x="959.6" y="860" width="159.80000000000007" height="56.39999999999998" filter="url(#grain)" opacity="0.17"/>
<rect x="971.0" y="890.0" width="38.0" height="8.0" rx="4.0" fill="#000" fill-opacity="0.75" filter="url(#bl2)"/>
<rect x="1018.0" y="891.0" width="38.0" height="8.0" rx="4.0" fill="#000" fill-opacity="0.75" filter="url(#bl2)"/>
<rect x="1069.0" y="884.0" width="40.0" height="8.0" rx="4.0" fill="#000" fill-opacity="0.7" filter="url(#bl2)"/>
</g>
<rect x="960.85" y="861.25" width="157.30" height="53.90" fill="none" stroke="#000" stroke-width="2.5"/>
<g clip-path="url(#bc11)">
<rect x="1125.80" y="860.00" width="160.20" height="56.40" fill="#dcdcdc"/>
<rect x="1125.8" y="860" width="160.20000000000005" height="56.39999999999998" filter="url(#grain)" opacity="0.17"/>
<rect x="1131.0" y="882.0" width="42.0" height="8.0" rx="4.0" fill="#000" fill-opacity="0.7" filter="url(#bl2)"/>
<rect x="1181.0" y="885.5" width="40.0" height="9.0" rx="4.5" fill="#000" fill-opacity="0.95" filter="url(#bl2)"/>
<rect x="1229.0" y="885.5" width="42.0" height="9.0" rx="4.5" fill="#000" fill-opacity="0.85" filter="url(#bl2)"/>
</g>
<rect x="1127.05" y="861.25" width="157.70" height="53.90" fill="none" stroke="#000" stroke-width="2.5"/>
<g clip-path="url(#bc12)">
<rect x="959.60" y="920.60" width="159.80" height="62.40" fill="#e4e4e4"/>
<rect x="959.6" y="920.6" width="159.80000000000007" height="62.39999999999998" filter="url(#grain)" opacity="0.14"/>
<rect x="967.0" y="949.0" width="40.0" height="8.0" rx="4.0" fill="#000" fill-opacity="0.95" filter="url(#bl2)"/>
<rect x="1018.0" y="949.0" width="40.0" height="8.0" rx="4.0" fill="#000" fill-opacity="0.95" filter="url(#bl2)"/>
<rect x="1069.0" y="949.0" width="40.0" height="8.0" rx="4.0" fill="#000" fill-opacity="0.95" filter="url(#bl2)"/>
</g>
<rect x="960.85" y="921.85" width="157.30" height="59.90" fill="none" stroke="#000" stroke-width="2.5"/>
<g clip-path="url(#bc13)">
<rect x="1125.80" y="920.60" width="160.20" height="62.40" fill="#e4e4e4"/>
<rect x="1125.8" y="920.6" width="160.20000000000005" height="62.39999999999998" filter="url(#grain)" opacity="0.14"/>
<rect x="1130.0" y="949.0" width="42.0" height="8.0" rx="4.0" fill="#000" fill-opacity="1.0" filter="url(#bl2)"/>
<rect x="1181.0" y="949.0" width="40.0" height="8.0" rx="4.0" fill="#000" fill-opacity="1.0" filter="url(#bl2)"/>
<rect x="1232.0" y="949.0" width="40.0" height="8.0" rx="4.0" fill="#000" fill-opacity="1.0" filter="url(#bl2)"/>
</g>
<rect x="1127.05" y="921.85" width="157.70" height="59.90" fill="none" stroke="#000" stroke-width="2.5"/>
<text x="901.50" y="834.36" font-size="24.03" font-weight="bold" textLength="24.20" lengthAdjust="spacingAndGlyphs">25</text>
<line x1="933.00" y1="826.00" x2="953.00" y2="826.00" stroke="#000" stroke-width="1.5"/>
<text x="901.50" y="914.76" font-size="24.03" font-weight="bold" textLength="24.20" lengthAdjust="spacingAndGlyphs">25</text>
<line x1="933.00" y1="906.60" x2="953.00" y2="906.60" stroke="#000" stroke-width="1.5"/>
<text x="1304.20" y="849.05" font-size="34.77" font-weight="bold" textLength="118.77" lengthAdjust="spacingAndGlyphs">TWIST1</text>
<text x="1304.00" y="910.81" font-size="29.12" font-weight="bold" textLength="171.41" lengthAdjust="spacingAndGlyphs">Snail+Slug</text>
<text x="1303.00" y="976.25" font-size="34.83" font-weight="bold" textLength="69.89" lengthAdjust="spacingAndGlyphs">Caln</text>
<text x="5.40" y="1072.60" font-size="62.84" textLength="29.64" lengthAdjust="spacingAndGlyphs">F</text>
<line x1="118.60" y1="1127.00" x2="118.60" y2="1392.90" stroke="#000" stroke-width="3.0" stroke-linecap="butt"/>
<line x1="109.20" y1="1391.40" x2="285.00" y2="1391.40" stroke="#000" stroke-width="3.0"/>
<line x1="109.20" y1="1127.30" x2="118.60" y2="1127.30" stroke="#000" stroke-width="3.0"/>
<line x1="109.20" y1="1180.12" x2="118.60" y2="1180.12" stroke="#000" stroke-width="3.0"/>
<line x1="109.20" y1="1232.94" x2="118.60" y2="1232.94" stroke="#000" stroke-width="3.0"/>
<line x1="109.20" y1="1285.76" x2="118.60" y2="1285.76" stroke="#000" stroke-width="3.0"/>
<line x1="109.20" y1="1338.58" x2="118.60" y2="1338.58" stroke="#000" stroke-width="3.0"/>
<line x1="109.20" y1="1391.40" x2="118.60" y2="1391.40" stroke="#000" stroke-width="3.0"/>
<line x1="159.00" y1="1391.40" x2="159.00" y2="1401.40" stroke="#000" stroke-width="3.0"/>
<line x1="241.20" y1="1391.40" x2="241.20" y2="1401.40" stroke="#000" stroke-width="3.0"/>
<rect x="131.50" y="1285.76" width="26.20" height="105.64" fill="#000"/>
<line x1="174.50" y1="1203.70" x2="174.50" y2="1165.50" stroke="#000" stroke-width="3.4"/>
<line x1="168.75" y1="1165.50" x2="180.25" y2="1165.50" stroke="#000" stroke-width="3.8"/>
<rect x="163.15" y="1204.15" width="22.70" height="185.80" fill="#fff" stroke="#000" stroke-width="2.9"/>
<rect x="213.70" y="1285.76" width="26.20" height="105.64" fill="#000"/>
<line x1="256.75" y1="1215.00" x2="256.75" y2="1181.00" stroke="#000" stroke-width="3.4"/>
<line x1="251.00" y1="1181.00" x2="262.50" y2="1181.00" stroke="#000" stroke-width="3.8"/>
<rect x="245.45" y="1215.45" width="22.60" height="174.50" fill="#fff" stroke="#000" stroke-width="2.9"/>
<path d="M146.9,1275.5 V1144.8 H173.9 V1157.5" fill="none" stroke="#222" stroke-width="1.8"/>
<path d="M225.9,1273.4 V1153.4 H257.4 V1172.3" fill="none" stroke="#222" stroke-width="1.8"/>
<text x="142.60" y="1138.41" font-size="18.94" fill="#444" textLength="34.38" lengthAdjust="spacingAndGlyphs">0.09</text>
<text x="229.60" y="1146.53" font-size="17.10" fill="#444" textLength="23.80" lengthAdjust="spacingAndGlyphs">0.1</text>
<text x="71.27" y="1133.65" font-size="19.50" font-weight="bold" textLength="32.53" lengthAdjust="spacingAndGlyphs">2.5</text>
<text x="71.27" y="1186.47" font-size="19.50" font-weight="bold" textLength="32.53" lengthAdjust="spacingAndGlyphs">2.0</text>
<text x="71.27" y="1239.29" font-size="19.50" font-weight="bold" textLength="32.53" lengthAdjust="spacingAndGlyphs">1.5</text>
<text x="71.27" y="1292.11" font-size="19.50" font-weight="bold" textLength="32.53" lengthAdjust="spacingAndGlyphs">1.0</text>
<text x="71.27" y="1344.93" font-size="19.50" font-weight="bold" textLength="32.53" lengthAdjust="spacingAndGlyphs">0.5</text>
<text x="71.27" y="1397.75" font-size="19.50" font-weight="bold" textLength="32.53" lengthAdjust="spacingAndGlyphs">0.0</text>
<text x="0.00" y="0.00" font-size="18.77" font-weight="bold" textLength="223.72" lengthAdjust="spacingAndGlyphs" transform="translate(25.71,1370.40) rotate(-90)">Protein expression</text>
<text x="0.00" y="0.00" font-size="23.16" font-weight="bold" textLength="139.58" lengthAdjust="spacingAndGlyphs" transform="translate(57.19,1329.40) rotate(-90)">levels (A.U.)</text>
<text x="0.00" y="0.00" font-size="22.56" font-weight="bold" transform="translate(103.93,1476.85) rotate(-45)">TWIST1</text>
<text x="0.00" y="0.00" font-size="23.10" font-weight="bold" transform="translate(162.83,1500.10) rotate(-45)">Snail+Slug</text>
<rect x="123.40" y="1517.30" width="38.30" height="14.80" fill="#000"/>
<rect x="124.50" y="1550.70" width="36.10" height="12.70" fill="#fff" stroke="#000" stroke-width="2.2"/>
<text x="180.00" y="1531.79" font-size="20.82" fill="#222" textLength="88.18" lengthAdjust="spacingAndGlyphs">HBE Ctrl</text>
<text x="180.00" y="1564.29" font-size="21.06" fill="#222" textLength="81.49" lengthAdjust="spacingAndGlyphs">HBE CF</text>
<text x="400.20" y="1072.01" font-size="59.08" textLength="44.52" lengthAdjust="spacingAndGlyphs">G</text>
<line x1="512.00" y1="1127.00" x2="512.00" y2="1392.90" stroke="#000" stroke-width="3.0" stroke-linecap="butt"/>
<line x1="502.60" y1="1391.40" x2="677.80" y2="1391.40" stroke="#000" stroke-width="3.0"/>
<line x1="502.60" y1="1127.30" x2="512.00" y2="1127.30" stroke="#000" stroke-width="3.0"/>
<line x1="502.60" y1="1259.35" x2="512.00" y2="1259.35" stroke="#000" stroke-width="3.0"/>
<line x1="502.60" y1="1391.40" x2="512.00" y2="1391.40" stroke="#000" stroke-width="3.0"/>
<line x1="551.70" y1="1391.40" x2="551.70" y2="1401.40" stroke="#000" stroke-width="3.0"/>
<line x1="633.90" y1="1391.40" x2="633.90" y2="1401.40" stroke="#000" stroke-width="3.0"/>
<line x1="538.10" y1="1364.70" x2="538.10" y2="1353.40" stroke="#000" stroke-width="3.4"/>
<line x1="532.35" y1="1353.40" x2="543.85" y2="1353.40" stroke="#000" stroke-width="3.8"/>
<rect x="525.00" y="1363.70" width="26.20" height="27.70" fill="#000"/>
<line x1="568.00" y1="1286.50" x2="568.00" y2="1274.70" stroke="#000" stroke-width="3.4"/>
<line x1="562.25" y1="1274.70" x2="573.75" y2="1274.70" stroke="#000" stroke-width="3.8"/>
<rect x="556.65" y="1286.95" width="22.70" height="103.00" fill="#fff" stroke="#000" stroke-width="2.9"/>
<line x1="620.60" y1="1166.50" x2="620.60" y2="1130.50" stroke="#000" stroke-width="3.4"/>
<line x1="614.85" y1="1130.50" x2="626.35" y2="1130.50" stroke="#000" stroke-width="3.8"/>
<rect x="607.80" y="1165.50" width="25.60" height="225.90" fill="#000"/>
<line x1="650.50" y1="1271.70" x2="650.50" y2="1225.40" stroke="#000" stroke-width="3.4"/>
<line x1="644.75" y1="1225.40" x2="656.25" y2="1225.40" stroke="#000" stroke-width="3.8"/>
<rect x="639.45" y="1272.15" width="22.10" height="117.80" fill="#fff" stroke="#000" stroke-width="2.9"/>
<text x="562.85" y="1274.35" font-size="30.00">*</text>
<text x="464.77" y="1133.65" font-size="19.50" font-weight="bold" textLength="32.53" lengthAdjust="spacingAndGlyphs">1.0</text>
<text x="464.77" y="1265.70" font-size="19.50" font-weight="bold" textLength="32.53" lengthAdjust="spacingAndGlyphs">0.5</text>
<text x="464.77" y="1397.75" font-size="19.50" font-weight="bold" textLength="32.53" lengthAdjust="spacingAndGlyphs">0.0</text>
<text x="0.00" y="0.00" font-size="18.77" font-weight="bold" textLength="223.72" lengthAdjust="spacingAndGlyphs" transform="translate(408.41,1371.70) rotate(-90)">Protein expression</text>
<text x="0.00" y="0.00" font-size="21.66" font-weight="bold" textLength="140.18" lengthAdjust="spacingAndGlyphs" transform="translate(440.21,1330.00) rotate(-90)">levels (A.U.)</text>
<text x="0.00" y="0.00" font-size="22.56" font-weight="bold" transform="translate(497.43,1478.15) rotate(-45)">TWIST1</text>
<text x="0.00" y="0.00" font-size="23.38" font-weight="bold" transform="translate(555.58,1501.94) rotate(-45)">Snail+Slug</text>
<rect x="422.60" y="1521.30" width="38.30" height="14.90" fill="#000"/>
<rect x="423.70" y="1553.40" width="36.10" height="11.30" fill="#fff" stroke="#000" stroke-width="2.2"/>
<text x="480.30" y="1535.99" font-size="21.48" fill="#222" textLength="160.58" lengthAdjust="spacingAndGlyphs">CFBE wt-CFTR</text>
<text x="480.30" y="1565.80" font-size="19.73" fill="#222" textLength="225.71" lengthAdjust="spacingAndGlyphs">CFBE F508del-CFTR</text>
<text x="760.00" y="1072.60" font-size="62.84" textLength="34.49" lengthAdjust="spacingAndGlyphs">H</text>
<text x="950.80" y="1062.83" font-size="26.57" font-weight="bold" textLength="81.39" lengthAdjust="spacingAndGlyphs">CFBE</text>
<text x="930.55" y="1100.59" font-size="30.53" font-weight="bold" textLength="123.25" lengthAdjust="spacingAndGlyphs">wt-CFTR</text>
<line x1="902.00" y1="1139.85" x2="902.00" y2="1419.75" stroke="#000" stroke-width="2.7" stroke-linecap="butt"/>
<line x1="894.20" y1="1418.40" x2="1090.20" y2="1418.40" stroke="#000" stroke-width="2.7"/>
<line x1="894.00" y1="1140.00" x2="902.00" y2="1140.00" stroke="#000" stroke-width="2.7"/>
<line x1="894.00" y1="1232.80" x2="902.00" y2="1232.80" stroke="#000" stroke-width="2.7"/>
<line x1="894.00" y1="1325.60" x2="902.00" y2="1325.60" stroke="#000" stroke-width="2.7"/>
<line x1="894.00" y1="1418.40" x2="902.00" y2="1418.40" stroke="#000" stroke-width="2.7"/>
<line x1="949.50" y1="1418.40" x2="949.50" y2="1427.40" stroke="#000" stroke-width="2.7"/>
<line x1="1041.70" y1="1418.40" x2="1041.70" y2="1427.40" stroke="#000" stroke-width="2.7"/>
<rect x="914.40" y="1232.80" width="19.50" height="185.60" fill="#000"/>
<line x1="950.00" y1="1294.60" x2="950.00" y2="1254.50" stroke="#000" stroke-width="2.7"/>
<line x1="945.80" y1="1254.50" x2="954.20" y2="1254.50" stroke="#000" stroke-width="3.1"/>
<rect x="942.60" y="1294.80" width="14.80" height="122.40" fill="#888" stroke="#000" stroke-width="2.4"/>
<line x1="942.60" y1="1409.10" x2="957.40" y2="1409.10" stroke="#111" stroke-width="1.3"/>
<line x1="942.60" y1="1399.80" x2="957.40" y2="1399.80" stroke="#111" stroke-width="1.3"/>
<line x1="942.60" y1="1390.50" x2="957.40" y2="1390.50" stroke="#111" stroke-width="1.3"/>
<line x1="942.60" y1="1381.20" x2="957.40" y2="1381.20" stroke="#111" stroke-width="1.3"/>
<line x1="942.60" y1="1371.90" x2="957.40" y2="1371.90" stroke="#111" stroke-width="1.3"/>
<line x1="942.60" y1="1362.60" x2="957.40" y2="1362.60" stroke="#111" stroke-width="1.3"/>
<line x1="942.60" y1="1353.30" x2="957.40" y2="1353.30" stroke="#111" stroke-width="1.3"/>
<line x1="942.60" y1="1344.00" x2="957.40" y2="1344.00" stroke="#111" stroke-width="1.3"/>
<line x1="942.60" y1="1334.70" x2="957.40" y2="1334.70" stroke="#111" stroke-width="1.3"/>
<line x1="942.60" y1="1325.40" x2="957.40" y2="1325.40" stroke="#111" stroke-width="1.3"/>
<line x1="942.60" y1="1316.10" x2="957.40" y2="1316.10" stroke="#111" stroke-width="1.3"/>
<line x1="942.60" y1="1306.80" x2="957.40" y2="1306.80" stroke="#111" stroke-width="1.3"/>
<line x1="942.60" y1="1297.50" x2="957.40" y2="1297.50" stroke="#111" stroke-width="1.3"/>
<line x1="974.95" y1="1341.20" x2="974.95" y2="1316.00" stroke="#000" stroke-width="2.7"/>
<line x1="970.75" y1="1316.00" x2="979.15" y2="1316.00" stroke="#000" stroke-width="3.1"/>
<rect x="967.40" y="1341.40" width="15.10" height="75.80" fill="#fff" stroke="#000" stroke-width="2.4"/>
<line x1="967.40" y1="1409.10" x2="982.50" y2="1409.10" stroke="#111" stroke-width="1.3"/>
<line x1="967.40" y1="1399.80" x2="982.50" y2="1399.80" stroke="#111" stroke-width="1.3"/>
<line x1="967.40" y1="1390.50" x2="982.50" y2="1390.50" stroke="#111" stroke-width="1.3"/>
<line x1="967.40" y1="1381.20" x2="982.50" y2="1381.20" stroke="#111" stroke-width="1.3"/>
<line x1="967.40" y1="1371.90" x2="982.50" y2="1371.90" stroke="#111" stroke-width="1.3"/>
<line x1="967.40" y1="1362.60" x2="982.50" y2="1362.60" stroke="#111" stroke-width="1.3"/>
<line x1="967.40" y1="1353.30" x2="982.50" y2="1353.30" stroke="#111" stroke-width="1.3"/>
<line x1="967.40" y1="1344.00" x2="982.50" y2="1344.00" stroke="#111" stroke-width="1.3"/>
<text x="968.95" y="1317.35" font-size="30.00">*</text>
<rect x="1007.40" y="1232.80" width="18.90" height="185.60" fill="#000"/>
<line x1="1042.00" y1="1251.50" x2="1042.00" y2="1235.60" stroke="#000" stroke-width="2.7"/>
<line x1="1037.80" y1="1235.60" x2="1046.20" y2="1235.60" stroke="#000" stroke-width="3.1"/>
<rect x="1034.20" y="1251.70" width="15.60" height="165.50" fill="#888" stroke="#000" stroke-width="2.4"/>
<line x1="1034.20" y1="1409.10" x2="1049.80" y2="1409.10" stroke="#111" stroke-width="1.3"/>
<line x1="1034.20" y1="1399.80" x2="1049.80" y2="1399.80" stroke="#111" stroke-width="1.3"/>
<line x1="1034.20" y1="1390.50" x2="1049.80" y2="1390.50" stroke="#111" stroke-width="1.3"/>
<line x1="1034.20" y1="1381.20" x2="1049.80" y2="1381.20" stroke="#111" stroke-width="1.3"/>
<line x1="1034.20" y1="1371.90" x2="1049.80" y2="1371.90" stroke="#111" stroke-width="1.3"/>
<line x1="1034.20" y1="1362.60" x2="1049.80" y2="1362.60" stroke="#111" stroke-width="1.3"/>
<line x1="1034.20" y1="1353.30" x2="1049.80" y2="1353.30" stroke="#111" stroke-width="1.3"/>
<line x1="1034.20" y1="1344.00" x2="1049.80" y2="1344.00" stroke="#111" stroke-width="1.3"/>
<line x1="1034.20" y1="1334.70" x2="1049.80" y2="1334.70" stroke="#111" stroke-width="1.3"/>
<line x1="1034.20" y1="1325.40" x2="1049.80" y2="1325.40" stroke="#111" stroke-width="1.3"/>
<line x1="1034.20" y1="1316.10" x2="1049.80" y2="1316.10" stroke="#111" stroke-width="1.3"/>
<line x1="1034.20" y1="1306.80" x2="1049.80" y2="1306.80" stroke="#111" stroke-width="1.3"/>
<line x1="1034.20" y1="1297.50" x2="1049.80" y2="1297.50" stroke="#111" stroke-width="1.3"/>
<line x1="1034.20" y1="1288.20" x2="1049.80" y2="1288.20" stroke="#111" stroke-width="1.3"/>
<line x1="1034.20" y1="1278.90" x2="1049.80" y2="1278.90" stroke="#111" stroke-width="1.3"/>
<line x1="1034.20" y1="1269.60" x2="1049.80" y2="1269.60" stroke="#111" stroke-width="1.3"/>
<line x1="1034.20" y1="1260.30" x2="1049.80" y2="1260.30" stroke="#111" stroke-width="1.3"/>
<line x1="1067.55" y1="1290.50" x2="1067.55" y2="1264.00" stroke="#000" stroke-width="2.7"/>
<line x1="1063.35" y1="1264.00" x2="1071.75" y2="1264.00" stroke="#000" stroke-width="3.1"/>
<rect x="1059.60" y="1290.70" width="15.90" height="126.50" fill="#fff" stroke="#000" stroke-width="2.4"/>
<line x1="1059.60" y1="1409.10" x2="1075.50" y2="1409.10" stroke="#111" stroke-width="1.3"/>
<line x1="1059.60" y1="1399.80" x2="1075.50" y2="1399.80" stroke="#111" stroke-width="1.3"/>
<line x1="1059.60" y1="1390.50" x2="1075.50" y2="1390.50" stroke="#111" stroke-width="1.3"/>
<line x1="1059.60" y1="1381.20" x2="1075.50" y2="1381.20" stroke="#111" stroke-width="1.3"/>
<line x1="1059.60" y1="1371.90" x2="1075.50" y2="1371.90" stroke="#111" stroke-width="1.3"/>
<line x1="1059.60" y1="1362.60" x2="1075.50" y2="1362.60" stroke="#111" stroke-width="1.3"/>
<line x1="1059.60" y1="1353.30" x2="1075.50" y2="1353.30" stroke="#111" stroke-width="1.3"/>
<line x1="1059.60" y1="1344.00" x2="1075.50" y2="1344.00" stroke="#111" stroke-width="1.3"/>
<line x1="1059.60" y1="1334.70" x2="1075.50" y2="1334.70" stroke="#111" stroke-width="1.3"/>
<line x1="1059.60" y1="1325.40" x2="1075.50" y2="1325.40" stroke="#111" stroke-width="1.3"/>
<line x1="1059.60" y1="1316.10" x2="1075.50" y2="1316.10" stroke="#111" stroke-width="1.3"/>
<line x1="1059.60" y1="1306.80" x2="1075.50" y2="1306.80" stroke="#111" stroke-width="1.3"/>
<line x1="1059.60" y1="1297.50" x2="1075.50" y2="1297.50" stroke="#111" stroke-width="1.3"/>
<text x="856.87" y="1146.35" font-size="19.50" font-weight="bold" textLength="32.53" lengthAdjust="spacingAndGlyphs">1.5</text>
<text x="856.87" y="1239.15" font-size="19.50" font-weight="bold" textLength="32.53" lengthAdjust="spacingAndGlyphs">1.0</text>
<text x="856.87" y="1331.95" font-size="19.50" font-weight="bold" textLength="32.53" lengthAdjust="spacingAndGlyphs">0.5</text>
<text x="856.87" y="1424.75" font-size="19.50" font-weight="bold" textLength="32.53" lengthAdjust="spacingAndGlyphs">0.0</text>
<text x="0.00" y="0.00" font-size="18.87" font-weight="bold" textLength="207.52" lengthAdjust="spacingAndGlyphs" transform="translate(812.68,1382.50) rotate(-90)">Protein expression</text>
<text x="0.00" y="0.00" font-size="21.66" font-weight="bold" textLength="132.08" lengthAdjust="spacingAndGlyphs" transform="translate(843.11,1344.80) rotate(-90)">levels (A.U.)</text>
<text x="0.00" y="0.00" font-size="22.56" font-weight="bold" transform="translate(894.28,1501.70) rotate(-45)">TWIST1</text>
<text x="0.00" y="0.00" font-size="23.05" font-weight="bold" transform="translate(960.98,1526.35) rotate(-45)">Snail+Slug</text>
<text x="1268.20" y="1066.91" font-size="28.55" font-weight="bold" textLength="80.89" lengthAdjust="spacingAndGlyphs">CFBE</text>
<text x="1207.60" y="1104.70" font-size="29.52" font-weight="bold" textLength="202.73" lengthAdjust="spacingAndGlyphs">F508del-CFTR</text>
<line x1="1223.00" y1="1135.25" x2="1223.00" y2="1418.15" stroke="#000" stroke-width="2.7" stroke-linecap="butt"/>
<line x1="1216.20" y1="1416.80" x2="1415.20" y2="1416.80" stroke="#000" stroke-width="2.7"/>
<line x1="1216.00" y1="1135.40" x2="1223.00" y2="1135.40" stroke="#000" stroke-width="2.7"/>
<line x1="1216.00" y1="1229.20" x2="1223.00" y2="1229.20" stroke="#000" stroke-width="2.7"/>
<line x1="1216.00" y1="1323.00" x2="1223.00" y2="1323.00" stroke="#000" stroke-width="2.7"/>
<line x1="1216.00" y1="1416.80" x2="1223.00" y2="1416.80" stroke="#000" stroke-width="2.7"/>
<line x1="1271.70" y1="1416.80" x2="1271.70" y2="1425.80" stroke="#000" stroke-width="2.7"/>
<line x1="1366.60" y1="1416.80" x2="1366.60" y2="1425.80" stroke="#000" stroke-width="2.7"/>
<rect x="1236.70" y="1229.20" width="20.00" height="187.60" fill="#000"/>
<line x1="1272.55" y1="1315.60" x2="1272.55" y2="1303.60" stroke="#000" stroke-width="2.7"/>
<line x1="1268.35" y1="1303.60" x2="1276.75" y2="1303.60" stroke="#000" stroke-width="3.1"/>
<rect x="1264.60" y="1315.80" width="15.90" height="99.80" fill="#888" stroke="#000" stroke-width="2.4"/>
<line x1="1264.60" y1="1407.50" x2="1280.50" y2="1407.50" stroke="#111" stroke-width="1.3"/>
<line x1="1264.60" y1="1398.20" x2="1280.50" y2="1398.20" stroke="#111" stroke-width="1.3"/>
<line x1="1264.60" y1="1388.90" x2="1280.50" y2="1388.90" stroke="#111" stroke-width="1.3"/>
<line x1="1264.60" y1="1379.60" x2="1280.50" y2="1379.60" stroke="#111" stroke-width="1.3"/>
<line x1="1264.60" y1="1370.30" x2="1280.50" y2="1370.30" stroke="#111" stroke-width="1.3"/>
<line x1="1264.60" y1="1361.00" x2="1280.50" y2="1361.00" stroke="#111" stroke-width="1.3"/>
<line x1="1264.60" y1="1351.70" x2="1280.50" y2="1351.70" stroke="#111" stroke-width="1.3"/>
<line x1="1264.60" y1="1342.40" x2="1280.50" y2="1342.40" stroke="#111" stroke-width="1.3"/>
<line x1="1264.60" y1="1333.10" x2="1280.50" y2="1333.10" stroke="#111" stroke-width="1.3"/>
<line x1="1264.60" y1="1323.80" x2="1280.50" y2="1323.80" stroke="#111" stroke-width="1.3"/>
<line x1="1298.15" y1="1307.50" x2="1298.15" y2="1294.10" stroke="#000" stroke-width="2.7"/>
<line x1="1293.95" y1="1294.10" x2="1302.35" y2="1294.10" stroke="#000" stroke-width="3.1"/>
<rect x="1290.20" y="1307.70" width="15.90" height="107.90" fill="#fff" stroke="#000" stroke-width="2.4"/>
<line x1="1290.20" y1="1407.50" x2="1306.10" y2="1407.50" stroke="#111" stroke-width="1.3"/>
<line x1="1290.20" y1="1398.20" x2="1306.10" y2="1398.20" stroke="#111" stroke-width="1.3"/>
<line x1="1290.20" y1="1388.90" x2="1306.10" y2="1388.90" stroke="#111" stroke-width="1.3"/>
<line x1="1290.20" y1="1379.60" x2="1306.10" y2="1379.60" stroke="#111" stroke-width="1.3"/>
<line x1="1290.20" y1="1370.30" x2="1306.10" y2="1370.30" stroke="#111" stroke-width="1.3"/>
<line x1="1290.20" y1="1361.00" x2="1306.10" y2="1361.00" stroke="#111" stroke-width="1.3"/>
<line x1="1290.20" y1="1351.70" x2="1306.10" y2="1351.70" stroke="#111" stroke-width="1.3"/>
<line x1="1290.20" y1="1342.40" x2="1306.10" y2="1342.40" stroke="#111" stroke-width="1.3"/>
<line x1="1290.20" y1="1333.10" x2="1306.10" y2="1333.10" stroke="#111" stroke-width="1.3"/>
<line x1="1290.20" y1="1323.80" x2="1306.10" y2="1323.80" stroke="#111" stroke-width="1.3"/>
<line x1="1290.20" y1="1314.50" x2="1306.10" y2="1314.50" stroke="#111" stroke-width="1.3"/>
<text x="1266.45" y="1303.85" font-size="30.00">*</text>
<text x="1292.05" y="1297.35" font-size="30.00">*</text>
<rect x="1331.60" y="1229.20" width="18.90" height="187.60" fill="#000"/>
<line x1="1366.35" y1="1199.40" x2="1366.35" y2="1161.50" stroke="#000" stroke-width="2.7"/>
<line x1="1362.15" y1="1161.50" x2="1370.55" y2="1161.50" stroke="#000" stroke-width="3.1"/>
<rect x="1358.40" y="1199.60" width="15.90" height="216.00" fill="#888" stroke="#000" stroke-width="2.4"/>
<line x1="1358.40" y1="1407.50" x2="1374.30" y2="1407.50" stroke="#111" stroke-width="1.3"/>
<line x1="1358.40" y1="1398.20" x2="1374.30" y2="1398.20" stroke="#111" stroke-width="1.3"/>
<line x1="1358.40" y1="1388.90" x2="1374.30" y2="1388.90" stroke="#111" stroke-width="1.3"/>
<line x1="1358.40" y1="1379.60" x2="1374.30" y2="1379.60" stroke="#111" stroke-width="1.3"/>
<line x1="1358.40" y1="1370.30" x2="1374.30" y2="1370.30" stroke="#111" stroke-width="1.3"/>
<line x1="1358.40" y1="1361.00" x2="1374.30" y2="1361.00" stroke="#111" stroke-width="1.3"/>
<line x1="1358.40" y1="1351.70" x2="1374.30" y2="1351.70" stroke="#111" stroke-width="1.3"/>
<line x1="1358.40" y1="1342.40" x2="1374.30" y2="1342.40" stroke="#111" stroke-width="1.3"/>
<line x1="1358.40" y1="1333.10" x2="1374.30" y2="1333.10" stroke="#111" stroke-width="1.3"/>
<line x1="1358.40" y1="1323.80" x2="1374.30" y2="1323.80" stroke="#111" stroke-width="1.3"/>
<line x1="1358.40" y1="1314.50" x2="1374.30" y2="1314.50" stroke="#111" stroke-width="1.3"/>
<line x1="1358.40" y1="1305.20" x2="1374.30" y2="1305.20" stroke="#111" stroke-width="1.3"/>
<line x1="1358.40" y1="1295.90" x2="1374.30" y2="1295.90" stroke="#111" stroke-width="1.3"/>
<line x1="1358.40" y1="1286.60" x2="1374.30" y2="1286.60" stroke="#111" stroke-width="1.3"/>
<line x1="1358.40" y1="1277.30" x2="1374.30" y2="1277.30" stroke="#111" stroke-width="1.3"/>
<line x1="1358.40" y1="1268.00" x2="1374.30" y2="1268.00" stroke="#111" stroke-width="1.3"/>
<line x1="1358.40" y1="1258.70" x2="1374.30" y2="1258.70" stroke="#111" stroke-width="1.3"/>
<line x1="1358.40" y1="1249.40" x2="1374.30" y2="1249.40" stroke="#111" stroke-width="1.3"/>
<line x1="1358.40" y1="1240.10" x2="1374.30" y2="1240.10" stroke="#111" stroke-width="1.3"/>
<line x1="1358.40" y1="1230.80" x2="1374.30" y2="1230.80" stroke="#111" stroke-width="1.3"/>
<line x1="1358.40" y1="1221.50" x2="1374.30" y2="1221.50" stroke="#111" stroke-width="1.3"/>
<line x1="1358.40" y1="1212.20" x2="1374.30" y2="1212.20" stroke="#111" stroke-width="1.3"/>
<line x1="1358.40" y1="1202.90" x2="1374.30" y2="1202.90" stroke="#111" stroke-width="1.3"/>
<line x1="1393.15" y1="1204.30" x2="1393.15" y2="1168.20" stroke="#000" stroke-width="2.7"/>
<line x1="1388.95" y1="1168.20" x2="1397.35" y2="1168.20" stroke="#000" stroke-width="3.1"/>
<rect x="1385.30" y="1204.50" width="15.70" height="211.10" fill="#fff" stroke="#000" stroke-width="2.4"/>
<line x1="1385.30" y1="1407.50" x2="1401.00" y2="1407.50" stroke="#111" stroke-width="1.3"/>
<line x1="1385.30" y1="1398.20" x2="1401.00" y2="1398.20" stroke="#111" stroke-width="1.3"/>
<line x1="1385.30" y1="1388.90" x2="1401.00" y2="1388.90" stroke="#111" stroke-width="1.3"/>
<line x1="1385.30" y1="1379.60" x2="1401.00" y2="1379.60" stroke="#111" stroke-width="1.3"/>
<line x1="1385.30" y1="1370.30" x2="1401.00" y2="1370.30" stroke="#111" stroke-width="1.3"/>
<line x1="1385.30" y1="1361.00" x2="1401.00" y2="1361.00" stroke="#111" stroke-width="1.3"/>
<line x1="1385.30" y1="1351.70" x2="1401.00" y2="1351.70" stroke="#111" stroke-width="1.3"/>
<line x1="1385.30" y1="1342.40" x2="1401.00" y2="1342.40" stroke="#111" stroke-width="1.3"/>
<line x1="1385.30" y1="1333.10" x2="1401.00" y2="1333.10" stroke="#111" stroke-width="1.3"/>
<line x1="1385.30" y1="1323.80" x2="1401.00" y2="1323.80" stroke="#111" stroke-width="1.3"/>
<line x1="1385.30" y1="1314.50" x2="1401.00" y2="1314.50" stroke="#111" stroke-width="1.3"/>
<line x1="1385.30" y1="1305.20" x2="1401.00" y2="1305.20" stroke="#111" stroke-width="1.3"/>
<line x1="1385.30" y1="1295.90" x2="1401.00" y2="1295.90" stroke="#111" stroke-width="1.3"/>
<line x1="1385.30" y1="1286.60" x2="1401.00" y2="1286.60" stroke="#111" stroke-width="1.3"/>
<line x1="1385.30" y1="1277.30" x2="1401.00" y2="1277.30" stroke="#111" stroke-width="1.3"/>
<line x1="1385.30" y1="1268.00" x2="1401.00" y2="1268.00" stroke="#111" stroke-width="1.3"/>
<line x1="1385.30" y1="1258.70" x2="1401.00" y2="1258.70" stroke="#111" stroke-width="1.3"/>
<line x1="1385.30" y1="1249.40" x2="1401.00" y2="1249.40" stroke="#111" stroke-width="1.3"/>
<line x1="1385.30" y1="1240.10" x2="1401.00" y2="1240.10" stroke="#111" stroke-width="1.3"/>
<line x1="1385.30" y1="1230.80" x2="1401.00" y2="1230.80" stroke="#111" stroke-width="1.3"/>
<line x1="1385.30" y1="1221.50" x2="1401.00" y2="1221.50" stroke="#111" stroke-width="1.3"/>
<line x1="1385.30" y1="1212.20" x2="1401.00" y2="1212.20" stroke="#111" stroke-width="1.3"/>
<text x="1179.07" y="1141.75" font-size="19.50" font-weight="bold" textLength="32.53" lengthAdjust="spacingAndGlyphs">1.5</text>
<text x="1179.07" y="1235.55" font-size="19.50" font-weight="bold" textLength="32.53" lengthAdjust="spacingAndGlyphs">1.0</text>
<text x="1179.07" y="1329.35" font-size="19.50" font-weight="bold" textLength="32.53" lengthAdjust="spacingAndGlyphs">0.5</text>
<text x="1179.07" y="1423.15" font-size="19.50" font-weight="bold" textLength="32.53" lengthAdjust="spacingAndGlyphs">0.0</text>
<text x="0.00" y="0.00" font-size="19.73" font-weight="bold" textLength="212.92" lengthAdjust="spacingAndGlyphs" transform="translate(1132.91,1382.50) rotate(-90)">Protein expression</text>
<text x="0.00" y="0.00" font-size="22.52" font-weight="bold" textLength="134.78" lengthAdjust="spacingAndGlyphs" transform="translate(1164.63,1343.50) rotate(-90)">levels (A.U.)</text>
<text x="0.00" y="0.00" font-size="23.96" font-weight="bold" transform="translate(1215.29,1504.96) rotate(-45)">TWIST1</text>
<text x="0.00" y="0.00" font-size="23.89" font-weight="bold" transform="translate(1284.79,1529.81) rotate(-45)">Snail+Slug</text>
<rect x="831.10" y="1555.60" width="35.60" height="16.40" fill="#000"/>
<text x="884.50" y="1570.86" font-size="23.89" fill="#222" textLength="63.10" lengthAdjust="spacingAndGlyphs">DMSO</text>
<rect x="970.00" y="1556.60" width="32.20" height="12.60" fill="#888" stroke="#000" stroke-width="2"/>
<line x1="970.00" y1="1560.50" x2="1002.00" y2="1560.50" stroke="#111" stroke-width="1.1"/>
<line x1="970.00" y1="1565.30" x2="1002.00" y2="1565.30" stroke="#111" stroke-width="1.1"/>
<text x="1020.10" y="1568.77" font-size="23.32" fill="#222" textLength="153.50" lengthAdjust="spacingAndGlyphs">VX-445+VX-661</text>
<rect x="1175.50" y="1555.70" width="31.80" height="12.70" fill="#fff" stroke="#000" stroke-width="2"/>
<line x1="1175.50" y1="1559.60" x2="1207.30" y2="1559.60" stroke="#111" stroke-width="1.1"/>
<line x1="1175.50" y1="1564.40" x2="1207.30" y2="1564.40" stroke="#111" stroke-width="1.1"/>
<text x="1225.60" y="1568.75" font-size="25.44" fill="#222" textLength="238.39" lengthAdjust="spacingAndGlyphs">VX-445+VX-661+VX-770</text>
<rect x="6.70" y="1637.80" width="5.80" height="42.20" fill="#000"/>
<text x="192.10" y="1665.49" font-size="31.38" font-weight="bold" textLength="81.39" lengthAdjust="spacingAndGlyphs">CFBE</text>
<text x="171.35" y="1702.87" font-size="32.79" font-weight="bold" textLength="123.05" lengthAdjust="spacingAndGlyphs">wt-CFTR</text>
<line x1="157.90" y1="1715.60" x2="309.10" y2="1715.60" stroke="#000" stroke-width="1.6"/>
<text x="409.20" y="1665.49" font-size="31.38" font-weight="bold" textLength="82.19" lengthAdjust="spacingAndGlyphs">CFBE</text>
<text x="349.10" y="1704.17" font-size="33.33" font-weight="bold" textLength="202.43" lengthAdjust="spacingAndGlyphs">F508del-CFTR</text>
<line x1="363.80" y1="1716.50" x2="515.00" y2="1716.50" stroke="#000" stroke-width="1.6"/>
<text x="0.00" y="0.00" font-size="27.89" font-weight="bold" textLength="176.72" lengthAdjust="spacingAndGlyphs" transform="translate(173.02,1962.00) rotate(-90)">shLucif. NCtrl</text>
<text x="0.00" y="0.00" font-size="28.57" font-weight="bold" textLength="203.62" lengthAdjust="spacingAndGlyphs" transform="translate(219.61,1962.00) rotate(-90)">shTWIST1 NCtrl</text>
<text x="0.00" y="0.00" font-size="23.27" font-weight="bold" textLength="203.62" lengthAdjust="spacingAndGlyphs" transform="translate(263.17,1962.00) rotate(-90)">shLucif. TGF-β1</text>
<text x="0.00" y="0.00" font-size="24.77" font-weight="bold" textLength="228.02" lengthAdjust="spacingAndGlyphs" transform="translate(311.56,1962.00) rotate(-90)">shTWIST1 TGF-β1</text>
<text x="0.00" y="0.00" font-size="27.89" font-weight="bold" textLength="176.72" lengthAdjust="spacingAndGlyphs" transform="translate(374.02,1962.00) rotate(-90)">shLucif. NCtrl</text>
<text x="0.00" y="0.00" font-size="28.57" font-weight="bold" textLength="203.62" lengthAdjust="spacingAndGlyphs" transform="translate(416.71,1962.00) rotate(-90)">shTWIST1 NCtrl</text>
<text x="0.00" y="0.00" font-size="23.27" font-weight="bold" textLength="203.62" lengthAdjust="spacingAndGlyphs" transform="translate(460.37,1962.00) rotate(-90)">shLucif. TGF-β1</text>
<text x="0.00" y="0.00" font-size="21.98" font-weight="bold" textLength="228.02" lengthAdjust="spacingAndGlyphs" transform="translate(504.24,1962.00) rotate(-90)">shTWIST1 TGF-β1</text>
<g clip-path="url(#bc14)">
<rect x="131.20" y="1968.20" width="201.50" height="63.20" fill="#e8e8e8"/>
<rect x="131.2" y="1968.2" width="201.5" height="63.200000000000045" filter="url(#grain)" opacity="0.11"/>
<rect x="143.0" y="1986.0" width="36.0" height="6.0" rx="3.0" fill="#000" fill-opacity="0.6" filter="url(#bl2)"/>
<rect x="142.0" y="1983.5" width="10.0" height="9.0" rx="4.5" fill="#000" fill-opacity="1.0" filter="url(#bl2)"/>
<rect x="170.0" y="1984.0" width="12.0" height="10.0" rx="5.0" fill="#000" fill-opacity="1.0" filter="url(#bl2)"/>
<rect x="190.0" y="1985.5" width="40.0" height="7.0" rx="3.5" fill="#000" fill-opacity="0.85" filter="url(#bl2)"/>
<rect x="218.0" y="1984.0" width="12.0" height="8.0" rx="4.0" fill="#000" fill-opacity="0.95" filter="url(#bl2)"/>
<rect x="236.0" y="1982.0" width="44.0" height="14.0" rx="5.0" fill="#000" fill-opacity="1.0" filter="url(#bl2)"/>
<rect x="281.0" y="1981.5" width="44.0" height="15.0" rx="5.0" fill="#000" fill-opacity="1.0" filter="url(#bl2)"/>
<rect x="240.0" y="2004.0" width="44.0" height="12.0" rx="5.0" fill="#000" fill-opacity="0.3" filter="url(#bl4)"/>
<rect x="283.0" y="2005.0" width="40.0" height="10.0" rx="5.0" fill="#000" fill-opacity="0.25" filter="url(#bl4)"/>
</g>
<rect x="132.45" y="1969.45" width="199.00" height="60.70" fill="none" stroke="#000" stroke-width="2.5"/>
<g clip-path="url(#bc15)">
<rect x="336.70" y="1968.20" width="202.80" height="63.20" fill="#eeeeee"/>
<rect x="336.7" y="1968.2" width="202.8" height="63.200000000000045" filter="url(#grain)" opacity="0.08"/>
<rect x="345.0" y="2010.5" width="170.0" height="5.0" rx="2.5" fill="#000" fill-opacity="0.12" filter="url(#bl2)"/>
<rect x="440.0" y="2009.5" width="30.0" height="5.0" rx="2.5" fill="#000" fill-opacity="0.15" filter="url(#bl2)"/>
<rect x="490.0" y="2011.0" width="30.0" height="6.0" rx="3.0" fill="#000" fill-opacity="0.15" filter="url(#bl2)"/>
</g>
<rect x="337.95" y="1969.45" width="200.30" height="60.70" fill="none" stroke="#000" stroke-width="2.5"/>
<g clip-path="url(#bc16)">
<rect x="131.20" y="2038.00" width="201.50" height="42.30" fill="#e6e6e6"/>
<rect x="131.2" y="2038" width="201.5" height="42.30000000000018" filter="url(#grain)" opacity="0.11"/>
<rect x="140.0" y="2056.0" width="44.0" height="8.0" rx="4.0" fill="#000" fill-opacity="1.0" filter="url(#bl2)"/>
<rect x="185.0" y="2055.5" width="46.0" height="9.0" rx="4.5" fill="#000" fill-opacity="1.0" filter="url(#bl2)"/>
<rect x="236.0" y="2058.5" width="44.0" height="5.0" rx="2.5" fill="#000" fill-opacity="0.8" filter="url(#bl2)"/>
<rect x="283.0" y="2058.5" width="44.0" height="5.0" rx="2.5" fill="#000" fill-opacity="0.75" filter="url(#bl2)"/>
</g>
<rect x="132.45" y="2039.25" width="199.00" height="39.80" fill="none" stroke="#000" stroke-width="2.5"/>
<g clip-path="url(#bc17)">
<rect x="336.70" y="2038.00" width="202.80" height="42.30" fill="#e6e6e6"/>
<rect x="336.7" y="2038" width="202.8" height="42.30000000000018" filter="url(#grain)" opacity="0.11"/>
<rect x="344.0" y="2056.0" width="40.0" height="8.0" rx="4.0" fill="#000" fill-opacity="1.0" filter="url(#bl2)"/>
<rect x="388.0" y="2056.0" width="44.0" height="8.0" rx="4.0" fill="#000" fill-opacity="0.95" filter="url(#bl2)"/>
<rect x="434.0" y="2056.0" width="44.0" height="8.0" rx="4.0" fill="#000" fill-opacity="0.95" filter="url(#bl2)"/>
<rect x="480.0" y="2054.5" width="40.0" height="9.0" rx="4.5" fill="#000" fill-opacity="1.0" filter="url(#bl2)"/>
</g>
<rect x="337.95" y="2039.25" width="200.30" height="39.80" fill="none" stroke="#000" stroke-width="2.5"/>
<g clip-path="url(#bc18)">
<rect x="131.20" y="2085.30" width="201.50" height="65.00" fill="#a2a2a2"/>
<rect x="131.2" y="2085.3" width="201.5" height="65.0" fill="url(#gDarkT)" opacity="0.6"/>
<rect x="131.2" y="2085.3" width="201.5" height="65.0" filter="url(#grain)" opacity="0.25"/>
<rect x="134.0" y="2102.0" width="44.0" height="14.0" rx="5.0" fill="#000" fill-opacity="1.0" filter="url(#bl3)"/>
<rect x="180.0" y="2107.5" width="50.0" height="5.0" rx="2.5" fill="#000" fill-opacity="0.45" filter="url(#bl2)"/>
<rect x="243.0" y="2106.5" width="20.0" height="7.0" rx="3.5" fill="#000" fill-opacity="0.65" filter="url(#bl2)"/>
<rect x="270.0" y="2112.5" width="50.0" height="5.0" rx="2.5" fill="#000" fill-opacity="0.3" filter="url(#bl3)"/>
<rect x="125.0" y="2127.0" width="90.0" height="22.0" rx="5.0" fill="#000" fill-opacity="0.2" filter="url(#bl6)"/>
</g>
<rect x="132.45" y="2086.55" width="199.00" height="62.50" fill="none" stroke="#000" stroke-width="2.5"/>
<g clip-path="url(#bc19)">
<rect x="336.70" y="2085.30" width="202.80" height="65.00" fill="#c8c8c8"/>
<rect x="336.7" y="2085.3" width="202.8" height="65.0" filter="url(#grain)" opacity="0.19"/>
<rect x="346.0" y="2104.5" width="34.0" height="7.0" rx="3.5" fill="#000" fill-opacity="0.85" filter="url(#bl2)"/>
<rect x="388.0" y="2110.0" width="44.0" height="4.0" rx="2.0" fill="#000" fill-opacity="0.3" filter="url(#bl2)"/>
<rect x="437.0" y="2115.0" width="50.0" height="6.0" rx="3.0" fill="#000" fill-opacity="0.55" filter="url(#bl3)"/>
<rect x="492.0" y="2125.5" width="36.0" height="5.0" rx="2.5" fill="#000" fill-opacity="0.3" filter="url(#bl3)"/>
</g>
<rect x="337.95" y="2086.55" width="200.30" height="62.50" fill="none" stroke="#000" stroke-width="2.5"/>
<circle cx="195.5" cy="2145" r="1.6" fill="#e02020"/>
<g clip-path="url(#bc20)">
<rect x="131.20" y="2155.60" width="201.50" height="40.00" fill="#e4e4e4"/>
<rect x="131.2" y="2155.6" width="201.5" height="40.0" filter="url(#grain)" opacity="0.12"/>
<rect x="139.0" y="2173.5" width="44.0" height="7.0" rx="3.5" fill="#000" fill-opacity="1.0" filter="url(#bl2)"/>
<rect x="186.0" y="2173.5" width="44.0" height="7.0" rx="3.5" fill="#000" fill-opacity="1.0" filter="url(#bl2)"/>
<rect x="235.0" y="2174.0" width="44.0" height="6.0" rx="3.0" fill="#000" fill-opacity="0.9" filter="url(#bl2)"/>
<rect x="285.0" y="2174.5" width="40.0" height="5.0" rx="2.5" fill="#000" fill-opacity="0.7" filter="url(#bl2)"/>
<rect x="317.0" y="2173.0" width="10.0" height="6.0" rx="3.0" fill="#000" fill-opacity="0.9" filter="url(#bl2)"/>
</g>
<rect x="132.45" y="2156.85" width="199.00" height="37.50" fill="none" stroke="#000" stroke-width="2.5"/>
<g clip-path="url(#bc21)">
<rect x="336.70" y="2155.60" width="202.80" height="40.00" fill="#e4e4e4"/>
<rect x="336.7" y="2155.6" width="202.8" height="40.0" filter="url(#grain)" opacity="0.12"/>
<rect x="342.0" y="2175.0" width="40.0" height="6.0" rx="3.0" fill="#000" fill-opacity="0.9" filter="url(#bl2)"/>
<rect x="370.0" y="2174.5" width="14.0" height="9.0" rx="4.5" fill="#000" fill-opacity="1.0" filter="url(#bl2)"/>
<rect x="385.0" y="2174.5" width="40.0" height="7.0" rx="3.5" fill="#000" fill-opacity="0.95" filter="url(#bl2)"/>
<rect x="413.0" y="2174.5" width="12.0" height="9.0" rx="4.5" fill="#000" fill-opacity="1.0" filter="url(#bl2)"/>
<rect x="430.0" y="2172.5" width="44.0" height="9.0" rx="4.5" fill="#000" fill-opacity="1.0" filter="url(#bl2)"/>
<rect x="480.0" y="2168.0" width="36.0" height="8.0" rx="4.0" fill="#000" fill-opacity="1.0" filter="url(#bl2)"/>
</g>
<rect x="337.95" y="2156.85" width="200.30" height="37.50" fill="none" stroke="#000" stroke-width="2.5"/>
<g clip-path="url(#bc22)">
<rect x="131.20" y="2214.80" width="201.50" height="37.30" fill="#cacaca"/>
<rect x="131.2" y="2214.8" width="201.5" height="37.29999999999973" fill="url(#gDarkR)" opacity="0.5"/>
<rect x="131.2" y="2214.8" width="201.5" height="37.29999999999973" filter="url(#grain)" opacity="0.17"/>
<rect x="138.0" y="2226.5" width="44.0" height="5.0" rx="2.5" fill="#000" fill-opacity="0.75" filter="url(#bl2)"/>
<rect x="178.0" y="2228.5" width="14.0" height="5.0" rx="2.5" fill="#000" fill-opacity="0.6" filter="url(#bl2)"/>
<rect x="192.0" y="2230.0" width="40.0" height="8.0" rx="4.0" fill="#000" fill-opacity="0.95" filter="url(#bl2)"/>
<rect x="215.0" y="2232.0" width="20.0" height="8.0" rx="4.0" fill="#000" fill-opacity="1.0" filter="url(#bl2)"/>
<rect x="236.0" y="2232.5" width="34.0" height="7.0" rx="3.5" fill="#000" fill-opacity="0.85" filter="url(#bl2)"/>
<rect x="280.0" y="2235.0" width="40.0" height="4.0" rx="2.0" fill="#000" fill-opacity="0.3" filter="url(#bl2)"/>
</g>
<rect x="132.45" y="2216.05" width="199.00" height="34.80" fill="none" stroke="#000" stroke-width="2.5"/>
<g clip-path="url(#bc23)">
<rect x="336.70" y="2214.80" width="202.80" height="37.30" fill="#8c8c8c"/>
<rect x="336.7" y="2214.8" width="202.8" height="37.29999999999973" filter="url(#grain)" opacity="0.19"/>
<rect x="345.0" y="2232.0" width="40.0" height="6.0" rx="3.0" fill="#000" fill-opacity="0.3" filter="url(#bl2)"/>
<rect x="399.0" y="2229.5" width="30.0" height="7.0" rx="3.5" fill="#000" fill-opacity="0.75" filter="url(#bl2)"/>
<rect x="439.0" y="2230.0" width="28.0" height="6.0" rx="3.0" fill="#000" fill-opacity="0.45" filter="url(#bl2)"/>
<rect x="485.0" y="2233.0" width="30.0" height="6.0" rx="3.0" fill="#000" fill-opacity="0.25" filter="url(#bl2)"/>
</g>
<rect x="337.95" y="2216.05" width="200.30" height="34.80" fill="none" stroke="#000" stroke-width="2.5"/>
<g clip-path="url(#bc24)">
<rect x="131.20" y="2260.10" width="201.50" height="49.90" fill="#e4e4e4"/>
<rect x="131.2" y="2260.1" width="201.5" height="49.90000000000009" filter="url(#grain)" opacity="0.14"/>
<rect x="141.0" y="2281.5" width="38.0" height="5.0" rx="2.5" fill="#000" fill-opacity="0.9" filter="url(#bl2)"/>
<rect x="187.0" y="2283.0" width="42.0" height="6.0" rx="3.0" fill="#000" fill-opacity="0.95" filter="url(#bl2)"/>
<rect x="235.0" y="2284.5" width="50.0" height="7.0" rx="3.5" fill="#000" fill-opacity="1.0" filter="url(#bl2)"/>
<rect x="286.0" y="2281.0" width="34.0" height="6.0" rx="3.0" fill="#000" fill-opacity="0.85" filter="url(#bl2)"/>
<rect x="313.0" y="2279.5" width="10.0" height="5.0" rx="2.5" fill="#000" fill-opacity="1.0" filter="url(#bl2)"/>
</g>
<rect x="132.45" y="2261.35" width="199.00" height="47.40" fill="none" stroke="#000" stroke-width="2.5"/>
<g clip-path="url(#bc25)">
<rect x="336.70" y="2260.10" width="202.80" height="49.90" fill="#e2e2e2"/>
<rect x="336.7" y="2260.1" width="202.8" height="49.90000000000009" filter="url(#grain)" opacity="0.14"/>
<rect x="342.0" y="2281.5" width="40.0" height="7.0" rx="3.5" fill="#000" fill-opacity="1.0" filter="url(#bl2)"/>
<rect x="388.0" y="2284.5" width="44.0" height="5.0" rx="2.5" fill="#000" fill-opacity="0.85" filter="url(#bl2)"/>
<rect x="438.0" y="2281.5" width="40.0" height="9.0" rx="4.5" fill="#000" fill-opacity="1.0" filter="url(#bl2)"/>
<rect x="464.0" y="2282.5" width="12.0" height="9.0" rx="4.5" fill="#000" fill-opacity="1.0" filter="url(#bl2)"/>
<rect x="486.0" y="2277.0" width="34.0" height="6.0" rx="3.0" fill="#000" fill-opacity="1.0" filter="url(#bl2)"/>
<rect x="509.0" y="2271.5" width="12.0" height="7.0" rx="3.5" fill="#000" fill-opacity="1.0" filter="url(#bl2)"/>
</g>
<rect x="337.95" y="2261.35" width="200.30" height="47.40" fill="none" stroke="#000" stroke-width="2.5"/>
<g clip-path="url(#bc26)">
<rect x="131.20" y="2325.50" width="201.50" height="49.40" fill="#e8e8e8"/>
<rect x="131.2" y="2325.5" width="201.5" height="49.40000000000009" filter="url(#grain)" opacity="0.11"/>
<rect x="138.0" y="2350.0" width="44.0" height="4.0" rx="2.0" fill="#000" fill-opacity="0.2" filter="url(#bl2)"/>
<rect x="188.0" y="2351.0" width="44.0" height="4.0" rx="2.0" fill="#000" fill-opacity="0.2" filter="url(#bl2)"/>
<rect x="233.0" y="2351.5" width="44.0" height="9.0" rx="4.5" fill="#000" fill-opacity="0.95" filter="url(#bl2)"/>
<rect x="279.0" y="2351.0" width="46.0" height="8.0" rx="4.0" fill="#000" fill-opacity="0.85" filter="url(#bl2)"/>
<rect x="314.0" y="2349.0" width="12.0" height="8.0" rx="4.0" fill="#000" fill-opacity="1.0" filter="url(#bl2)"/>
</g>
<rect x="132.45" y="2326.75" width="199.00" height="46.90" fill="none" stroke="#000" stroke-width="2.5"/>
<g clip-path="url(#bc27)">
<rect x="336.70" y="2325.50" width="202.80" height="49.40" fill="#e8e8e8"/>
<rect x="336.7" y="2325.5" width="202.8" height="49.40000000000009" filter="url(#grain)" opacity="0.11"/>
<rect x="344.0" y="2352.5" width="36.0" height="5.0" rx="2.5" fill="#000" fill-opacity="0.25" filter="url(#bl2)"/>
<rect x="387.0" y="2351.5" width="36.0" height="5.0" rx="2.5" fill="#000" fill-opacity="0.25" filter="url(#bl2)"/>
<rect x="432.0" y="2348.0" width="44.0" height="10.0" rx="5.0" fill="#000" fill-opacity="1.0" filter="url(#bl2)"/>
<rect x="474.0" y="2347.0" width="44.0" height="10.0" rx="5.0" fill="#000" fill-opacity="1.0" filter="url(#bl2)"/>
<rect x="507.0" y="2344.0" width="12.0" height="10.0" rx="5.0" fill="#000" fill-opacity="1.0" filter="url(#bl2)"/>
</g>
<rect x="337.95" y="2326.75" width="200.30" height="46.90" fill="none" stroke="#000" stroke-width="2.5"/>
<g clip-path="url(#bc28)">
<rect x="131.20" y="2381.10" width="201.50" height="57.80" fill="#e6e6e6"/>
<rect x="131.2" y="2381.1" width="201.5" height="57.80000000000018" filter="url(#grain)" opacity="0.14"/>
</g>
<rect x="132.45" y="2382.35" width="199.00" height="55.30" fill="none" stroke="#000" stroke-width="2.5"/>
<g clip-path="url(#bc29)">
<rect x="336.70" y="2381.10" width="202.80" height="57.80" fill="#e6e6e6"/>
<rect x="336.7" y="2381.1" width="202.8" height="57.80000000000018" filter="url(#grain)" opacity="0.11"/>
<rect x="346.0" y="2399.5" width="38.0" height="7.0" rx="3.5" fill="#000" fill-opacity="1.0" filter="url(#bl2)"/>
<rect x="437.0" y="2408.5" width="30.0" height="7.0" rx="3.5" fill="#000" fill-opacity="1.0" filter="url(#bl2)"/>
<rect x="456.0" y="2413.0" width="18.0" height="6.0" rx="3.0" fill="#000" fill-opacity="0.9" filter="url(#bl2)"/>
<rect x="491.0" y="2421.5" width="28.0" height="3.0" rx="1.5" fill="#000" fill-opacity="0.25" filter="url(#bl2)"/>
</g>
<rect x="337.95" y="2382.35" width="200.30" height="55.30" fill="none" stroke="#000" stroke-width="2.5"/>
<g clip-path="url(#bc30)">
<rect x="131.20" y="2444.70" width="201.50" height="50.30" fill="#e8e8e8"/>
<rect x="131.2" y="2444.7" width="201.5" height="50.30000000000018" filter="url(#grain)" opacity="0.12"/>
<rect x="140.0" y="2473.0" width="44.0" height="6.0" rx="3.0" fill="#000" fill-opacity="1.0" filter="url(#bl2)"/>
<rect x="187.0" y="2474.0" width="46.0" height="6.0" rx="3.0" fill="#000" fill-opacity="1.0" filter="url(#bl2)"/>
<rect x="234.0" y="2472.5" width="44.0" height="7.0" rx="3.5" fill="#000" fill-opacity="1.0" filter="url(#bl2)"/>
<rect x="277.0" y="2468.0" width="36.0" height="6.0" rx="3.0" fill="#000" fill-opacity="0.95" filter="url(#bl2)"/>
<rect x="308.0" y="2462.5" width="14.0" height="7.0" rx="3.5" fill="#000" fill-opacity="1.0" filter="url(#bl2)"/>
</g>
<rect x="132.45" y="2445.95" width="199.00" height="47.80" fill="none" stroke="#000" stroke-width="2.5"/>
<g clip-path="url(#bc31)">
<rect x="336.70" y="2444.70" width="202.80" height="50.30" fill="#e8e8e8"/>
<rect x="336.7" y="2444.7" width="202.8" height="50.30000000000018" filter="url(#grain)" opacity="0.12"/>
<rect x="342.0" y="2468.5" width="40.0" height="7.0" rx="3.5" fill="#000" fill-opacity="1.0" filter="url(#bl2)"/>
<rect x="387.0" y="2472.0" width="46.0" height="6.0" rx="3.0" fill="#000" fill-opacity="1.0" filter="url(#bl2)"/>
<rect x="434.0" y="2470.0" width="44.0" height="6.0" rx="3.0" fill="#000" fill-opacity="1.0" filter="url(#bl2)"/>
<rect x="482.0" y="2469.0" width="40.0" height="6.0" rx="3.0" fill="#000" fill-opacity="1.0" filter="url(#bl2)"/>
</g>
<rect x="337.95" y="2445.95" width="200.30" height="47.80" fill="none" stroke="#000" stroke-width="2.5"/>
<text x="64.50" y="1994.76" font-size="24.03" font-weight="bold" textLength="33.32" lengthAdjust="spacingAndGlyphs">180</text>
<line x1="104.50" y1="1988.30" x2="120.00" y2="1988.30" stroke="#000" stroke-width="1.5"/>
<text x="66.70" y="2020.00" font-size="23.66" font-weight="bold" textLength="33.32" lengthAdjust="spacingAndGlyphs">135</text>
<line x1="104.50" y1="2012.70" x2="120.00" y2="2012.70" stroke="#000" stroke-width="1.5"/>
<text x="66.70" y="2066.70" font-size="23.94" font-weight="bold" textLength="33.32" lengthAdjust="spacingAndGlyphs">135</text>
<line x1="104.50" y1="2058.00" x2="120.00" y2="2058.00" stroke="#000" stroke-width="1.5"/>
<text x="77.80" y="2114.76" font-size="24.03" font-weight="bold" textLength="22.20" lengthAdjust="spacingAndGlyphs">25</text>
<line x1="104.50" y1="2106.70" x2="120.00" y2="2106.70" stroke="#000" stroke-width="1.5"/>
<text x="81.00" y="2242.76" font-size="24.03" font-weight="bold" textLength="22.00" lengthAdjust="spacingAndGlyphs">48</text>
<line x1="106.00" y1="2234.30" x2="122.00" y2="2234.30" stroke="#000" stroke-width="1.5"/>
<text x="69.00" y="2354.70" font-size="23.94" font-weight="bold" textLength="34.02" lengthAdjust="spacingAndGlyphs">135</text>
<line x1="106.00" y1="2346.90" x2="122.00" y2="2346.90" stroke="#000" stroke-width="1.5"/>
<text x="80.00" y="2410.70" font-size="23.94" font-weight="bold" textLength="23.00" lengthAdjust="spacingAndGlyphs">63</text>
<line x1="106.00" y1="2402.50" x2="122.00" y2="2402.50" stroke="#000" stroke-width="1.5"/>
<text x="546.20" y="2013.32" font-size="28.27" font-weight="bold" textLength="71.13" lengthAdjust="spacingAndGlyphs">CFTR</text>
<text x="550.60" y="2071.13" font-size="27.21" font-weight="bold" textLength="78.73" lengthAdjust="spacingAndGlyphs">E-cad.</text>
<text x="550.60" y="2137.52" font-size="28.27" font-weight="bold" textLength="94.28" lengthAdjust="spacingAndGlyphs">TWIST1</text>
<text x="547.00" y="2188.75" font-size="25.44" font-weight="bold" textLength="64.50" lengthAdjust="spacingAndGlyphs">Caln.</text>
<text x="547.00" y="2247.42" font-size="27.84" font-weight="bold" textLength="67.58" lengthAdjust="spacingAndGlyphs">CK18</text>
<text x="547.00" y="2296.33" font-size="26.67" font-weight="bold" textLength="64.50" lengthAdjust="spacingAndGlyphs">Caln.</text>
<text x="548.00" y="2366.63" font-size="27.21" font-weight="bold" textLength="79.97" lengthAdjust="spacingAndGlyphs">N-cad.</text>
<text x="548.00" y="2432.70" font-size="28.28" font-weight="bold" textLength="48.03" lengthAdjust="spacingAndGlyphs">Vim</text>
<text x="548.00" y="2482.23" font-size="27.21" font-weight="bold" textLength="65.70" lengthAdjust="spacingAndGlyphs">Caln.</text>
<path d="M690.5,1637 L690.5,1667 C690.5,1675.3 685.5,1678.8 680.2,1678.8 C674.6,1678.8 671,1675 670.6,1668.3" fill="none" stroke="#000" stroke-width="5.4"/>
<text x="0.00" y="0.00" font-size="33.36" font-weight="bold" textLength="77.39" lengthAdjust="spacingAndGlyphs" transform="translate(713.57,1835.80) rotate(-90)">CFBE</text>
<text x="0.00" y="0.00" font-size="31.38" font-weight="bold" textLength="123.15" lengthAdjust="spacingAndGlyphs" transform="translate(750.69,1859.35) rotate(-90)">wt-CFTR</text>
<text x="0.00" y="0.00" font-size="33.36" font-weight="bold" textLength="79.19" lengthAdjust="spacingAndGlyphs" transform="translate(713.57,2238.60) rotate(-90)">CFBE</text>
<text x="0.00" y="0.00" font-size="32.11" font-weight="bold" textLength="202.23" lengthAdjust="spacingAndGlyphs" transform="translate(750.68,2300.90) rotate(-90)">F508del-CFTR</text>
<line x1="886.40" y1="1669.05" x2="886.40" y2="1927.25" stroke="#000" stroke-width="2.3" stroke-linecap="butt"/>
<line x1="879.00" y1="1926.10" x2="1229.00" y2="1926.10" stroke="#000" stroke-width="2.3"/>
<line x1="879.00" y1="1669.00" x2="886.40" y2="1669.00" stroke="#000" stroke-width="2.3"/>
<line x1="879.00" y1="1754.70" x2="886.40" y2="1754.70" stroke="#000" stroke-width="2.3"/>
<line x1="879.00" y1="1840.40" x2="886.40" y2="1840.40" stroke="#000" stroke-width="2.3"/>
<line x1="879.00" y1="1926.10" x2="886.40" y2="1926.10" stroke="#000" stroke-width="2.3"/>
<line x1="929.00" y1="1926.10" x2="929.00" y2="1933.10" stroke="#000" stroke-width="2.3"/>
<line x1="1014.90" y1="1926.10" x2="1014.90" y2="1933.10" stroke="#000" stroke-width="2.3"/>
<line x1="1100.50" y1="1926.10" x2="1100.50" y2="1933.10" stroke="#000" stroke-width="2.3"/>
<line x1="1186.50" y1="1926.10" x2="1186.50" y2="1933.10" stroke="#000" stroke-width="2.3"/>
<line x1="901.65" y1="1782.30" x2="901.65" y2="1757.70" stroke="#000" stroke-width="2.0"/>
<line x1="898.65" y1="1757.70" x2="904.65" y2="1757.70" stroke="#000" stroke-width="2.4"/>
<rect x="894.80" y="1781.30" width="13.70" height="144.80" fill="#000"/>
<line x1="920.05" y1="1809.90" x2="920.05" y2="1782.00" stroke="#000" stroke-width="2.0"/>
<line x1="917.05" y1="1782.00" x2="923.05" y2="1782.00" stroke="#000" stroke-width="2.4"/>
<rect x="914.20" y="1809.90" width="11.70" height="115.20" fill="#fff" stroke="#000" stroke-width="2.0"/>
<line x1="938.45" y1="1837.90" x2="938.45" y2="1810.60" stroke="#000" stroke-width="2.0"/>
<line x1="935.45" y1="1810.60" x2="941.45" y2="1810.60" stroke="#000" stroke-width="2.4"/>
<rect x="931.60" y="1836.90" width="13.70" height="89.20" fill="#000"/>
<line x1="933.60" y1="1843.54" x2="943.30" y2="1843.54" stroke="#f4f4f4" stroke-width="1.9"/>
<line x1="933.60" y1="1852.39" x2="943.30" y2="1852.39" stroke="#8a8a8a" stroke-width="1.9"/>
<line x1="933.60" y1="1861.24" x2="943.30" y2="1861.24" stroke="#f4f4f4" stroke-width="1.9"/>
<line x1="933.60" y1="1870.09" x2="943.30" y2="1870.09" stroke="#8a8a8a" stroke-width="1.9"/>
<line x1="933.60" y1="1878.94" x2="943.30" y2="1878.94" stroke="#f4f4f4" stroke-width="1.9"/>
<line x1="933.60" y1="1887.79" x2="943.30" y2="1887.79" stroke="#8a8a8a" stroke-width="1.9"/>
<line x1="933.60" y1="1896.64" x2="943.30" y2="1896.64" stroke="#f4f4f4" stroke-width="1.9"/>
<line x1="933.60" y1="1905.49" x2="943.30" y2="1905.49" stroke="#8a8a8a" stroke-width="1.9"/>
<line x1="933.60" y1="1914.34" x2="943.30" y2="1914.34" stroke="#f4f4f4" stroke-width="1.9"/>
<line x1="933.60" y1="1923.19" x2="943.30" y2="1923.19" stroke="#8a8a8a" stroke-width="1.9"/>
<line x1="956.45" y1="1825.00" x2="956.45" y2="1801.10" stroke="#000" stroke-width="2.0"/>
<line x1="953.45" y1="1801.10" x2="959.45" y2="1801.10" stroke="#000" stroke-width="2.4"/>
<rect x="950.60" y="1825.00" width="11.70" height="100.10" fill="#fff" stroke="#000" stroke-width="2.0"/>
<line x1="956.45" y1="1826.00" x2="956.45" y2="1925.10" stroke="#7a7a7a" stroke-width="1.6"/>
<line x1="987.55" y1="1695.30" x2="987.55" y2="1671.80" stroke="#000" stroke-width="2.0"/>
<line x1="984.55" y1="1671.80" x2="990.55" y2="1671.80" stroke="#000" stroke-width="2.4"/>
<rect x="980.70" y="1694.30" width="13.70" height="231.80" fill="#000"/>
<line x1="1005.95" y1="1740.20" x2="1005.95" y2="1717.90" stroke="#000" stroke-width="2.0"/>
<line x1="1002.95" y1="1717.90" x2="1008.95" y2="1717.90" stroke="#000" stroke-width="2.4"/>
<rect x="1000.10" y="1740.20" width="11.70" height="184.90" fill="#fff" stroke="#000" stroke-width="2.0"/>
<line x1="1024.35" y1="1807.50" x2="1024.35" y2="1783.60" stroke="#000" stroke-width="2.0"/>
<line x1="1021.35" y1="1783.60" x2="1027.35" y2="1783.60" stroke="#000" stroke-width="2.4"/>
<rect x="1017.50" y="1806.50" width="13.70" height="119.60" fill="#000"/>
<line x1="1019.50" y1="1813.14" x2="1029.20" y2="1813.14" stroke="#f4f4f4" stroke-width="1.9"/>
<line x1="1019.50" y1="1821.99" x2="1029.20" y2="1821.99" stroke="#8a8a8a" stroke-width="1.9"/>
<line x1="1019.50" y1="1830.84" x2="1029.20" y2="1830.84" stroke="#f4f4f4" stroke-width="1.9"/>
<line x1="1019.50" y1="1839.69" x2="1029.20" y2="1839.69" stroke="#8a8a8a" stroke-width="1.9"/>
<line x1="1019.50" y1="1848.54" x2="1029.20" y2="1848.54" stroke="#f4f4f4" stroke-width="1.9"/>
<line x1="1019.50" y1="1857.39" x2="1029.20" y2="1857.39" stroke="#8a8a8a" stroke-width="1.9"/>
<line x1="1019.50" y1="1866.24" x2="1029.20" y2="1866.24" stroke="#f4f4f4" stroke-width="1.9"/>
<line x1="1019.50" y1="1875.09" x2="1029.20" y2="1875.09" stroke="#8a8a8a" stroke-width="1.9"/>
<line x1="1019.50" y1="1883.94" x2="1029.20" y2="1883.94" stroke="#f4f4f4" stroke-width="1.9"/>
<line x1="1019.50" y1="1892.79" x2="1029.20" y2="1892.79" stroke="#8a8a8a" stroke-width="1.9"/>
<line x1="1019.50" y1="1901.64" x2="1029.20" y2="1901.64" stroke="#f4f4f4" stroke-width="1.9"/>
<line x1="1019.50" y1="1910.49" x2="1029.20" y2="1910.49" stroke="#8a8a8a" stroke-width="1.9"/>
<line x1="1019.50" y1="1919.34" x2="1029.20" y2="1919.34" stroke="#f4f4f4" stroke-width="1.9"/>
<line x1="1042.35" y1="1777.90" x2="1042.35" y2="1774.20" stroke="#000" stroke-width="2.0"/>
<line x1="1039.35" y1="1774.20" x2="1045.35" y2="1774.20" stroke="#000" stroke-width="2.4"/>
<rect x="1036.50" y="1777.90" width="11.70" height="147.20" fill="#fff" stroke="#000" stroke-width="2.0"/>
<line x1="1042.35" y1="1778.90" x2="1042.35" y2="1925.10" stroke="#7a7a7a" stroke-width="1.6"/>
<line x1="1073.15" y1="1914.30" x2="1073.15" y2="1910.50" stroke="#000" stroke-width="2.0"/>
<line x1="1070.15" y1="1910.50" x2="1076.15" y2="1910.50" stroke="#000" stroke-width="2.4"/>
<rect x="1066.30" y="1913.30" width="13.70" height="12.80" fill="#000"/>
<line x1="1091.55" y1="1915.00" x2="1091.55" y2="1911.00" stroke="#000" stroke-width="2.0"/>
<line x1="1088.55" y1="1911.00" x2="1094.55" y2="1911.00" stroke="#000" stroke-width="2.4"/>
<rect x="1085.70" y="1915.00" width="11.70" height="10.10" fill="#fff" stroke="#000" stroke-width="2.0"/>
<line x1="1109.95" y1="1814.30" x2="1109.95" y2="1789.40" stroke="#000" stroke-width="2.0"/>
<line x1="1106.95" y1="1789.40" x2="1112.95" y2="1789.40" stroke="#000" stroke-width="2.4"/>
<rect x="1103.10" y="1813.30" width="13.70" height="112.80" fill="#000"/>
<line x1="1105.10" y1="1819.94" x2="1114.80" y2="1819.94" stroke="#f4f4f4" stroke-width="1.9"/>
<line x1="1105.10" y1="1828.79" x2="1114.80" y2="1828.79" stroke="#8a8a8a" stroke-width="1.9"/>
<line x1="1105.10" y1="1837.64" x2="1114.80" y2="1837.64" stroke="#f4f4f4" stroke-width="1.9"/>
<line x1="1105.10" y1="1846.49" x2="1114.80" y2="1846.49" stroke="#8a8a8a" stroke-width="1.9"/>
<line x1="1105.10" y1="1855.34" x2="1114.80" y2="1855.34" stroke="#f4f4f4" stroke-width="1.9"/>
<line x1="1105.10" y1="1864.19" x2="1114.80" y2="1864.19" stroke="#8a8a8a" stroke-width="1.9"/>
<line x1="1105.10" y1="1873.04" x2="1114.80" y2="1873.04" stroke="#f4f4f4" stroke-width="1.9"/>
<line x1="1105.10" y1="1881.89" x2="1114.80" y2="1881.89" stroke="#8a8a8a" stroke-width="1.9"/>
<line x1="1105.10" y1="1890.74" x2="1114.80" y2="1890.74" stroke="#f4f4f4" stroke-width="1.9"/>
<line x1="1105.10" y1="1899.59" x2="1114.80" y2="1899.59" stroke="#8a8a8a" stroke-width="1.9"/>
<line x1="1105.10" y1="1908.44" x2="1114.80" y2="1908.44" stroke="#f4f4f4" stroke-width="1.9"/>
<line x1="1105.10" y1="1917.29" x2="1114.80" y2="1917.29" stroke="#8a8a8a" stroke-width="1.9"/>
<line x1="1127.95" y1="1809.90" x2="1127.95" y2="1774.50" stroke="#000" stroke-width="2.0"/>
<line x1="1124.95" y1="1774.50" x2="1130.95" y2="1774.50" stroke="#000" stroke-width="2.4"/>
<rect x="1122.10" y="1809.90" width="11.70" height="115.20" fill="#fff" stroke="#000" stroke-width="2.0"/>
<line x1="1127.95" y1="1810.90" x2="1127.95" y2="1925.10" stroke="#7a7a7a" stroke-width="1.6"/>
<rect x="1152.30" y="1924.50" width="13.70" height="1.60" fill="#000"/>
<rect x="1171.70" y="1925.50" width="11.70" height="-0.40" fill="#fff" stroke="#000" stroke-width="2.0"/>
<rect x="1189.10" y="1924.50" width="13.70" height="1.60" fill="#000"/>
<rect x="1208.10" y="1925.20" width="11.70" height="-0.10" fill="#fff" stroke="#000" stroke-width="2.0"/>
<line x1="1213.95" y1="1926.20" x2="1213.95" y2="1925.10" stroke="#7a7a7a" stroke-width="1.6"/>
<text x="1019.63" y="1771.51" font-size="19.00">#</text>
<text x="1038.13" y="1766.51" font-size="19.00">#</text>
<text x="1104.53" y="1773.31" font-size="19.00">#</text>
<text x="1123.73" y="1764.91" font-size="19.00">#</text>
<text x="862.64" y="1675.35" font-size="19.50" font-weight="bold" textLength="11.39" lengthAdjust="spacingAndGlyphs">3</text>
<text x="862.64" y="1761.05" font-size="19.50" font-weight="bold" textLength="11.39" lengthAdjust="spacingAndGlyphs">2</text>
<text x="862.64" y="1846.75" font-size="19.50" font-weight="bold" textLength="11.39" lengthAdjust="spacingAndGlyphs">1</text>
<text x="862.64" y="1932.45" font-size="19.50" font-weight="bold" textLength="11.39" lengthAdjust="spacingAndGlyphs">0</text>
<text x="0.00" y="0.00" font-size="19.84" font-weight="bold" textLength="193.62" lengthAdjust="spacingAndGlyphs" transform="translate(820.98,1893.00) rotate(-90)">Protein expression</text>
<text x="0.00" y="0.00" font-size="19.84" font-weight="bold" textLength="121.19" lengthAdjust="spacingAndGlyphs" transform="translate(847.88,1857.70) rotate(-90)">levels (A.U.)</text>
<text x="0.00" y="0.00" font-size="21.63" font-weight="bold" textLength="112.81" lengthAdjust="spacingAndGlyphs" transform="translate(936.78,2048.00) rotate(-90)">E-cadherin</text>
<text x="0.00" y="0.00" font-size="22.90" font-weight="bold" textLength="62.39" lengthAdjust="spacingAndGlyphs" transform="translate(1021.97,1997.60) rotate(-90)">CK-18</text>
<text x="0.00" y="0.00" font-size="21.36" font-weight="bold" textLength="112.82" lengthAdjust="spacingAndGlyphs" transform="translate(1107.79,2048.00) rotate(-90)">N-cadherin</text>
<text x="0.00" y="0.00" font-size="23.13" font-weight="bold" textLength="90.49" lengthAdjust="spacingAndGlyphs" transform="translate(1192.77,2027.30) rotate(-90)">Vimentin</text>
<line x1="1359.50" y1="1665.05" x2="1359.50" y2="1927.45" stroke="#000" stroke-width="2.3" stroke-linecap="butt"/>
<line x1="1351.00" y1="1926.30" x2="1447.30" y2="1926.30" stroke="#000" stroke-width="2.3"/>
<line x1="1351.00" y1="1665.00" x2="1359.50" y2="1665.00" stroke="#000" stroke-width="2.3"/>
<line x1="1351.00" y1="1730.33" x2="1359.50" y2="1730.33" stroke="#000" stroke-width="2.3"/>
<line x1="1351.00" y1="1795.65" x2="1359.50" y2="1795.65" stroke="#000" stroke-width="2.3"/>
<line x1="1351.00" y1="1860.97" x2="1359.50" y2="1860.97" stroke="#000" stroke-width="2.3"/>
<line x1="1351.00" y1="1926.30" x2="1359.50" y2="1926.30" stroke="#000" stroke-width="2.3"/>
<line x1="1402.70" y1="1926.30" x2="1402.70" y2="1934.30" stroke="#000" stroke-width="2.3"/>
<rect x="1363.00" y="1796.00" width="15.40" height="130.30" fill="#000"/>
<line x1="1392.85" y1="1839.00" x2="1392.85" y2="1832.80" stroke="#000" stroke-width="2.0"/>
<line x1="1389.85" y1="1832.80" x2="1395.85" y2="1832.80" stroke="#000" stroke-width="2.4"/>
<rect x="1386.70" y="1839.00" width="12.30" height="86.30" fill="#fff" stroke="#000" stroke-width="2.0"/>
<rect x="1406.70" y="1796.00" width="15.20" height="130.30" fill="#000"/>
<line x1="1408.70" y1="1802.64" x2="1419.90" y2="1802.64" stroke="#f4f4f4" stroke-width="1.9"/>
<line x1="1408.70" y1="1811.49" x2="1419.90" y2="1811.49" stroke="#8a8a8a" stroke-width="1.9"/>
<line x1="1408.70" y1="1820.34" x2="1419.90" y2="1820.34" stroke="#f4f4f4" stroke-width="1.9"/>
<line x1="1408.70" y1="1829.19" x2="1419.90" y2="1829.19" stroke="#8a8a8a" stroke-width="1.9"/>
<line x1="1408.70" y1="1838.04" x2="1419.90" y2="1838.04" stroke="#f4f4f4" stroke-width="1.9"/>
<line x1="1408.70" y1="1846.89" x2="1419.90" y2="1846.89" stroke="#8a8a8a" stroke-width="1.9"/>
<line x1="1408.70" y1="1855.74" x2="1419.90" y2="1855.74" stroke="#f4f4f4" stroke-width="1.9"/>
<line x1="1408.70" y1="1864.59" x2="1419.90" y2="1864.59" stroke="#8a8a8a" stroke-width="1.9"/>
<line x1="1408.70" y1="1873.44" x2="1419.90" y2="1873.44" stroke="#f4f4f4" stroke-width="1.9"/>
<line x1="1408.70" y1="1882.29" x2="1419.90" y2="1882.29" stroke="#8a8a8a" stroke-width="1.9"/>
<line x1="1408.70" y1="1891.14" x2="1419.90" y2="1891.14" stroke="#f4f4f4" stroke-width="1.9"/>
<line x1="1408.70" y1="1899.99" x2="1419.90" y2="1899.99" stroke="#8a8a8a" stroke-width="1.9"/>
<line x1="1408.70" y1="1908.84" x2="1419.90" y2="1908.84" stroke="#f4f4f4" stroke-width="1.9"/>
<line x1="1408.70" y1="1917.69" x2="1419.90" y2="1917.69" stroke="#8a8a8a" stroke-width="1.9"/>
<line x1="1436.45" y1="1751.70" x2="1436.45" y2="1704.30" stroke="#000" stroke-width="2.0"/>
<line x1="1433.45" y1="1704.30" x2="1439.45" y2="1704.30" stroke="#000" stroke-width="2.4"/>
<rect x="1430.00" y="1751.70" width="12.90" height="173.60" fill="#fff" stroke="#000" stroke-width="2.0"/>
<line x1="1436.45" y1="1752.70" x2="1436.45" y2="1925.30" stroke="#7a7a7a" stroke-width="1.6"/>
<text x="1386.45" y="1835.85" font-size="30.00">*</text>
<text x="1313.87" y="1671.35" font-size="19.50" font-weight="bold" textLength="32.53" lengthAdjust="spacingAndGlyphs">2.0</text>
<text x="1313.87" y="1736.67" font-size="19.50" font-weight="bold" textLength="32.53" lengthAdjust="spacingAndGlyphs">1.5</text>
<text x="1313.87" y="1802.00" font-size="19.50" font-weight="bold" textLength="32.53" lengthAdjust="spacingAndGlyphs">1.0</text>
<text x="1313.87" y="1867.32" font-size="19.50" font-weight="bold" textLength="32.53" lengthAdjust="spacingAndGlyphs">0.5</text>
<text x="1313.87" y="1932.65" font-size="19.50" font-weight="bold" textLength="32.53" lengthAdjust="spacingAndGlyphs">0.0</text>
<text x="0.00" y="0.00" font-size="18.23" font-weight="bold" textLength="197.92" lengthAdjust="spacingAndGlyphs" transform="translate(1274.42,1893.60) rotate(-90)">Protein expression</text>
<text x="0.00" y="0.00" font-size="21.13" font-weight="bold" textLength="125.79" lengthAdjust="spacingAndGlyphs" transform="translate(1304.02,1858.20) rotate(-90)">levels (A.U.)</text>
<text x="0.00" y="0.00" font-size="22.19" font-weight="bold" textLength="77.38" lengthAdjust="spacingAndGlyphs" transform="translate(1409.08,2019.40) rotate(-90)">TWIST1</text>
<line x1="886.40" y1="2079.55" x2="886.40" y2="2330.65" stroke="#000" stroke-width="2.3" stroke-linecap="butt"/>
<line x1="879.00" y1="2329.50" x2="1221.10" y2="2329.50" stroke="#000" stroke-width="2.3"/>
<line x1="879.00" y1="2079.50" x2="886.40" y2="2079.50" stroke="#000" stroke-width="2.3"/>
<line x1="879.00" y1="2204.50" x2="886.40" y2="2204.50" stroke="#000" stroke-width="2.3"/>
<line x1="879.00" y1="2329.50" x2="886.40" y2="2329.50" stroke="#000" stroke-width="2.3"/>
<line x1="928.20" y1="2329.50" x2="928.20" y2="2336.50" stroke="#000" stroke-width="2.3"/>
<line x1="1011.80" y1="2329.50" x2="1011.80" y2="2336.50" stroke="#000" stroke-width="2.3"/>
<line x1="1095.20" y1="2329.50" x2="1095.20" y2="2336.50" stroke="#000" stroke-width="2.3"/>
<line x1="1178.70" y1="2329.50" x2="1178.70" y2="2336.50" stroke="#000" stroke-width="2.3"/>
<line x1="901.20" y1="2146.20" x2="901.20" y2="2101.10" stroke="#000" stroke-width="2.0"/>
<line x1="898.20" y1="2101.10" x2="904.20" y2="2101.10" stroke="#000" stroke-width="2.4"/>
<rect x="894.80" y="2145.20" width="12.80" height="184.30" fill="#000"/>
<line x1="919.70" y1="2143.50" x2="919.70" y2="2098.70" stroke="#000" stroke-width="2.0"/>
<line x1="916.70" y1="2098.70" x2="922.70" y2="2098.70" stroke="#000" stroke-width="2.4"/>
<rect x="914.30" y="2143.50" width="10.80" height="185.00" fill="#fff" stroke="#000" stroke-width="2.0"/>
<line x1="937.60" y1="2214.30" x2="937.60" y2="2179.60" stroke="#000" stroke-width="2.0"/>
<line x1="934.60" y1="2179.60" x2="940.60" y2="2179.60" stroke="#000" stroke-width="2.4"/>
<rect x="931.20" y="2213.30" width="12.80" height="116.20" fill="#000"/>
<line x1="933.20" y1="2219.94" x2="942.00" y2="2219.94" stroke="#f4f4f4" stroke-width="1.9"/>
<line x1="933.20" y1="2228.79" x2="942.00" y2="2228.79" stroke="#8a8a8a" stroke-width="1.9"/>
<line x1="933.20" y1="2237.64" x2="942.00" y2="2237.64" stroke="#f4f4f4" stroke-width="1.9"/>
<line x1="933.20" y1="2246.49" x2="942.00" y2="2246.49" stroke="#8a8a8a" stroke-width="1.9"/>
<line x1="933.20" y1="2255.34" x2="942.00" y2="2255.34" stroke="#f4f4f4" stroke-width="1.9"/>
<line x1="933.20" y1="2264.19" x2="942.00" y2="2264.19" stroke="#8a8a8a" stroke-width="1.9"/>
<line x1="933.20" y1="2273.04" x2="942.00" y2="2273.04" stroke="#f4f4f4" stroke-width="1.9"/>
<line x1="933.20" y1="2281.89" x2="942.00" y2="2281.89" stroke="#8a8a8a" stroke-width="1.9"/>
<line x1="933.20" y1="2290.74" x2="942.00" y2="2290.74" stroke="#f4f4f4" stroke-width="1.9"/>
<line x1="933.20" y1="2299.59" x2="942.00" y2="2299.59" stroke="#8a8a8a" stroke-width="1.9"/>
<line x1="933.20" y1="2308.44" x2="942.00" y2="2308.44" stroke="#f4f4f4" stroke-width="1.9"/>
<line x1="933.20" y1="2317.29" x2="942.00" y2="2317.29" stroke="#8a8a8a" stroke-width="1.9"/>
<line x1="933.20" y1="2326.14" x2="942.00" y2="2326.14" stroke="#f4f4f4" stroke-width="1.9"/>
<line x1="955.40" y1="2200.20" x2="955.40" y2="2183.70" stroke="#000" stroke-width="2.0"/>
<line x1="952.40" y1="2183.70" x2="958.40" y2="2183.70" stroke="#000" stroke-width="2.4"/>
<rect x="950.00" y="2200.20" width="10.80" height="128.30" fill="#fff" stroke="#000" stroke-width="2.0"/>
<line x1="955.40" y1="2201.20" x2="955.40" y2="2328.50" stroke="#7a7a7a" stroke-width="1.6"/>
<line x1="984.80" y1="2205.90" x2="984.80" y2="2171.90" stroke="#000" stroke-width="2.0"/>
<line x1="981.80" y1="2171.90" x2="987.80" y2="2171.90" stroke="#000" stroke-width="2.4"/>
<rect x="978.40" y="2204.90" width="12.80" height="124.60" fill="#000"/>
<line x1="1003.30" y1="2178.20" x2="1003.30" y2="2133.10" stroke="#000" stroke-width="2.0"/>
<line x1="1000.30" y1="2133.10" x2="1006.30" y2="2133.10" stroke="#000" stroke-width="2.4"/>
<rect x="997.90" y="2178.20" width="10.80" height="150.30" fill="#fff" stroke="#000" stroke-width="2.0"/>
<line x1="1021.20" y1="2244.00" x2="1021.20" y2="2217.30" stroke="#000" stroke-width="2.0"/>
<line x1="1018.20" y1="2217.30" x2="1024.20" y2="2217.30" stroke="#000" stroke-width="2.4"/>
<rect x="1014.80" y="2243.00" width="12.80" height="86.50" fill="#000"/>
<line x1="1016.80" y1="2249.64" x2="1025.60" y2="2249.64" stroke="#f4f4f4" stroke-width="1.9"/>
<line x1="1016.80" y1="2258.49" x2="1025.60" y2="2258.49" stroke="#8a8a8a" stroke-width="1.9"/>
<line x1="1016.80" y1="2267.34" x2="1025.60" y2="2267.34" stroke="#f4f4f4" stroke-width="1.9"/>
<line x1="1016.80" y1="2276.19" x2="1025.60" y2="2276.19" stroke="#8a8a8a" stroke-width="1.9"/>
<line x1="1016.80" y1="2285.04" x2="1025.60" y2="2285.04" stroke="#f4f4f4" stroke-width="1.9"/>
<line x1="1016.80" y1="2293.89" x2="1025.60" y2="2293.89" stroke="#8a8a8a" stroke-width="1.9"/>
<line x1="1016.80" y1="2302.74" x2="1025.60" y2="2302.74" stroke="#f4f4f4" stroke-width="1.9"/>
<line x1="1016.80" y1="2311.59" x2="1025.60" y2="2311.59" stroke="#8a8a8a" stroke-width="1.9"/>
<line x1="1016.80" y1="2320.44" x2="1025.60" y2="2320.44" stroke="#f4f4f4" stroke-width="1.9"/>
<line x1="1039.00" y1="2189.00" x2="1039.00" y2="2163.40" stroke="#000" stroke-width="2.0"/>
<line x1="1036.00" y1="2163.40" x2="1042.00" y2="2163.40" stroke="#000" stroke-width="2.4"/>
<rect x="1033.60" y="2189.00" width="10.80" height="139.50" fill="#fff" stroke="#000" stroke-width="2.0"/>
<line x1="1039.00" y1="2190.00" x2="1039.00" y2="2328.50" stroke="#7a7a7a" stroke-width="1.6"/>
<line x1="1068.20" y1="2310.30" x2="1068.20" y2="2306.00" stroke="#000" stroke-width="2.0"/>
<line x1="1065.20" y1="2306.00" x2="1071.20" y2="2306.00" stroke="#000" stroke-width="2.4"/>
<rect x="1061.80" y="2309.30" width="12.80" height="20.20" fill="#000"/>
<line x1="1086.70" y1="2306.00" x2="1086.70" y2="2301.00" stroke="#000" stroke-width="2.0"/>
<line x1="1083.70" y1="2301.00" x2="1089.70" y2="2301.00" stroke="#000" stroke-width="2.4"/>
<rect x="1081.30" y="2306.00" width="10.80" height="22.50" fill="#fff" stroke="#000" stroke-width="2.0"/>
<line x1="1104.60" y1="2181.30" x2="1104.60" y2="2167.10" stroke="#000" stroke-width="2.0"/>
<line x1="1101.60" y1="2167.10" x2="1107.60" y2="2167.10" stroke="#000" stroke-width="2.4"/>
<rect x="1098.20" y="2180.30" width="12.80" height="149.20" fill="#000"/>
<line x1="1100.20" y1="2186.94" x2="1109.00" y2="2186.94" stroke="#f4f4f4" stroke-width="1.9"/>
<line x1="1100.20" y1="2195.79" x2="1109.00" y2="2195.79" stroke="#8a8a8a" stroke-width="1.9"/>
<line x1="1100.20" y1="2204.64" x2="1109.00" y2="2204.64" stroke="#f4f4f4" stroke-width="1.9"/>
<line x1="1100.20" y1="2213.49" x2="1109.00" y2="2213.49" stroke="#8a8a8a" stroke-width="1.9"/>
<line x1="1100.20" y1="2222.34" x2="1109.00" y2="2222.34" stroke="#f4f4f4" stroke-width="1.9"/>
<line x1="1100.20" y1="2231.19" x2="1109.00" y2="2231.19" stroke="#8a8a8a" stroke-width="1.9"/>
<line x1="1100.20" y1="2240.04" x2="1109.00" y2="2240.04" stroke="#f4f4f4" stroke-width="1.9"/>
<line x1="1100.20" y1="2248.89" x2="1109.00" y2="2248.89" stroke="#8a8a8a" stroke-width="1.9"/>
<line x1="1100.20" y1="2257.74" x2="1109.00" y2="2257.74" stroke="#f4f4f4" stroke-width="1.9"/>
<line x1="1100.20" y1="2266.59" x2="1109.00" y2="2266.59" stroke="#8a8a8a" stroke-width="1.9"/>
<line x1="1100.20" y1="2275.44" x2="1109.00" y2="2275.44" stroke="#f4f4f4" stroke-width="1.9"/>
<line x1="1100.20" y1="2284.29" x2="1109.00" y2="2284.29" stroke="#8a8a8a" stroke-width="1.9"/>
<line x1="1100.20" y1="2293.14" x2="1109.00" y2="2293.14" stroke="#f4f4f4" stroke-width="1.9"/>
<line x1="1100.20" y1="2301.99" x2="1109.00" y2="2301.99" stroke="#8a8a8a" stroke-width="1.9"/>
<line x1="1100.20" y1="2310.84" x2="1109.00" y2="2310.84" stroke="#f4f4f4" stroke-width="1.9"/>
<line x1="1100.20" y1="2319.69" x2="1109.00" y2="2319.69" stroke="#8a8a8a" stroke-width="1.9"/>
<line x1="1122.40" y1="2220.40" x2="1122.40" y2="2201.50" stroke="#000" stroke-width="2.0"/>
<line x1="1119.40" y1="2201.50" x2="1125.40" y2="2201.50" stroke="#000" stroke-width="2.4"/>
<rect x="1117.00" y="2220.40" width="10.80" height="108.10" fill="#fff" stroke="#000" stroke-width="2.0"/>
<line x1="1122.40" y1="2221.40" x2="1122.40" y2="2328.50" stroke="#7a7a7a" stroke-width="1.6"/>
<line x1="1151.70" y1="2247.60" x2="1151.70" y2="2231.70" stroke="#000" stroke-width="2.0"/>
<line x1="1148.70" y1="2231.70" x2="1154.70" y2="2231.70" stroke="#000" stroke-width="2.4"/>
<rect x="1145.30" y="2246.60" width="12.80" height="82.90" fill="#000"/>
<line x1="1170.20" y1="2322.60" x2="1170.20" y2="2320.00" stroke="#000" stroke-width="2.0"/>
<line x1="1167.20" y1="2320.00" x2="1173.20" y2="2320.00" stroke="#000" stroke-width="2.4"/>
<rect x="1164.80" y="2322.60" width="10.80" height="5.90" fill="#fff" stroke="#000" stroke-width="2.0"/>
<line x1="1188.10" y1="2186.30" x2="1188.10" y2="2184.00" stroke="#000" stroke-width="2.0"/>
<line x1="1185.10" y1="2184.00" x2="1191.10" y2="2184.00" stroke="#000" stroke-width="2.4"/>
<rect x="1181.70" y="2185.30" width="12.80" height="144.20" fill="#000"/>
<line x1="1183.70" y1="2191.94" x2="1192.50" y2="2191.94" stroke="#f4f4f4" stroke-width="1.9"/>
<line x1="1183.70" y1="2200.79" x2="1192.50" y2="2200.79" stroke="#8a8a8a" stroke-width="1.9"/>
<line x1="1183.70" y1="2209.64" x2="1192.50" y2="2209.64" stroke="#f4f4f4" stroke-width="1.9"/>
<line x1="1183.70" y1="2218.49" x2="1192.50" y2="2218.49" stroke="#8a8a8a" stroke-width="1.9"/>
<line x1="1183.70" y1="2227.34" x2="1192.50" y2="2227.34" stroke="#f4f4f4" stroke-width="1.9"/>
<line x1="1183.70" y1="2236.19" x2="1192.50" y2="2236.19" stroke="#8a8a8a" stroke-width="1.9"/>
<line x1="1183.70" y1="2245.04" x2="1192.50" y2="2245.04" stroke="#f4f4f4" stroke-width="1.9"/>
<line x1="1183.70" y1="2253.89" x2="1192.50" y2="2253.89" stroke="#8a8a8a" stroke-width="1.9"/>
<line x1="1183.70" y1="2262.74" x2="1192.50" y2="2262.74" stroke="#f4f4f4" stroke-width="1.9"/>
<line x1="1183.70" y1="2271.59" x2="1192.50" y2="2271.59" stroke="#8a8a8a" stroke-width="1.9"/>
<line x1="1183.70" y1="2280.44" x2="1192.50" y2="2280.44" stroke="#f4f4f4" stroke-width="1.9"/>
<line x1="1183.70" y1="2289.29" x2="1192.50" y2="2289.29" stroke="#8a8a8a" stroke-width="1.9"/>
<line x1="1183.70" y1="2298.14" x2="1192.50" y2="2298.14" stroke="#f4f4f4" stroke-width="1.9"/>
<line x1="1183.70" y1="2306.99" x2="1192.50" y2="2306.99" stroke="#8a8a8a" stroke-width="1.9"/>
<line x1="1183.70" y1="2315.84" x2="1192.50" y2="2315.84" stroke="#f4f4f4" stroke-width="1.9"/>
<line x1="1183.70" y1="2324.69" x2="1192.50" y2="2324.69" stroke="#8a8a8a" stroke-width="1.9"/>
<line x1="1205.90" y1="2316.60" x2="1205.90" y2="2311.60" stroke="#000" stroke-width="2.0"/>
<line x1="1202.90" y1="2311.60" x2="1208.90" y2="2311.60" stroke="#000" stroke-width="2.4"/>
<rect x="1200.50" y="2316.60" width="10.80" height="11.90" fill="#fff" stroke="#000" stroke-width="2.0"/>
<line x1="1205.90" y1="2317.60" x2="1205.90" y2="2328.50" stroke="#7a7a7a" stroke-width="1.6"/>
<text x="1098.73" y="2153.51" font-size="19.00">#</text>
<text x="1118.03" y="2188.51" font-size="19.00">#</text>
<text x="1183.33" y="2174.01" font-size="19.00">#</text>
<text x="1164.35" y="2328.85" font-size="30.00">*</text>
<text x="1199.55" y="2316.85" font-size="30.00">*</text>
<text x="862.64" y="2085.85" font-size="19.50" font-weight="bold" textLength="11.39" lengthAdjust="spacingAndGlyphs">2</text>
<text x="862.64" y="2210.85" font-size="19.50" font-weight="bold" textLength="11.39" lengthAdjust="spacingAndGlyphs">1</text>
<text x="862.64" y="2335.85" font-size="19.50" font-weight="bold" textLength="11.39" lengthAdjust="spacingAndGlyphs">0</text>
<text x="0.00" y="0.00" font-size="16.30" font-weight="bold" textLength="187.62" lengthAdjust="spacingAndGlyphs" transform="translate(804.82,2297.50) rotate(-90)">Protein expression</text>
<text x="0.00" y="0.00" font-size="18.77" font-weight="bold" textLength="116.29" lengthAdjust="spacingAndGlyphs" transform="translate(832.01,2262.20) rotate(-90)">levels (A.U.)</text>
<text x="0.00" y="0.00" font-size="22.99" font-weight="bold" textLength="107.91" lengthAdjust="spacingAndGlyphs" transform="translate(936.07,2447.50) rotate(-90)">E-cadherin</text>
<text x="0.00" y="0.00" font-size="21.34" font-weight="bold" textLength="57.39" lengthAdjust="spacingAndGlyphs" transform="translate(1016.89,2397.00) rotate(-90)">CK-18</text>
<text x="0.00" y="0.00" font-size="22.04" font-weight="bold" textLength="109.42" lengthAdjust="spacingAndGlyphs" transform="translate(1101.18,2449.00) rotate(-90)">N-cadherin</text>
<text x="0.00" y="0.00" font-size="22.45" font-weight="bold" textLength="87.79" lengthAdjust="spacingAndGlyphs" transform="translate(1184.98,2428.30) rotate(-90)">Vimentin</text>
<line x1="1357.70" y1="2076.35" x2="1357.70" y2="2333.75" stroke="#000" stroke-width="2.3" stroke-linecap="butt"/>
<line x1="1349.00" y1="2332.60" x2="1443.90" y2="2332.60" stroke="#000" stroke-width="2.3"/>
<line x1="1349.00" y1="2076.30" x2="1357.70" y2="2076.30" stroke="#000" stroke-width="2.3"/>
<line x1="1349.00" y1="2161.73" x2="1357.70" y2="2161.73" stroke="#000" stroke-width="2.3"/>
<line x1="1349.00" y1="2247.17" x2="1357.70" y2="2247.17" stroke="#000" stroke-width="2.3"/>
<line x1="1349.00" y1="2332.60" x2="1357.70" y2="2332.60" stroke="#000" stroke-width="2.3"/>
<line x1="1398.80" y1="2332.60" x2="1398.80" y2="2340.60" stroke="#000" stroke-width="2.3"/>
<rect x="1359.50" y="2162.20" width="16.30" height="170.40" fill="#000"/>
<line x1="1389.80" y1="2211.70" x2="1389.80" y2="2194.20" stroke="#000" stroke-width="2.0"/>
<line x1="1386.80" y1="2194.20" x2="1392.80" y2="2194.20" stroke="#000" stroke-width="2.4"/>
<rect x="1383.60" y="2211.70" width="12.40" height="119.90" fill="#fff" stroke="#000" stroke-width="2.0"/>
<rect x="1404.60" y="2162.20" width="14.70" height="170.40" fill="#000"/>
<line x1="1406.60" y1="2168.84" x2="1417.30" y2="2168.84" stroke="#f4f4f4" stroke-width="1.9"/>
<line x1="1406.60" y1="2177.69" x2="1417.30" y2="2177.69" stroke="#8a8a8a" stroke-width="1.9"/>
<line x1="1406.60" y1="2186.54" x2="1417.30" y2="2186.54" stroke="#f4f4f4" stroke-width="1.9"/>
<line x1="1406.60" y1="2195.39" x2="1417.30" y2="2195.39" stroke="#8a8a8a" stroke-width="1.9"/>
<line x1="1406.60" y1="2204.24" x2="1417.30" y2="2204.24" stroke="#f4f4f4" stroke-width="1.9"/>
<line x1="1406.60" y1="2213.09" x2="1417.30" y2="2213.09" stroke="#8a8a8a" stroke-width="1.9"/>
<line x1="1406.60" y1="2221.94" x2="1417.30" y2="2221.94" stroke="#f4f4f4" stroke-width="1.9"/>
<line x1="1406.60" y1="2230.79" x2="1417.30" y2="2230.79" stroke="#8a8a8a" stroke-width="1.9"/>
<line x1="1406.60" y1="2239.64" x2="1417.30" y2="2239.64" stroke="#f4f4f4" stroke-width="1.9"/>
<line x1="1406.60" y1="2248.49" x2="1417.30" y2="2248.49" stroke="#8a8a8a" stroke-width="1.9"/>
<line x1="1406.60" y1="2257.34" x2="1417.30" y2="2257.34" stroke="#f4f4f4" stroke-width="1.9"/>
<line x1="1406.60" y1="2266.19" x2="1417.30" y2="2266.19" stroke="#8a8a8a" stroke-width="1.9"/>
<line x1="1406.60" y1="2275.04" x2="1417.30" y2="2275.04" stroke="#f4f4f4" stroke-width="1.9"/>
<line x1="1406.60" y1="2283.89" x2="1417.30" y2="2283.89" stroke="#8a8a8a" stroke-width="1.9"/>
<line x1="1406.60" y1="2292.74" x2="1417.30" y2="2292.74" stroke="#f4f4f4" stroke-width="1.9"/>
<line x1="1406.60" y1="2301.59" x2="1417.30" y2="2301.59" stroke="#8a8a8a" stroke-width="1.9"/>
<line x1="1406.60" y1="2310.44" x2="1417.30" y2="2310.44" stroke="#f4f4f4" stroke-width="1.9"/>
<line x1="1406.60" y1="2319.29" x2="1417.30" y2="2319.29" stroke="#8a8a8a" stroke-width="1.9"/>
<line x1="1406.60" y1="2328.14" x2="1417.30" y2="2328.14" stroke="#f4f4f4" stroke-width="1.9"/>
<line x1="1432.50" y1="2227.40" x2="1432.50" y2="2218.60" stroke="#000" stroke-width="2.0"/>
<line x1="1429.50" y1="2218.60" x2="1435.50" y2="2218.60" stroke="#000" stroke-width="2.4"/>
<rect x="1426.00" y="2227.40" width="13.00" height="104.20" fill="#fff" stroke="#000" stroke-width="2.0"/>
<line x1="1432.50" y1="2228.40" x2="1432.50" y2="2331.60" stroke="#7a7a7a" stroke-width="1.6"/>
<text x="1383.75" y="2198.85" font-size="30.00">*</text>
<text x="1426.55" y="2222.35" font-size="30.00">*</text>
<text x="1313.87" y="2082.65" font-size="19.50" font-weight="bold" textLength="32.53" lengthAdjust="spacingAndGlyphs">1.5</text>
<text x="1313.87" y="2168.08" font-size="19.50" font-weight="bold" textLength="32.53" lengthAdjust="spacingAndGlyphs">1.0</text>
<text x="1313.87" y="2253.52" font-size="19.50" font-weight="bold" textLength="32.53" lengthAdjust="spacingAndGlyphs">0.5</text>
<text x="1313.87" y="2338.95" font-size="19.50" font-weight="bold" textLength="32.53" lengthAdjust="spacingAndGlyphs">0.0</text>
<text x="0.00" y="0.00" font-size="18.23" font-weight="bold" textLength="191.32" lengthAdjust="spacingAndGlyphs" transform="translate(1274.42,2299.80) rotate(-90)">Protein expression</text>
<text x="0.00" y="0.00" font-size="21.13" font-weight="bold" textLength="120.59" lengthAdjust="spacingAndGlyphs" transform="translate(1304.02,2264.50) rotate(-90)">levels (A.U.)</text>
<text x="0.00" y="0.00" font-size="24.17" font-weight="bold" textLength="77.28" lengthAdjust="spacingAndGlyphs" transform="translate(1406.46,2423.00) rotate(-90)">TWIST1</text>
<rect x="766.80" y="2475.80" width="28.40" height="10.90" fill="#000"/>
<text x="808.00" y="2486.02" font-size="17.55" fill="#222" textLength="105.99" lengthAdjust="spacingAndGlyphs">shLucif. NCtrl</text>
<rect x="931.40" y="2475.90" width="26.70" height="8.70" fill="#fff" stroke="#000" stroke-width="1.8"/>
<text x="972.30" y="2486.02" font-size="17.55" fill="#222" textLength="128.51" lengthAdjust="spacingAndGlyphs">shTWIST1 NCtrl</text>
<rect x="1117.00" y="2474.20" width="26.20" height="10.40" fill="#000"/>
<line x1="1119.00" y1="2479.40" x2="1141.20" y2="2479.40" stroke="#999" stroke-width="1.8"/>
<text x="1157.70" y="2485.11" font-size="18.77" fill="#222" textLength="125.80" lengthAdjust="spacingAndGlyphs">shLucif. TGF-β1</text>
<rect x="1300.10" y="2475.90" width="23.90" height="8.40" fill="#fff" stroke="#000" stroke-width="1.8"/>
<line x1="1306.00" y1="2476.00" x2="1306.00" y2="2484.20" stroke="#333" stroke-width="1.2"/>
<line x1="1312.00" y1="2476.00" x2="1312.00" y2="2484.20" stroke="#333" stroke-width="1.2"/>
<line x1="1318.00" y1="2476.00" x2="1318.00" y2="2484.20" stroke="#333" stroke-width="1.2"/>
<text x="1339.00" y="2485.11" font-size="18.77" fill="#222" textLength="148.98" lengthAdjust="spacingAndGlyphs">shTWIST1 TGF-β1</text>
</svg></body></html>
